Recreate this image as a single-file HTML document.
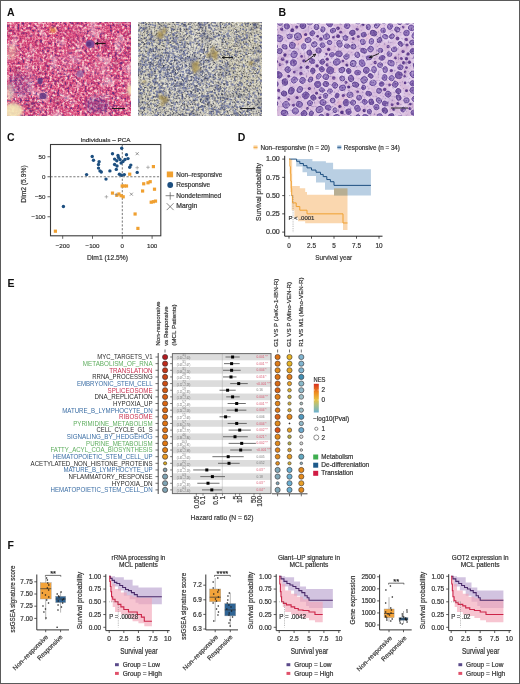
<!DOCTYPE html>
<html><head><meta charset="utf-8"><title>Figure</title>
<style>
html,body{margin:0;padding:0;background:#fff;}
body{width:520px;height:684px;overflow:hidden;}
svg{display:block;font-family:"Liberation Sans",sans-serif;will-change:transform;}
</style></head><body>
<svg width="520" height="684" viewBox="0 0 520 684">
<rect width="520" height="684" fill="#fff"/>
<text transform="translate(6.90 15.90)" font-size="10.5" fill="#111" font-weight="bold">A</text>
<text transform="translate(278.50 15.90)" font-size="10.5" fill="#111" font-weight="bold">B</text>
<defs>
<filter id="fA1" x="0" y="0" width="1" height="1" color-interpolation-filters="sRGB"><feTurbulence type="fractalNoise" baseFrequency="0.4" numOctaves="3" seed="3"/><feColorMatrix type="matrix" values="1.9 0 0 0 -0.44999999999999996  1.9 0 0 0 -0.44999999999999996  1.9 0 0 0 -0.44999999999999996  0 0 0 0 1"/><feComponentTransfer><feFuncR type="table" tableValues="0.416 0.588 0.753 0.847 0.878 0.910 0.933 0.957 0.973"/><feFuncG type="table" tableValues="0.188 0.227 0.227 0.275 0.353 0.471 0.612 0.737 0.863"/><feFuncB type="table" tableValues="0.502 0.502 0.463 0.471 0.533 0.604 0.690 0.769 0.839"/></feComponentTransfer><feGaussianBlur stdDeviation="0.35"/></filter>
<filter id="fA1c" x="0" y="0" width="1" height="1" color-interpolation-filters="sRGB"><feTurbulence type="fractalNoise" baseFrequency="0.08" numOctaves="2" seed="31"/><feColorMatrix type="matrix" values="2.0 0 0 0 -0.5  2.0 0 0 0 -0.5  2.0 0 0 0 -0.5  2.0 0 0 0 -0.5"/><feComponentTransfer><feFuncR type="table" tableValues="0.627 0.722 0.878 0.957 0.984"/><feFuncG type="table" tableValues="0.165 0.227 0.627 0.847 0.933"/><feFuncB type="table" tableValues="0.376 0.439 0.722 0.878 0.941"/><feFuncA type="table" tableValues="0.350 0.150 0.000 0.000 0.100 0.300 0.450"/></feComponentTransfer><feGaussianBlur stdDeviation="0"/></filter>
<filter id="fA1b" x="0" y="0" width="1" height="1" color-interpolation-filters="sRGB"><feTurbulence type="fractalNoise" baseFrequency="0.5" numOctaves="2" seed="9"/><feColorMatrix type="matrix" values="2.2 0 0 0 -0.6000000000000001  2.2 0 0 0 -0.6000000000000001  2.2 0 0 0 -0.6000000000000001  2.2 0 0 0 -0.6000000000000001"/><feComponentTransfer><feFuncR type="table" tableValues="0.353 0.416 0.478 0.541 0.604"/><feFuncG type="table" tableValues="0.227 0.251 0.290 0.353 0.416"/><feFuncB type="table" tableValues="0.541 0.565 0.596 0.627 0.659"/><feFuncA type="table" tableValues="0.800 0.400 0.050 0.000 0.000 0.000 0.000"/></feComponentTransfer><feGaussianBlur stdDeviation="0.35"/></filter>
<filter id="fA2" x="0" y="0" width="1" height="1" color-interpolation-filters="sRGB"><feTurbulence type="fractalNoise" baseFrequency="0.55" numOctaves="2" seed="5"/><feColorMatrix type="matrix" values="1.9 0 0 0 -0.44999999999999996  1.9 0 0 0 -0.44999999999999996  1.9 0 0 0 -0.44999999999999996  0 0 0 0 1"/><feComponentTransfer><feFuncR type="table" tableValues="0.235 0.361 0.518 0.651 0.745 0.808 0.855 0.894 0.933"/><feFuncG type="table" tableValues="0.251 0.376 0.518 0.651 0.741 0.804 0.851 0.890 0.929"/><feFuncB type="table" tableValues="0.337 0.455 0.565 0.667 0.729 0.784 0.824 0.855 0.902"/></feComponentTransfer><feGaussianBlur stdDeviation="0.3"/></filter>
<filter id="fBn" x="0" y="0" width="1" height="1" color-interpolation-filters="sRGB"><feTurbulence type="fractalNoise" baseFrequency="0.5" numOctaves="2" seed="23"/><feColorMatrix type="matrix" values="1.8 0 0 0 -0.4  1.8 0 0 0 -0.4  1.8 0 0 0 -0.4  1.8 0 0 0 -0.4"/><feComponentTransfer><feFuncR type="table" tableValues="0.290 0.478 0.722 0.910 0.957"/><feFuncG type="table" tableValues="0.188 0.353 0.596 0.847 0.918"/><feFuncB type="table" tableValues="0.502 0.659 0.784 0.925 0.957"/><feFuncA type="table" tableValues="0.350 0.150 0.000 0.000 0.000 0.200 0.350"/></feComponentTransfer><feGaussianBlur stdDeviation="0.35"/></filter>
<filter id="fA2d" x="0" y="0" width="1" height="1" color-interpolation-filters="sRGB"><feTurbulence type="fractalNoise" baseFrequency="0.09" numOctaves="2" seed="37"/><feColorMatrix type="matrix" values="2.0 0 0 0 -0.5  2.0 0 0 0 -0.5  2.0 0 0 0 -0.5  2.0 0 0 0 -0.5"/><feComponentTransfer><feFuncR type="table" tableValues="0.314 0.416 0.784 0.941 0.980"/><feFuncG type="table" tableValues="0.345 0.439 0.784 0.941 0.980"/><feFuncB type="table" tableValues="0.471 0.565 0.784 0.918 0.957"/><feFuncA type="table" tableValues="0.350 0.180 0.000 0.000 0.100 0.250 0.350"/></feComponentTransfer><feGaussianBlur stdDeviation="0"/></filter>
<filter id="fA2b" x="0" y="0" width="1" height="1" color-interpolation-filters="sRGB"><feTurbulence type="fractalNoise" baseFrequency="0.5" numOctaves="2" seed="13"/><feColorMatrix type="matrix" values="2.0 0 0 0 -0.5  2.0 0 0 0 -0.5  2.0 0 0 0 -0.5  2.0 0 0 0 -0.5"/><feComponentTransfer><feFuncR type="table" tableValues="0.627 0.690 0.753 0.816 0.878"/><feFuncG type="table" tableValues="0.565 0.627 0.690 0.769 0.847"/><feFuncB type="table" tableValues="0.314 0.376 0.439 0.533 0.659"/><feFuncA type="table" tableValues="0.000 0.050 0.120 0.220 0.320 0.400 0.450"/></feComponentTransfer><feGaussianBlur stdDeviation="0.35"/></filter>
<filter id="bl1" x="-0.5" y="-0.5" width="2" height="2"><feGaussianBlur stdDeviation="1.6"/></filter>
<filter id="bl4" x="-0.5" y="-0.5" width="2" height="2"><feGaussianBlur stdDeviation="5"/></filter>
<filter id="bl05" x="-0.2" y="-0.2" width="1.4" height="1.4"><feGaussianBlur stdDeviation="0.45"/></filter>
</defs>
<clipPath id="cA1"><rect x="7" y="22" width="124" height="94"/></clipPath>
<rect x="7.00" y="22.00" width="124.00" height="94.00" fill="#e07aa4" filter="url(#fA1)"/>
<rect x="7.00" y="22.00" width="124.00" height="94.00" fill="#e07aa4" filter="url(#fA1c)"/>
<mask id="mA1" maskUnits="userSpaceOnUse" x="7" y="22" width="124" height="94"><rect x="7" y="22" width="124" height="94" fill="#505050"/><g filter="url(#bl4)"><ellipse cx="28" cy="95" rx="22" ry="20" fill="#fff"/><ellipse cx="105" cy="105" rx="22" ry="12" fill="#fff"/><ellipse cx="65" cy="70" rx="14" ry="10" fill="#ddd"/><ellipse cx="120" cy="60" rx="10" ry="14" fill="#ccc"/><ellipse cx="40" cy="35" rx="28" ry="12" fill="#202020"/></g></mask>
<g mask="url(#mA1)">
<rect x="7.00" y="22.00" width="124.00" height="94.00" fill="#e07aa4" filter="url(#fA1b)"/>
</g>
<g clip-path="url(#cA1)">
<g filter="url(#bl1)">
<ellipse cx="13" cy="111" rx="10" ry="8" fill="#f4eab8" opacity="0.9"/>
<ellipse cx="10" cy="92" rx="4" ry="9" fill="#f2e2c0" opacity="0.6"/>
<ellipse cx="12" cy="52" rx="5" ry="8" fill="#f2c8b0" opacity="0.5"/>
<ellipse cx="131" cy="90" rx="4" ry="6" fill="#f4eab8" opacity="0.85"/>
<ellipse cx="53" cy="30" rx="3" ry="2.5" fill="#f0a040" opacity="0.8"/>
<ellipse cx="97" cy="105" rx="12" ry="8" fill="#6a3a90" opacity="0.35"/>
<ellipse cx="20" cy="85" rx="12" ry="12" fill="#7a4a9a" opacity="0.25"/>
<ellipse cx="70" cy="60" rx="10" ry="8" fill="#f0a0c0" opacity="0.25"/>
<ellipse cx="100" cy="70" rx="12" ry="10" fill="#f2b0c8" opacity="0.2"/>
<ellipse cx="30" cy="40" rx="12" ry="10" fill="#d03070" opacity="0.2"/>
<ellipse cx="75" cy="35" rx="10" ry="8" fill="#d03070" opacity="0.25"/>
</g>
<g filter="url(#bl05)">
<ellipse cx="90" cy="44" rx="4.5" ry="4" fill="#7c4b9a" opacity="0.95"/>
<ellipse cx="89" cy="44" rx="2.5" ry="2.3" fill="#5e3380" opacity="0.9"/>
<ellipse cx="80" cy="74" rx="3.5" ry="3.5" fill="#9a6aa8" opacity="0.8"/>
<ellipse cx="40" cy="81" rx="2.6" ry="3.2" fill="#5e3380" opacity="0.9"/>
<ellipse cx="43" cy="96" rx="3.6" ry="3.2" fill="#5e3380" opacity="0.85"/>
</g>
</g>
<line x1="105.50" y1="43.50" x2="95.50" y2="43.50" stroke="#111" stroke-width="0.9"/>
<line x1="95.50" y1="43.50" x2="98.20" y2="44.80" stroke="#111" stroke-width="0.9"/>
<line x1="95.50" y1="43.50" x2="98.20" y2="42.20" stroke="#111" stroke-width="0.9"/>
<line x1="112.00" y1="108.50" x2="125.00" y2="108.50" stroke="#222" stroke-width="1"/>
<clipPath id="cA2"><rect x="138" y="22" width="124" height="94"/></clipPath>
<rect x="138.00" y="22.00" width="124.00" height="94.00" fill="#c8c8c8" filter="url(#fA2)"/>
<rect x="138.00" y="22.00" width="124.00" height="94.00" fill="#c8c8c8" filter="url(#fA2d)"/>
<mask id="mA2y" maskUnits="userSpaceOnUse" x="138" y="22" width="124" height="94"><rect x="138" y="22" width="124" height="94" fill="#909090"/><g filter="url(#bl4)"><ellipse cx="245" cy="55" rx="22" ry="40" fill="#fff"/><ellipse cx="160" cy="35" rx="20" ry="12" fill="#fff"/><ellipse cx="150" cy="100" rx="12" ry="15" fill="#ddd"/><ellipse cx="185" cy="70" rx="25" ry="22" fill="#202020"/></g></mask>
<g mask="url(#mA2y)">
<rect x="138.00" y="22.00" width="124.00" height="94.00" fill="#c8c8c8" filter="url(#fA2b)"/>
</g>
<g clip-path="url(#cA2)">
<g opacity="0.85">
<circle cx="216.8" cy="50.3" r="0.87" fill="#6a72a0"/>
<circle cx="260.8" cy="28.2" r="0.96" fill="#5c6490"/>
<circle cx="201.6" cy="52.1" r="0.96" fill="#8088b0"/>
<circle cx="186.9" cy="39.4" r="0.62" fill="#646c98"/>
<circle cx="230.7" cy="74.6" r="0.68" fill="#6a72a0"/>
<circle cx="186.2" cy="78.2" r="0.92" fill="#4c5478"/>
<circle cx="235.4" cy="51.0" r="0.86" fill="#4c5478"/>
<circle cx="215.1" cy="93.2" r="1.02" fill="#7880aa"/>
<circle cx="237.6" cy="52.5" r="0.70" fill="#646c98"/>
<circle cx="159.4" cy="90.1" r="0.84" fill="#7880aa"/>
<circle cx="215.5" cy="89.8" r="0.65" fill="#7880aa"/>
<circle cx="243.1" cy="29.3" r="1.07" fill="#5c6490"/>
<circle cx="155.1" cy="25.7" r="1.03" fill="#8088b0"/>
<circle cx="166.3" cy="32.6" r="1.04" fill="#646c98"/>
<circle cx="199.9" cy="51.1" r="0.97" fill="#6a72a0"/>
<circle cx="178.8" cy="71.3" r="0.65" fill="#4c5478"/>
<circle cx="199.5" cy="64.3" r="0.65" fill="#5c6490"/>
<circle cx="241.9" cy="46.3" r="0.89" fill="#5c6490"/>
<circle cx="217.3" cy="44.1" r="0.64" fill="#7880aa"/>
<circle cx="161.1" cy="91.2" r="0.94" fill="#6a72a0"/>
<circle cx="199.5" cy="78.3" r="1.13" fill="#7880aa"/>
<circle cx="165.8" cy="26.0" r="1.14" fill="#7880aa"/>
<circle cx="148.2" cy="99.2" r="1.12" fill="#4c5478"/>
<circle cx="179.1" cy="98.1" r="0.73" fill="#5c6490"/>
<circle cx="202.0" cy="96.2" r="1.08" fill="#6a72a0"/>
<circle cx="225.8" cy="48.5" r="0.77" fill="#4c5478"/>
<circle cx="150.2" cy="94.2" r="0.72" fill="#6a72a0"/>
<circle cx="150.8" cy="39.5" r="1.10" fill="#4c5478"/>
<circle cx="255.4" cy="60.9" r="1.10" fill="#8088b0"/>
<circle cx="199.2" cy="69.6" r="0.90" fill="#8088b0"/>
<circle cx="222.0" cy="60.9" r="0.69" fill="#4c5478"/>
<circle cx="246.6" cy="97.6" r="0.85" fill="#5c6490"/>
<circle cx="169.2" cy="62.8" r="0.80" fill="#646c98"/>
<circle cx="152.8" cy="24.9" r="0.90" fill="#7880aa"/>
<circle cx="160.7" cy="70.4" r="1.07" fill="#7880aa"/>
<circle cx="145.7" cy="61.3" r="1.10" fill="#4c5478"/>
<circle cx="149.1" cy="64.2" r="0.78" fill="#8088b0"/>
<circle cx="226.7" cy="34.4" r="1.05" fill="#7880aa"/>
<circle cx="181.5" cy="92.5" r="0.97" fill="#6a72a0"/>
<circle cx="176.6" cy="77.6" r="0.89" fill="#8088b0"/>
<circle cx="244.1" cy="39.2" r="0.87" fill="#5c6490"/>
<circle cx="173.8" cy="37.5" r="0.71" fill="#646c98"/>
<circle cx="172.4" cy="79.6" r="1.00" fill="#5c6490"/>
<circle cx="148.3" cy="74.6" r="1.10" fill="#5c6490"/>
<circle cx="206.2" cy="59.6" r="0.96" fill="#8088b0"/>
<circle cx="140.5" cy="64.3" r="0.70" fill="#5c6490"/>
<circle cx="223.9" cy="68.8" r="0.95" fill="#7880aa"/>
<circle cx="156.3" cy="75.5" r="0.78" fill="#5c6490"/>
<circle cx="258.4" cy="34.5" r="0.72" fill="#4c5478"/>
<circle cx="182.6" cy="57.5" r="0.60" fill="#5c6490"/>
<circle cx="239.2" cy="36.4" r="1.03" fill="#6a72a0"/>
<circle cx="207.3" cy="79.8" r="0.84" fill="#4c5478"/>
<circle cx="180.1" cy="101.8" r="0.79" fill="#8088b0"/>
<circle cx="152.1" cy="53.5" r="0.61" fill="#7880aa"/>
<circle cx="199.1" cy="29.5" r="1.05" fill="#646c98"/>
<circle cx="203.4" cy="62.4" r="0.80" fill="#6a72a0"/>
<circle cx="180.2" cy="57.5" r="0.67" fill="#7880aa"/>
<circle cx="231.4" cy="107.2" r="0.82" fill="#8088b0"/>
<circle cx="148.3" cy="42.7" r="0.95" fill="#8088b0"/>
<circle cx="236.2" cy="113.4" r="1.12" fill="#4c5478"/>
<circle cx="256.0" cy="98.1" r="0.70" fill="#4c5478"/>
<circle cx="248.5" cy="99.0" r="0.97" fill="#4c5478"/>
<circle cx="253.1" cy="76.1" r="0.80" fill="#7880aa"/>
<circle cx="163.5" cy="94.8" r="0.78" fill="#8088b0"/>
<circle cx="224.9" cy="105.5" r="0.91" fill="#646c98"/>
<circle cx="210.5" cy="92.0" r="0.86" fill="#6a72a0"/>
<circle cx="228.3" cy="38.3" r="0.85" fill="#4c5478"/>
<circle cx="212.3" cy="86.1" r="0.69" fill="#646c98"/>
<circle cx="195.7" cy="95.1" r="0.83" fill="#646c98"/>
<circle cx="154.3" cy="84.2" r="0.83" fill="#7880aa"/>
<circle cx="257.2" cy="88.1" r="0.91" fill="#7880aa"/>
<circle cx="187.4" cy="78.5" r="0.97" fill="#6a72a0"/>
<circle cx="170.6" cy="100.7" r="1.10" fill="#7880aa"/>
<circle cx="235.1" cy="40.4" r="0.81" fill="#6a72a0"/>
<circle cx="183.3" cy="39.7" r="0.81" fill="#4c5478"/>
<circle cx="149.5" cy="52.3" r="0.97" fill="#5c6490"/>
<circle cx="158.4" cy="62.2" r="0.89" fill="#5c6490"/>
<circle cx="212.6" cy="95.4" r="0.98" fill="#4c5478"/>
<circle cx="184.4" cy="107.5" r="0.93" fill="#5c6490"/>
<circle cx="188.2" cy="48.6" r="0.80" fill="#4c5478"/>
<circle cx="148.0" cy="108.9" r="0.73" fill="#7880aa"/>
<circle cx="197.7" cy="105.2" r="1.09" fill="#646c98"/>
<circle cx="167.6" cy="99.8" r="0.95" fill="#5c6490"/>
<circle cx="225.3" cy="51.2" r="0.92" fill="#8088b0"/>
<circle cx="209.4" cy="27.3" r="1.15" fill="#6a72a0"/>
<circle cx="167.0" cy="83.4" r="0.84" fill="#4c5478"/>
<circle cx="180.1" cy="33.7" r="0.77" fill="#6a72a0"/>
<circle cx="157.9" cy="113.0" r="0.97" fill="#646c98"/>
<circle cx="253.5" cy="67.7" r="1.10" fill="#646c98"/>
<circle cx="199.3" cy="115.8" r="0.62" fill="#646c98"/>
<circle cx="187.8" cy="92.7" r="0.70" fill="#8088b0"/>
<circle cx="176.8" cy="47.0" r="0.77" fill="#6a72a0"/>
<circle cx="249.3" cy="94.2" r="0.83" fill="#5c6490"/>
<circle cx="209.1" cy="77.4" r="1.10" fill="#7880aa"/>
<circle cx="175.7" cy="46.4" r="0.66" fill="#646c98"/>
<circle cx="236.4" cy="32.2" r="0.95" fill="#4c5478"/>
<circle cx="195.5" cy="77.4" r="1.12" fill="#8088b0"/>
<circle cx="233.3" cy="107.3" r="0.75" fill="#4c5478"/>
<circle cx="165.2" cy="73.2" r="0.77" fill="#646c98"/>
<circle cx="167.9" cy="67.6" r="0.87" fill="#5c6490"/>
<circle cx="159.2" cy="49.8" r="0.97" fill="#4c5478"/>
<circle cx="153.5" cy="68.6" r="0.61" fill="#646c98"/>
<circle cx="154.0" cy="87.8" r="0.61" fill="#6a72a0"/>
<circle cx="206.4" cy="23.2" r="0.92" fill="#8088b0"/>
<circle cx="163.7" cy="67.9" r="0.79" fill="#4c5478"/>
<circle cx="241.8" cy="84.0" r="1.08" fill="#5c6490"/>
<circle cx="179.0" cy="40.3" r="0.64" fill="#6a72a0"/>
<circle cx="227.5" cy="43.5" r="1.07" fill="#8088b0"/>
<circle cx="155.5" cy="57.2" r="1.14" fill="#4c5478"/>
<circle cx="179.5" cy="50.6" r="0.86" fill="#8088b0"/>
<circle cx="253.1" cy="100.5" r="1.14" fill="#7880aa"/>
<circle cx="207.3" cy="70.6" r="0.82" fill="#8088b0"/>
<circle cx="259.4" cy="69.9" r="0.64" fill="#6a72a0"/>
<circle cx="157.0" cy="92.5" r="0.92" fill="#8088b0"/>
<circle cx="202.3" cy="74.4" r="0.73" fill="#7880aa"/>
<circle cx="227.9" cy="36.4" r="0.79" fill="#646c98"/>
<circle cx="176.4" cy="43.2" r="0.88" fill="#646c98"/>
<circle cx="153.3" cy="48.7" r="0.92" fill="#7880aa"/>
<circle cx="170.3" cy="109.0" r="0.72" fill="#7880aa"/>
<circle cx="224.7" cy="93.7" r="0.84" fill="#6a72a0"/>
<circle cx="214.3" cy="98.2" r="0.77" fill="#6a72a0"/>
<circle cx="198.8" cy="106.7" r="0.64" fill="#6a72a0"/>
<circle cx="146.6" cy="47.2" r="0.91" fill="#4c5478"/>
<circle cx="183.5" cy="53.5" r="1.10" fill="#5c6490"/>
<circle cx="145.1" cy="82.7" r="0.98" fill="#7880aa"/>
<circle cx="172.0" cy="84.7" r="0.99" fill="#4c5478"/>
<circle cx="202.3" cy="33.5" r="0.72" fill="#5c6490"/>
<circle cx="202.9" cy="83.7" r="0.88" fill="#7880aa"/>
<circle cx="170.2" cy="93.0" r="1.02" fill="#5c6490"/>
<circle cx="219.5" cy="56.8" r="0.87" fill="#4c5478"/>
<circle cx="149.9" cy="66.9" r="1.13" fill="#646c98"/>
<circle cx="207.4" cy="99.9" r="1.06" fill="#4c5478"/>
<circle cx="143.0" cy="92.3" r="0.65" fill="#6a72a0"/>
<circle cx="153.2" cy="81.3" r="1.02" fill="#7880aa"/>
<circle cx="225.1" cy="66.5" r="0.78" fill="#7880aa"/>
<circle cx="154.2" cy="104.1" r="0.60" fill="#6a72a0"/>
<circle cx="178.8" cy="58.8" r="0.64" fill="#8088b0"/>
<circle cx="177.9" cy="70.3" r="0.89" fill="#6a72a0"/>
<circle cx="209.2" cy="84.5" r="1.14" fill="#8088b0"/>
<circle cx="168.4" cy="97.5" r="0.75" fill="#646c98"/>
<circle cx="180.0" cy="61.9" r="0.71" fill="#8088b0"/>
<circle cx="257.7" cy="90.8" r="0.84" fill="#4c5478"/>
<circle cx="171.1" cy="109.1" r="0.79" fill="#6a72a0"/>
<circle cx="210.3" cy="54.2" r="0.81" fill="#4c5478"/>
<circle cx="176.0" cy="37.6" r="0.61" fill="#4c5478"/>
<circle cx="197.4" cy="99.9" r="0.86" fill="#8088b0"/>
<circle cx="256.4" cy="60.6" r="1.13" fill="#5c6490"/>
<circle cx="154.8" cy="60.8" r="0.76" fill="#4c5478"/>
<circle cx="173.7" cy="81.9" r="0.63" fill="#646c98"/>
<circle cx="196.1" cy="67.0" r="0.87" fill="#5c6490"/>
<circle cx="229.5" cy="54.9" r="0.73" fill="#5c6490"/>
<circle cx="235.1" cy="110.7" r="1.10" fill="#8088b0"/>
<circle cx="173.8" cy="86.8" r="0.74" fill="#4c5478"/>
<circle cx="186.3" cy="28.2" r="0.79" fill="#5c6490"/>
<circle cx="229.0" cy="24.0" r="0.96" fill="#646c98"/>
<circle cx="223.8" cy="102.8" r="0.72" fill="#6a72a0"/>
<circle cx="140.2" cy="92.6" r="0.71" fill="#5c6490"/>
<circle cx="171.0" cy="67.4" r="0.98" fill="#5c6490"/>
<circle cx="194.1" cy="104.0" r="0.69" fill="#8088b0"/>
<circle cx="192.3" cy="68.0" r="0.82" fill="#8088b0"/>
<circle cx="196.4" cy="58.5" r="0.76" fill="#8088b0"/>
<circle cx="235.9" cy="54.7" r="1.08" fill="#6a72a0"/>
<circle cx="227.9" cy="53.7" r="1.10" fill="#4c5478"/>
<circle cx="241.3" cy="102.3" r="0.78" fill="#4c5478"/>
<circle cx="179.4" cy="57.7" r="0.89" fill="#6a72a0"/>
<circle cx="163.4" cy="59.7" r="0.89" fill="#7880aa"/>
<circle cx="180.6" cy="116.0" r="0.66" fill="#4c5478"/>
<circle cx="253.0" cy="82.3" r="1.10" fill="#8088b0"/>
<circle cx="191.3" cy="84.1" r="0.89" fill="#4c5478"/>
<circle cx="235.4" cy="51.9" r="0.81" fill="#4c5478"/>
<circle cx="232.4" cy="107.7" r="0.68" fill="#6a72a0"/>
<circle cx="203.1" cy="110.2" r="0.88" fill="#4c5478"/>
<circle cx="170.5" cy="63.8" r="0.67" fill="#646c98"/>
<circle cx="242.3" cy="59.3" r="1.06" fill="#646c98"/>
<circle cx="179.2" cy="69.0" r="1.00" fill="#5c6490"/>
<circle cx="224.5" cy="109.9" r="0.78" fill="#4c5478"/>
<circle cx="171.5" cy="72.2" r="0.66" fill="#6a72a0"/>
<circle cx="231.0" cy="81.6" r="0.65" fill="#646c98"/>
<circle cx="173.5" cy="35.1" r="1.11" fill="#7880aa"/>
<circle cx="147.7" cy="85.2" r="1.02" fill="#6a72a0"/>
<circle cx="259.2" cy="79.0" r="0.78" fill="#8088b0"/>
<circle cx="149.4" cy="84.0" r="0.71" fill="#5c6490"/>
<circle cx="243.5" cy="64.7" r="0.98" fill="#5c6490"/>
<circle cx="202.3" cy="46.8" r="1.03" fill="#646c98"/>
<circle cx="254.8" cy="35.7" r="1.02" fill="#5c6490"/>
<circle cx="195.3" cy="39.5" r="1.12" fill="#646c98"/>
<circle cx="204.1" cy="25.0" r="1.10" fill="#5c6490"/>
<circle cx="220.5" cy="89.2" r="0.78" fill="#4c5478"/>
<circle cx="179.4" cy="58.1" r="0.82" fill="#8088b0"/>
<circle cx="223.0" cy="105.4" r="0.79" fill="#8088b0"/>
<circle cx="162.6" cy="67.5" r="0.72" fill="#4c5478"/>
<circle cx="143.4" cy="55.9" r="1.10" fill="#5c6490"/>
<circle cx="209.0" cy="98.0" r="0.67" fill="#5c6490"/>
<circle cx="213.7" cy="22.4" r="0.92" fill="#7880aa"/>
<circle cx="156.0" cy="76.4" r="1.03" fill="#5c6490"/>
<circle cx="239.3" cy="82.2" r="0.76" fill="#6a72a0"/>
<circle cx="182.0" cy="47.8" r="0.64" fill="#4c5478"/>
<circle cx="261.2" cy="111.0" r="1.08" fill="#4c5478"/>
<circle cx="218.9" cy="94.7" r="0.62" fill="#5c6490"/>
<circle cx="164.4" cy="55.6" r="0.64" fill="#7880aa"/>
<circle cx="250.1" cy="114.1" r="0.94" fill="#6a72a0"/>
<circle cx="173.8" cy="68.8" r="0.88" fill="#4c5478"/>
<circle cx="191.9" cy="87.6" r="0.79" fill="#646c98"/>
<circle cx="191.7" cy="102.1" r="0.80" fill="#4c5478"/>
<circle cx="178.8" cy="57.7" r="0.68" fill="#7880aa"/>
<circle cx="183.8" cy="39.1" r="0.88" fill="#4c5478"/>
<circle cx="195.1" cy="64.8" r="0.87" fill="#646c98"/>
<circle cx="216.1" cy="69.0" r="0.75" fill="#4c5478"/>
<circle cx="200.4" cy="107.0" r="0.90" fill="#5c6490"/>
<circle cx="167.5" cy="48.6" r="1.13" fill="#8088b0"/>
<circle cx="167.3" cy="39.4" r="1.08" fill="#646c98"/>
<circle cx="172.1" cy="40.8" r="0.86" fill="#5c6490"/>
<circle cx="165.8" cy="64.7" r="0.79" fill="#8088b0"/>
<circle cx="238.8" cy="31.3" r="0.78" fill="#4c5478"/>
<circle cx="215.2" cy="23.0" r="0.86" fill="#5c6490"/>
<circle cx="239.8" cy="106.7" r="1.05" fill="#6a72a0"/>
<circle cx="247.7" cy="101.6" r="0.70" fill="#6a72a0"/>
<circle cx="220.6" cy="109.1" r="1.15" fill="#646c98"/>
<circle cx="157.8" cy="100.3" r="0.88" fill="#6a72a0"/>
<circle cx="148.6" cy="104.9" r="0.92" fill="#4c5478"/>
<circle cx="159.8" cy="64.6" r="1.09" fill="#6a72a0"/>
<circle cx="213.6" cy="70.5" r="0.84" fill="#646c98"/>
<circle cx="225.5" cy="99.6" r="0.74" fill="#7880aa"/>
<circle cx="208.8" cy="61.8" r="0.95" fill="#6a72a0"/>
<circle cx="232.5" cy="56.8" r="0.82" fill="#5c6490"/>
<circle cx="183.3" cy="47.2" r="0.78" fill="#8088b0"/>
<circle cx="180.2" cy="87.7" r="0.75" fill="#8088b0"/>
<circle cx="204.9" cy="55.5" r="0.64" fill="#6a72a0"/>
<circle cx="165.1" cy="27.1" r="0.79" fill="#4c5478"/>
<circle cx="189.7" cy="63.6" r="0.72" fill="#7880aa"/>
<circle cx="193.3" cy="71.6" r="1.07" fill="#7880aa"/>
<circle cx="261.1" cy="80.6" r="1.08" fill="#4c5478"/>
<circle cx="203.2" cy="89.8" r="1.07" fill="#7880aa"/>
<circle cx="217.6" cy="55.3" r="1.11" fill="#7880aa"/>
<circle cx="177.2" cy="43.9" r="1.08" fill="#4c5478"/>
<circle cx="237.5" cy="115.0" r="1.10" fill="#646c98"/>
<circle cx="154.9" cy="68.8" r="0.64" fill="#6a72a0"/>
<circle cx="144.7" cy="65.2" r="1.04" fill="#6a72a0"/>
<circle cx="140.5" cy="28.0" r="1.13" fill="#5c6490"/>
<circle cx="157.1" cy="49.8" r="0.65" fill="#7880aa"/>
<circle cx="164.0" cy="68.0" r="0.87" fill="#7880aa"/>
<circle cx="244.6" cy="90.9" r="0.78" fill="#4c5478"/>
<circle cx="219.3" cy="91.1" r="1.11" fill="#5c6490"/>
<circle cx="148.6" cy="83.4" r="0.74" fill="#646c98"/>
<circle cx="194.4" cy="69.6" r="0.61" fill="#6a72a0"/>
<circle cx="219.1" cy="35.5" r="1.12" fill="#7880aa"/>
<circle cx="228.8" cy="107.3" r="1.08" fill="#7880aa"/>
<circle cx="146.8" cy="64.7" r="0.94" fill="#7880aa"/>
<circle cx="224.5" cy="107.8" r="0.87" fill="#5c6490"/>
<circle cx="244.2" cy="55.9" r="0.84" fill="#5c6490"/>
<circle cx="218.4" cy="55.5" r="0.81" fill="#6a72a0"/>
<circle cx="167.1" cy="66.2" r="0.66" fill="#8088b0"/>
<circle cx="192.1" cy="84.5" r="0.63" fill="#6a72a0"/>
<circle cx="192.9" cy="94.9" r="0.80" fill="#8088b0"/>
<circle cx="180.8" cy="107.1" r="0.76" fill="#646c98"/>
<circle cx="179.8" cy="68.2" r="0.94" fill="#4c5478"/>
<circle cx="152.9" cy="97.0" r="0.73" fill="#8088b0"/>
<circle cx="249.2" cy="112.5" r="0.78" fill="#6a72a0"/>
<circle cx="166.8" cy="61.0" r="0.61" fill="#7880aa"/>
<circle cx="198.9" cy="44.7" r="0.96" fill="#7880aa"/>
<circle cx="168.8" cy="52.9" r="0.68" fill="#6a72a0"/>
<circle cx="153.2" cy="55.6" r="1.05" fill="#5c6490"/>
<circle cx="160.2" cy="74.5" r="0.76" fill="#7880aa"/>
<circle cx="142.4" cy="114.4" r="0.89" fill="#8088b0"/>
<circle cx="142.5" cy="54.7" r="0.84" fill="#6a72a0"/>
<circle cx="193.4" cy="42.4" r="0.97" fill="#7880aa"/>
<circle cx="194.6" cy="65.8" r="0.92" fill="#8088b0"/>
<circle cx="222.0" cy="68.0" r="0.96" fill="#646c98"/>
<circle cx="201.1" cy="65.1" r="0.91" fill="#646c98"/>
<circle cx="237.6" cy="65.3" r="0.63" fill="#4c5478"/>
<circle cx="185.4" cy="66.8" r="1.09" fill="#7880aa"/>
<circle cx="197.6" cy="104.4" r="1.02" fill="#646c98"/>
<circle cx="163.3" cy="29.5" r="0.89" fill="#5c6490"/>
<circle cx="220.9" cy="107.7" r="0.69" fill="#7880aa"/>
<circle cx="157.3" cy="83.3" r="1.09" fill="#646c98"/>
<circle cx="208.8" cy="72.5" r="0.78" fill="#5c6490"/>
<circle cx="143.5" cy="23.1" r="0.98" fill="#7880aa"/>
<circle cx="254.1" cy="24.7" r="1.03" fill="#4c5478"/>
<circle cx="185.1" cy="89.0" r="0.78" fill="#5c6490"/>
<circle cx="160.7" cy="86.5" r="1.02" fill="#6a72a0"/>
<circle cx="141.1" cy="60.5" r="0.67" fill="#5c6490"/>
<circle cx="215.0" cy="26.0" r="0.99" fill="#8088b0"/>
<circle cx="223.7" cy="113.8" r="0.71" fill="#7880aa"/>
<circle cx="178.0" cy="48.5" r="0.95" fill="#8088b0"/>
<circle cx="224.4" cy="90.9" r="0.86" fill="#6a72a0"/>
<circle cx="214.6" cy="99.1" r="0.67" fill="#6a72a0"/>
<circle cx="161.6" cy="58.7" r="1.13" fill="#646c98"/>
<circle cx="223.4" cy="75.7" r="1.08" fill="#6a72a0"/>
<circle cx="225.7" cy="111.6" r="0.88" fill="#8088b0"/>
<circle cx="254.5" cy="108.7" r="0.89" fill="#5c6490"/>
<circle cx="155.5" cy="82.5" r="1.08" fill="#4c5478"/>
<circle cx="158.7" cy="60.9" r="0.64" fill="#7880aa"/>
<circle cx="220.5" cy="97.5" r="1.05" fill="#4c5478"/>
<circle cx="169.8" cy="89.4" r="0.82" fill="#646c98"/>
<circle cx="160.4" cy="43.8" r="0.61" fill="#7880aa"/>
<circle cx="210.5" cy="74.4" r="1.07" fill="#646c98"/>
<circle cx="196.3" cy="80.3" r="0.98" fill="#6a72a0"/>
<circle cx="190.8" cy="93.6" r="0.97" fill="#6a72a0"/>
<circle cx="183.3" cy="88.5" r="1.07" fill="#7880aa"/>
<circle cx="181.5" cy="50.7" r="1.01" fill="#4c5478"/>
<circle cx="151.3" cy="41.0" r="1.04" fill="#8088b0"/>
<circle cx="225.1" cy="101.4" r="1.08" fill="#6a72a0"/>
<circle cx="204.3" cy="106.5" r="0.97" fill="#4c5478"/>
<circle cx="195.4" cy="60.1" r="1.09" fill="#8088b0"/>
<circle cx="148.9" cy="54.3" r="0.71" fill="#5c6490"/>
<circle cx="153.2" cy="56.7" r="0.86" fill="#7880aa"/>
<circle cx="146.2" cy="24.8" r="0.82" fill="#6a72a0"/>
<circle cx="227.6" cy="62.3" r="0.73" fill="#5c6490"/>
<circle cx="247.0" cy="50.1" r="0.80" fill="#6a72a0"/>
<circle cx="217.7" cy="35.9" r="0.69" fill="#8088b0"/>
<circle cx="193.7" cy="84.9" r="0.81" fill="#6a72a0"/>
<circle cx="254.2" cy="102.8" r="0.76" fill="#8088b0"/>
<circle cx="214.3" cy="107.1" r="0.78" fill="#4c5478"/>
<circle cx="156.1" cy="48.4" r="1.13" fill="#6a72a0"/>
<circle cx="186.4" cy="79.8" r="1.00" fill="#8088b0"/>
<circle cx="158.9" cy="72.1" r="0.73" fill="#8088b0"/>
<circle cx="152.2" cy="59.9" r="1.09" fill="#7880aa"/>
<circle cx="222.8" cy="73.6" r="0.93" fill="#646c98"/>
<circle cx="173.7" cy="83.8" r="0.91" fill="#646c98"/>
<circle cx="243.3" cy="35.9" r="0.85" fill="#8088b0"/>
<circle cx="184.5" cy="53.7" r="0.82" fill="#6a72a0"/>
<circle cx="155.1" cy="115.0" r="0.91" fill="#8088b0"/>
<circle cx="167.1" cy="52.5" r="1.11" fill="#4c5478"/>
<circle cx="211.1" cy="38.6" r="1.14" fill="#4c5478"/>
<circle cx="167.7" cy="79.2" r="0.83" fill="#646c98"/>
<circle cx="216.1" cy="67.7" r="1.11" fill="#646c98"/>
<circle cx="214.8" cy="30.1" r="0.64" fill="#5c6490"/>
<circle cx="148.0" cy="52.1" r="0.68" fill="#4c5478"/>
<circle cx="148.8" cy="60.1" r="0.76" fill="#7880aa"/>
<circle cx="194.9" cy="75.0" r="1.07" fill="#4c5478"/>
<circle cx="182.3" cy="115.5" r="0.68" fill="#7880aa"/>
<circle cx="217.4" cy="26.1" r="0.84" fill="#7880aa"/>
<circle cx="186.5" cy="70.4" r="0.90" fill="#6a72a0"/>
<circle cx="164.5" cy="88.2" r="1.00" fill="#8088b0"/>
<circle cx="227.6" cy="70.3" r="1.04" fill="#7880aa"/>
<circle cx="203.3" cy="111.2" r="0.62" fill="#8088b0"/>
<circle cx="236.5" cy="36.6" r="1.03" fill="#5c6490"/>
<circle cx="140.2" cy="39.7" r="0.68" fill="#7880aa"/>
<circle cx="201.2" cy="24.5" r="1.02" fill="#8088b0"/>
<circle cx="143.1" cy="108.4" r="0.77" fill="#7880aa"/>
<circle cx="176.8" cy="22.2" r="0.96" fill="#8088b0"/>
<circle cx="181.9" cy="59.1" r="0.77" fill="#7880aa"/>
<circle cx="226.6" cy="81.8" r="0.65" fill="#4c5478"/>
<circle cx="181.7" cy="42.3" r="0.94" fill="#6a72a0"/>
<circle cx="168.0" cy="53.3" r="1.08" fill="#5c6490"/>
<circle cx="184.6" cy="79.0" r="0.97" fill="#646c98"/>
<circle cx="159.8" cy="71.8" r="1.05" fill="#646c98"/>
<circle cx="183.5" cy="25.9" r="0.72" fill="#6a72a0"/>
<circle cx="143.5" cy="23.0" r="1.02" fill="#4c5478"/>
<circle cx="149.9" cy="68.1" r="0.97" fill="#6a72a0"/>
<circle cx="174.8" cy="48.3" r="0.95" fill="#4c5478"/>
<circle cx="175.4" cy="41.5" r="1.11" fill="#8088b0"/>
<circle cx="158.4" cy="55.8" r="0.91" fill="#646c98"/>
<circle cx="179.5" cy="102.4" r="0.67" fill="#8088b0"/>
<circle cx="203.1" cy="108.4" r="1.04" fill="#7880aa"/>
<circle cx="177.1" cy="22.0" r="1.11" fill="#4c5478"/>
<circle cx="155.5" cy="47.8" r="1.07" fill="#4c5478"/>
<circle cx="235.2" cy="98.3" r="0.78" fill="#7880aa"/>
<circle cx="172.8" cy="72.6" r="0.69" fill="#5c6490"/>
<circle cx="161.0" cy="65.6" r="0.97" fill="#6a72a0"/>
<circle cx="162.1" cy="78.0" r="0.61" fill="#8088b0"/>
<circle cx="230.4" cy="103.2" r="0.68" fill="#4c5478"/>
<circle cx="167.1" cy="76.2" r="0.80" fill="#646c98"/>
<circle cx="196.7" cy="71.3" r="1.12" fill="#8088b0"/>
<circle cx="203.9" cy="103.0" r="0.92" fill="#5c6490"/>
<circle cx="201.7" cy="95.0" r="0.65" fill="#4c5478"/>
<circle cx="214.9" cy="99.0" r="0.61" fill="#4c5478"/>
<circle cx="220.7" cy="54.2" r="0.79" fill="#5c6490"/>
<circle cx="151.2" cy="58.9" r="0.91" fill="#8088b0"/>
<circle cx="166.5" cy="27.3" r="0.76" fill="#7880aa"/>
<circle cx="207.9" cy="96.1" r="0.87" fill="#5c6490"/>
<circle cx="138.8" cy="34.8" r="0.78" fill="#646c98"/>
<circle cx="261.7" cy="47.7" r="1.09" fill="#646c98"/>
<circle cx="162.8" cy="92.7" r="0.88" fill="#7880aa"/>
<circle cx="225.1" cy="52.2" r="0.61" fill="#646c98"/>
<circle cx="165.5" cy="50.6" r="1.03" fill="#646c98"/>
<circle cx="198.8" cy="83.6" r="1.07" fill="#646c98"/>
<circle cx="176.2" cy="49.2" r="1.08" fill="#6a72a0"/>
<circle cx="196.4" cy="73.4" r="1.04" fill="#7880aa"/>
<circle cx="234.7" cy="64.5" r="0.93" fill="#5c6490"/>
<circle cx="138.2" cy="99.4" r="0.92" fill="#646c98"/>
<circle cx="198.3" cy="41.6" r="1.04" fill="#7880aa"/>
<circle cx="155.3" cy="25.5" r="0.93" fill="#646c98"/>
<circle cx="163.2" cy="83.6" r="1.15" fill="#5c6490"/>
<circle cx="146.1" cy="37.5" r="0.91" fill="#646c98"/>
<circle cx="172.1" cy="60.6" r="0.78" fill="#5c6490"/>
<circle cx="162.1" cy="88.1" r="0.90" fill="#5c6490"/>
<circle cx="218.2" cy="57.5" r="0.99" fill="#8088b0"/>
<circle cx="227.0" cy="67.1" r="0.70" fill="#646c98"/>
<circle cx="162.6" cy="40.2" r="1.05" fill="#8088b0"/>
<circle cx="168.7" cy="55.6" r="1.05" fill="#646c98"/>
<circle cx="156.4" cy="91.3" r="0.82" fill="#646c98"/>
<circle cx="165.1" cy="53.0" r="0.75" fill="#4c5478"/>
<circle cx="193.4" cy="107.5" r="1.03" fill="#7880aa"/>
<circle cx="172.7" cy="79.6" r="0.81" fill="#4c5478"/>
<circle cx="208.9" cy="102.5" r="1.06" fill="#4c5478"/>
<circle cx="186.0" cy="31.2" r="0.73" fill="#646c98"/>
<circle cx="173.4" cy="71.7" r="1.12" fill="#646c98"/>
<circle cx="173.8" cy="74.0" r="0.72" fill="#5c6490"/>
<circle cx="194.8" cy="95.8" r="0.99" fill="#7880aa"/>
<circle cx="247.6" cy="110.7" r="1.10" fill="#4c5478"/>
<circle cx="255.4" cy="28.2" r="0.89" fill="#7880aa"/>
<circle cx="167.1" cy="60.5" r="1.01" fill="#6a72a0"/>
<circle cx="198.0" cy="81.5" r="0.96" fill="#5c6490"/>
<circle cx="153.9" cy="81.9" r="1.01" fill="#5c6490"/>
<circle cx="189.0" cy="57.5" r="0.91" fill="#646c98"/>
<circle cx="187.1" cy="85.3" r="0.75" fill="#8088b0"/>
<circle cx="139.1" cy="30.4" r="0.97" fill="#646c98"/>
<circle cx="138.6" cy="37.4" r="0.75" fill="#5c6490"/>
<circle cx="229.1" cy="115.7" r="0.92" fill="#5c6490"/>
<circle cx="138.9" cy="70.0" r="1.10" fill="#5c6490"/>
<circle cx="158.5" cy="64.1" r="0.87" fill="#6a72a0"/>
<circle cx="240.2" cy="37.8" r="1.01" fill="#646c98"/>
<circle cx="145.5" cy="63.4" r="0.98" fill="#8088b0"/>
<circle cx="241.4" cy="78.0" r="1.02" fill="#4c5478"/>
<circle cx="158.9" cy="67.5" r="0.63" fill="#6a72a0"/>
<circle cx="150.4" cy="108.9" r="1.01" fill="#7880aa"/>
<circle cx="181.6" cy="57.5" r="0.97" fill="#5c6490"/>
<circle cx="151.8" cy="51.6" r="0.81" fill="#4c5478"/>
<circle cx="165.5" cy="73.8" r="1.01" fill="#6a72a0"/>
<circle cx="151.5" cy="34.6" r="0.65" fill="#646c98"/>
<circle cx="168.3" cy="59.1" r="0.81" fill="#5c6490"/>
<circle cx="180.9" cy="47.6" r="0.88" fill="#7880aa"/>
<circle cx="146.2" cy="46.6" r="0.92" fill="#7880aa"/>
<circle cx="254.6" cy="24.9" r="1.14" fill="#7880aa"/>
<circle cx="151.2" cy="58.4" r="0.71" fill="#646c98"/>
<circle cx="257.5" cy="50.8" r="0.92" fill="#7880aa"/>
<circle cx="171.3" cy="53.3" r="1.09" fill="#7880aa"/>
<circle cx="192.7" cy="111.6" r="0.98" fill="#4c5478"/>
<circle cx="207.0" cy="102.3" r="0.76" fill="#8088b0"/>
<circle cx="242.4" cy="106.0" r="0.89" fill="#6a72a0"/>
<circle cx="177.3" cy="103.1" r="0.69" fill="#5c6490"/>
<circle cx="163.4" cy="76.7" r="0.84" fill="#7880aa"/>
<circle cx="200.5" cy="26.5" r="0.70" fill="#6a72a0"/>
<circle cx="250.5" cy="57.8" r="0.86" fill="#8088b0"/>
<circle cx="163.9" cy="52.5" r="1.01" fill="#8088b0"/>
<circle cx="194.0" cy="81.9" r="0.63" fill="#646c98"/>
<circle cx="206.5" cy="98.9" r="0.76" fill="#646c98"/>
<circle cx="223.1" cy="41.2" r="0.68" fill="#6a72a0"/>
<circle cx="244.6" cy="87.4" r="0.90" fill="#646c98"/>
<circle cx="210.2" cy="59.5" r="0.82" fill="#8088b0"/>
<circle cx="209.4" cy="108.5" r="1.04" fill="#7880aa"/>
<circle cx="163.9" cy="107.7" r="1.04" fill="#5c6490"/>
<circle cx="235.3" cy="97.8" r="0.68" fill="#646c98"/>
<circle cx="173.2" cy="72.1" r="0.76" fill="#646c98"/>
<circle cx="224.6" cy="107.9" r="1.07" fill="#646c98"/>
<circle cx="230.8" cy="101.7" r="0.77" fill="#8088b0"/>
<circle cx="145.2" cy="103.1" r="1.01" fill="#8088b0"/>
<circle cx="142.5" cy="61.9" r="0.82" fill="#8088b0"/>
<circle cx="183.3" cy="74.5" r="1.09" fill="#7880aa"/>
<circle cx="140.5" cy="26.9" r="0.63" fill="#8088b0"/>
<circle cx="142.5" cy="58.7" r="1.13" fill="#4c5478"/>
<circle cx="180.3" cy="84.2" r="0.86" fill="#6a72a0"/>
<circle cx="201.3" cy="48.0" r="0.87" fill="#6a72a0"/>
<circle cx="149.2" cy="24.7" r="0.66" fill="#646c98"/>
<circle cx="206.7" cy="96.4" r="0.98" fill="#4c5478"/>
<circle cx="159.8" cy="107.2" r="0.72" fill="#4c5478"/>
<circle cx="160.8" cy="106.9" r="0.82" fill="#646c98"/>
<circle cx="151.0" cy="90.8" r="1.12" fill="#6a72a0"/>
<circle cx="167.9" cy="78.4" r="0.71" fill="#4c5478"/>
<circle cx="231.6" cy="56.5" r="0.90" fill="#4c5478"/>
<circle cx="203.8" cy="61.9" r="0.85" fill="#5c6490"/>
<circle cx="138.2" cy="44.2" r="0.64" fill="#8088b0"/>
<circle cx="254.8" cy="41.2" r="0.94" fill="#6a72a0"/>
<circle cx="251.7" cy="69.0" r="0.60" fill="#7880aa"/>
<circle cx="246.7" cy="43.8" r="1.11" fill="#4c5478"/>
<circle cx="147.7" cy="44.3" r="0.88" fill="#8088b0"/>
<circle cx="252.0" cy="60.1" r="0.81" fill="#8088b0"/>
<circle cx="138.2" cy="34.0" r="0.65" fill="#7880aa"/>
<circle cx="190.0" cy="26.8" r="1.08" fill="#6a72a0"/>
<circle cx="222.7" cy="114.2" r="0.66" fill="#7880aa"/>
<circle cx="209.4" cy="26.7" r="0.74" fill="#7880aa"/>
<circle cx="208.2" cy="101.0" r="0.84" fill="#8088b0"/>
<circle cx="155.6" cy="105.3" r="0.82" fill="#8088b0"/>
<circle cx="173.4" cy="82.8" r="0.89" fill="#6a72a0"/>
<circle cx="227.7" cy="106.5" r="1.01" fill="#6a72a0"/>
<circle cx="182.5" cy="114.2" r="1.14" fill="#4c5478"/>
<circle cx="227.2" cy="105.8" r="0.99" fill="#6a72a0"/>
<circle cx="190.4" cy="74.0" r="0.65" fill="#7880aa"/>
<circle cx="212.0" cy="114.7" r="0.94" fill="#8088b0"/>
<circle cx="185.4" cy="26.4" r="0.85" fill="#6a72a0"/>
<circle cx="163.9" cy="69.9" r="0.86" fill="#7880aa"/>
<circle cx="250.0" cy="108.2" r="0.75" fill="#7880aa"/>
<circle cx="148.1" cy="60.1" r="0.86" fill="#4c5478"/>
<circle cx="223.2" cy="57.8" r="0.69" fill="#6a72a0"/>
<circle cx="142.9" cy="71.9" r="0.94" fill="#4c5478"/>
<circle cx="254.7" cy="53.2" r="0.93" fill="#7880aa"/>
<circle cx="223.4" cy="72.8" r="0.76" fill="#7880aa"/>
<circle cx="258.6" cy="107.5" r="0.84" fill="#4c5478"/>
<circle cx="239.8" cy="97.1" r="1.07" fill="#7880aa"/>
<circle cx="161.1" cy="55.2" r="0.80" fill="#5c6490"/>
<circle cx="189.1" cy="88.2" r="0.96" fill="#7880aa"/>
<circle cx="158.7" cy="92.0" r="0.65" fill="#8088b0"/>
<circle cx="158.3" cy="97.3" r="0.77" fill="#8088b0"/>
<circle cx="191.5" cy="65.7" r="0.98" fill="#8088b0"/>
<circle cx="184.1" cy="46.4" r="1.03" fill="#646c98"/>
<circle cx="185.2" cy="54.9" r="0.95" fill="#6a72a0"/>
<circle cx="198.0" cy="89.6" r="0.80" fill="#4c5478"/>
<circle cx="196.5" cy="110.0" r="0.78" fill="#4c5478"/>
<circle cx="184.8" cy="44.0" r="0.94" fill="#5c6490"/>
<circle cx="191.6" cy="92.8" r="0.99" fill="#4c5478"/>
<circle cx="203.6" cy="66.8" r="1.00" fill="#4c5478"/>
<circle cx="165.3" cy="36.4" r="0.68" fill="#6a72a0"/>
<circle cx="254.0" cy="59.4" r="0.74" fill="#7880aa"/>
<circle cx="166.2" cy="29.5" r="0.87" fill="#7880aa"/>
<circle cx="234.7" cy="113.8" r="0.91" fill="#4c5478"/>
<circle cx="146.6" cy="43.4" r="0.76" fill="#4c5478"/>
<circle cx="212.3" cy="108.1" r="0.95" fill="#7880aa"/>
<circle cx="209.0" cy="27.7" r="0.78" fill="#4c5478"/>
<circle cx="191.2" cy="102.3" r="0.80" fill="#646c98"/>
<circle cx="213.2" cy="111.3" r="1.11" fill="#5c6490"/>
<circle cx="139.4" cy="88.7" r="1.06" fill="#646c98"/>
<circle cx="152.3" cy="36.7" r="1.00" fill="#5c6490"/>
<circle cx="144.1" cy="50.1" r="0.77" fill="#5c6490"/>
<circle cx="242.1" cy="112.6" r="0.87" fill="#8088b0"/>
<circle cx="254.3" cy="96.9" r="0.63" fill="#646c98"/>
<circle cx="176.2" cy="41.0" r="0.94" fill="#8088b0"/>
<circle cx="188.3" cy="70.0" r="1.09" fill="#6a72a0"/>
<circle cx="151.8" cy="75.5" r="0.99" fill="#646c98"/>
<circle cx="140.1" cy="35.9" r="0.82" fill="#8088b0"/>
<circle cx="168.5" cy="40.6" r="1.01" fill="#646c98"/>
<circle cx="197.4" cy="61.4" r="0.66" fill="#646c98"/>
<circle cx="144.2" cy="101.9" r="0.61" fill="#6a72a0"/>
<circle cx="220.7" cy="88.4" r="0.90" fill="#4c5478"/>
<circle cx="217.0" cy="88.6" r="1.04" fill="#646c98"/>
<circle cx="189.7" cy="73.7" r="1.14" fill="#4c5478"/>
<circle cx="176.0" cy="77.5" r="0.83" fill="#8088b0"/>
<circle cx="153.9" cy="93.2" r="0.90" fill="#5c6490"/>
<circle cx="205.4" cy="71.2" r="0.64" fill="#7880aa"/>
<circle cx="154.6" cy="58.1" r="0.83" fill="#646c98"/>
<circle cx="229.9" cy="99.2" r="1.04" fill="#8088b0"/>
<circle cx="173.7" cy="102.2" r="0.71" fill="#4c5478"/>
<circle cx="140.3" cy="86.6" r="0.65" fill="#6a72a0"/>
<circle cx="225.4" cy="54.4" r="0.83" fill="#8088b0"/>
<circle cx="241.7" cy="47.4" r="0.62" fill="#646c98"/>
<circle cx="259.1" cy="107.9" r="1.08" fill="#4c5478"/>
<circle cx="160.3" cy="39.9" r="1.03" fill="#646c98"/>
<circle cx="178.2" cy="95.4" r="0.89" fill="#4c5478"/>
<circle cx="241.1" cy="108.9" r="1.11" fill="#5c6490"/>
<circle cx="181.8" cy="60.8" r="0.97" fill="#4c5478"/>
<circle cx="142.3" cy="108.6" r="0.73" fill="#7880aa"/>
<circle cx="174.7" cy="55.9" r="1.13" fill="#7880aa"/>
<circle cx="191.4" cy="79.7" r="0.80" fill="#6a72a0"/>
<circle cx="148.9" cy="56.2" r="0.64" fill="#646c98"/>
<circle cx="197.5" cy="109.8" r="0.99" fill="#7880aa"/>
<circle cx="164.9" cy="112.0" r="0.85" fill="#4c5478"/>
<circle cx="217.4" cy="111.6" r="1.05" fill="#6a72a0"/>
<circle cx="142.1" cy="42.4" r="0.84" fill="#4c5478"/>
<circle cx="197.7" cy="52.7" r="1.10" fill="#8088b0"/>
<circle cx="203.0" cy="51.9" r="0.99" fill="#646c98"/>
<circle cx="195.9" cy="41.2" r="0.60" fill="#646c98"/>
<circle cx="196.4" cy="48.2" r="0.95" fill="#7880aa"/>
<circle cx="184.4" cy="83.2" r="1.10" fill="#8088b0"/>
<circle cx="205.3" cy="77.4" r="1.08" fill="#4c5478"/>
<circle cx="213.3" cy="30.9" r="0.92" fill="#8088b0"/>
<circle cx="174.0" cy="107.6" r="1.14" fill="#646c98"/>
<circle cx="153.7" cy="74.0" r="0.62" fill="#6a72a0"/>
<circle cx="257.8" cy="80.5" r="0.73" fill="#6a72a0"/>
<circle cx="248.1" cy="23.6" r="1.05" fill="#4c5478"/>
<circle cx="216.9" cy="112.6" r="1.11" fill="#646c98"/>
<circle cx="224.1" cy="35.9" r="1.12" fill="#4c5478"/>
<circle cx="153.2" cy="62.7" r="0.65" fill="#4c5478"/>
<circle cx="165.6" cy="58.8" r="0.71" fill="#4c5478"/>
<circle cx="198.7" cy="83.8" r="0.90" fill="#646c98"/>
<circle cx="202.7" cy="71.2" r="0.70" fill="#7880aa"/>
<circle cx="248.4" cy="102.2" r="1.01" fill="#6a72a0"/>
<circle cx="166.8" cy="32.5" r="0.82" fill="#6a72a0"/>
<circle cx="174.9" cy="104.6" r="1.08" fill="#7880aa"/>
<circle cx="185.5" cy="57.6" r="0.63" fill="#4c5478"/>
<circle cx="188.1" cy="102.1" r="0.90" fill="#6a72a0"/>
<circle cx="189.4" cy="28.9" r="1.06" fill="#7880aa"/>
<circle cx="142.3" cy="107.7" r="1.14" fill="#5c6490"/>
<circle cx="192.9" cy="68.1" r="0.98" fill="#5c6490"/>
<circle cx="221.4" cy="35.7" r="0.79" fill="#7880aa"/>
<circle cx="228.9" cy="30.8" r="0.87" fill="#6a72a0"/>
<circle cx="171.8" cy="88.1" r="0.88" fill="#8088b0"/>
<circle cx="241.7" cy="85.1" r="1.09" fill="#7880aa"/>
<circle cx="227.5" cy="105.9" r="0.90" fill="#8088b0"/>
<circle cx="220.6" cy="54.1" r="0.75" fill="#7880aa"/>
<circle cx="202.6" cy="96.9" r="1.05" fill="#8088b0"/>
<circle cx="143.6" cy="27.6" r="0.69" fill="#8088b0"/>
<circle cx="243.9" cy="111.5" r="0.98" fill="#6a72a0"/>
<circle cx="201.5" cy="107.2" r="0.81" fill="#646c98"/>
<circle cx="238.2" cy="88.7" r="0.71" fill="#4c5478"/>
<circle cx="183.4" cy="97.2" r="0.65" fill="#7880aa"/>
<circle cx="260.4" cy="113.7" r="0.88" fill="#8088b0"/>
<circle cx="187.0" cy="76.1" r="0.96" fill="#4c5478"/>
<circle cx="172.7" cy="70.8" r="1.13" fill="#4c5478"/>
<circle cx="176.7" cy="61.0" r="0.80" fill="#8088b0"/>
<circle cx="165.1" cy="39.9" r="0.86" fill="#5c6490"/>
<circle cx="257.4" cy="73.4" r="0.87" fill="#5c6490"/>
<circle cx="187.0" cy="113.3" r="0.88" fill="#7880aa"/>
<circle cx="211.3" cy="108.6" r="0.80" fill="#646c98"/>
<circle cx="261.9" cy="25.5" r="0.87" fill="#4c5478"/>
<circle cx="243.8" cy="105.8" r="0.77" fill="#8088b0"/>
<circle cx="163.0" cy="114.5" r="0.99" fill="#7880aa"/>
<circle cx="181.3" cy="84.6" r="1.03" fill="#4c5478"/>
<circle cx="179.8" cy="90.8" r="0.96" fill="#4c5478"/>
<circle cx="194.0" cy="99.1" r="0.91" fill="#8088b0"/>
<circle cx="207.4" cy="37.0" r="1.08" fill="#4c5478"/>
<circle cx="235.4" cy="76.6" r="0.68" fill="#4c5478"/>
<circle cx="227.2" cy="115.6" r="0.81" fill="#646c98"/>
<circle cx="211.8" cy="96.1" r="0.94" fill="#646c98"/>
<circle cx="148.9" cy="76.0" r="0.70" fill="#8088b0"/>
<circle cx="236.5" cy="38.7" r="1.04" fill="#5c6490"/>
<circle cx="209.1" cy="25.1" r="1.04" fill="#4c5478"/>
<circle cx="208.5" cy="103.2" r="0.79" fill="#4c5478"/>
<circle cx="234.0" cy="85.3" r="0.70" fill="#8088b0"/>
<circle cx="175.8" cy="37.9" r="0.89" fill="#6a72a0"/>
<circle cx="221.5" cy="32.5" r="0.63" fill="#8088b0"/>
<circle cx="206.1" cy="39.8" r="0.71" fill="#7880aa"/>
<circle cx="186.4" cy="70.4" r="1.00" fill="#4c5478"/>
<circle cx="260.2" cy="52.0" r="1.04" fill="#5c6490"/>
<circle cx="185.5" cy="45.9" r="0.70" fill="#4c5478"/>
<circle cx="184.6" cy="50.8" r="1.03" fill="#6a72a0"/>
<circle cx="211.2" cy="113.2" r="1.07" fill="#5c6490"/>
<circle cx="204.7" cy="34.1" r="1.00" fill="#4c5478"/>
<circle cx="255.0" cy="113.9" r="0.60" fill="#7880aa"/>
<circle cx="206.9" cy="76.1" r="0.94" fill="#8088b0"/>
<circle cx="199.1" cy="57.2" r="0.61" fill="#7880aa"/>
<circle cx="193.1" cy="83.0" r="1.01" fill="#8088b0"/>
<circle cx="216.7" cy="36.1" r="0.88" fill="#7880aa"/>
<circle cx="160.0" cy="72.3" r="1.15" fill="#4c5478"/>
<circle cx="177.3" cy="66.3" r="0.93" fill="#6a72a0"/>
<circle cx="246.1" cy="53.1" r="0.93" fill="#7880aa"/>
<circle cx="160.1" cy="88.5" r="0.89" fill="#6a72a0"/>
<circle cx="206.3" cy="66.9" r="1.00" fill="#6a72a0"/>
<circle cx="163.2" cy="93.0" r="0.98" fill="#8088b0"/>
<circle cx="211.5" cy="47.2" r="1.11" fill="#8088b0"/>
<circle cx="189.1" cy="109.9" r="0.92" fill="#8088b0"/>
<circle cx="258.9" cy="71.6" r="0.97" fill="#8088b0"/>
<circle cx="208.3" cy="99.0" r="0.70" fill="#6a72a0"/>
<circle cx="144.2" cy="79.3" r="1.03" fill="#6a72a0"/>
<circle cx="156.0" cy="67.9" r="1.05" fill="#646c98"/>
<circle cx="139.1" cy="70.8" r="0.82" fill="#7880aa"/>
<circle cx="233.8" cy="68.4" r="1.06" fill="#646c98"/>
<circle cx="166.5" cy="31.4" r="0.78" fill="#4c5478"/>
<circle cx="182.9" cy="71.7" r="0.74" fill="#6a72a0"/>
<circle cx="155.0" cy="106.0" r="0.81" fill="#5c6490"/>
<circle cx="207.3" cy="93.3" r="0.66" fill="#6a72a0"/>
<circle cx="233.1" cy="109.7" r="0.82" fill="#8088b0"/>
<circle cx="213.7" cy="34.6" r="0.90" fill="#5c6490"/>
<circle cx="183.9" cy="88.2" r="1.09" fill="#8088b0"/>
<circle cx="210.7" cy="27.5" r="0.68" fill="#646c98"/>
<circle cx="146.9" cy="33.5" r="0.69" fill="#4c5478"/>
<circle cx="190.9" cy="113.8" r="1.10" fill="#646c98"/>
<circle cx="161.5" cy="91.9" r="0.62" fill="#646c98"/>
<circle cx="219.4" cy="79.4" r="1.06" fill="#5c6490"/>
<circle cx="168.3" cy="43.2" r="1.09" fill="#5c6490"/>
<circle cx="151.9" cy="43.7" r="0.97" fill="#6a72a0"/>
<circle cx="255.4" cy="95.6" r="0.87" fill="#8088b0"/>
<circle cx="193.9" cy="59.4" r="1.14" fill="#646c98"/>
<circle cx="225.2" cy="76.8" r="0.68" fill="#5c6490"/>
<circle cx="177.2" cy="77.6" r="1.15" fill="#6a72a0"/>
<circle cx="151.3" cy="31.9" r="0.92" fill="#4c5478"/>
<circle cx="216.8" cy="110.4" r="1.00" fill="#8088b0"/>
<circle cx="256.2" cy="41.9" r="0.96" fill="#7880aa"/>
<circle cx="188.9" cy="107.7" r="0.64" fill="#7880aa"/>
<circle cx="169.0" cy="89.7" r="0.71" fill="#5c6490"/>
<circle cx="214.7" cy="69.7" r="0.76" fill="#5c6490"/>
<circle cx="155.9" cy="53.5" r="0.84" fill="#7880aa"/>
<circle cx="217.2" cy="86.4" r="1.13" fill="#646c98"/>
<circle cx="223.7" cy="77.9" r="0.64" fill="#8088b0"/>
<circle cx="201.7" cy="105.7" r="0.74" fill="#6a72a0"/>
<circle cx="154.2" cy="58.0" r="0.62" fill="#8088b0"/>
<circle cx="158.3" cy="28.5" r="0.60" fill="#6a72a0"/>
<circle cx="227.0" cy="65.6" r="0.89" fill="#7880aa"/>
<circle cx="212.2" cy="98.4" r="0.73" fill="#7880aa"/>
<circle cx="187.8" cy="58.4" r="1.03" fill="#7880aa"/>
<circle cx="261.8" cy="106.9" r="0.64" fill="#7880aa"/>
<circle cx="158.9" cy="85.2" r="1.12" fill="#7880aa"/>
<circle cx="180.2" cy="64.6" r="1.09" fill="#8088b0"/>
<circle cx="151.3" cy="63.4" r="1.13" fill="#4c5478"/>
<circle cx="195.6" cy="86.7" r="0.66" fill="#6a72a0"/>
<circle cx="186.9" cy="78.1" r="1.09" fill="#6a72a0"/>
<circle cx="253.6" cy="64.0" r="1.13" fill="#6a72a0"/>
<circle cx="138.4" cy="73.1" r="0.71" fill="#646c98"/>
<circle cx="148.4" cy="53.1" r="0.74" fill="#5c6490"/>
<circle cx="177.8" cy="32.5" r="0.63" fill="#7880aa"/>
<circle cx="190.9" cy="59.8" r="1.08" fill="#646c98"/>
<circle cx="204.7" cy="22.8" r="0.96" fill="#5c6490"/>
<circle cx="249.8" cy="110.2" r="0.86" fill="#5c6490"/>
<circle cx="254.6" cy="38.8" r="0.78" fill="#5c6490"/>
<circle cx="161.9" cy="33.0" r="1.14" fill="#6a72a0"/>
<circle cx="235.3" cy="88.1" r="0.79" fill="#4c5478"/>
<circle cx="173.9" cy="41.3" r="0.90" fill="#4c5478"/>
<circle cx="189.5" cy="94.9" r="0.92" fill="#4c5478"/>
<circle cx="139.9" cy="85.5" r="1.01" fill="#646c98"/>
<circle cx="229.8" cy="36.6" r="0.65" fill="#5c6490"/>
<circle cx="142.3" cy="61.5" r="0.96" fill="#7880aa"/>
<circle cx="138.8" cy="45.4" r="0.92" fill="#646c98"/>
<circle cx="161.4" cy="91.0" r="0.85" fill="#6a72a0"/>
<circle cx="235.5" cy="31.5" r="0.62" fill="#8088b0"/>
<circle cx="234.4" cy="77.0" r="0.65" fill="#4c5478"/>
<circle cx="181.4" cy="77.3" r="0.65" fill="#7880aa"/>
<circle cx="208.0" cy="92.6" r="0.82" fill="#8088b0"/>
<circle cx="198.5" cy="65.2" r="0.91" fill="#6a72a0"/>
<circle cx="141.4" cy="93.6" r="1.12" fill="#4c5478"/>
<circle cx="181.2" cy="78.7" r="0.87" fill="#7880aa"/>
<circle cx="203.6" cy="101.1" r="0.96" fill="#5c6490"/>
<circle cx="192.0" cy="72.6" r="1.07" fill="#7880aa"/>
<circle cx="180.7" cy="64.8" r="0.74" fill="#4c5478"/>
<circle cx="166.8" cy="104.7" r="0.78" fill="#5c6490"/>
<circle cx="165.0" cy="67.8" r="0.87" fill="#8088b0"/>
<circle cx="231.1" cy="99.6" r="0.84" fill="#4c5478"/>
<circle cx="166.0" cy="70.4" r="0.94" fill="#8088b0"/>
<circle cx="192.4" cy="71.6" r="1.05" fill="#7880aa"/>
<circle cx="177.4" cy="38.0" r="0.92" fill="#8088b0"/>
<circle cx="165.7" cy="67.6" r="1.08" fill="#7880aa"/>
<circle cx="165.4" cy="75.8" r="0.66" fill="#8088b0"/>
<circle cx="246.6" cy="44.2" r="1.12" fill="#8088b0"/>
<circle cx="209.4" cy="64.6" r="0.82" fill="#5c6490"/>
<circle cx="174.2" cy="39.9" r="1.09" fill="#7880aa"/>
<circle cx="184.5" cy="60.4" r="1.12" fill="#6a72a0"/>
<circle cx="179.6" cy="52.4" r="0.61" fill="#7880aa"/>
<circle cx="188.6" cy="94.1" r="1.09" fill="#8088b0"/>
<circle cx="176.3" cy="86.6" r="0.80" fill="#7880aa"/>
<circle cx="219.5" cy="89.5" r="0.98" fill="#8088b0"/>
<circle cx="261.1" cy="81.1" r="0.99" fill="#8088b0"/>
<circle cx="171.7" cy="109.8" r="0.73" fill="#4c5478"/>
<circle cx="183.4" cy="102.8" r="0.98" fill="#8088b0"/>
<circle cx="195.4" cy="89.1" r="0.74" fill="#7880aa"/>
<circle cx="190.8" cy="66.6" r="0.99" fill="#646c98"/>
<circle cx="249.1" cy="96.8" r="0.93" fill="#8088b0"/>
<circle cx="182.1" cy="67.5" r="0.73" fill="#5c6490"/>
<circle cx="205.1" cy="96.1" r="1.14" fill="#7880aa"/>
<circle cx="183.3" cy="84.4" r="0.94" fill="#646c98"/>
<circle cx="151.8" cy="49.7" r="1.00" fill="#6a72a0"/>
<circle cx="176.2" cy="67.3" r="0.71" fill="#4c5478"/>
<circle cx="221.8" cy="82.5" r="0.98" fill="#5c6490"/>
<circle cx="194.0" cy="115.6" r="1.12" fill="#7880aa"/>
<circle cx="234.1" cy="80.7" r="0.68" fill="#4c5478"/>
<circle cx="146.7" cy="57.4" r="0.72" fill="#6a72a0"/>
<circle cx="141.5" cy="93.2" r="0.88" fill="#8088b0"/>
<circle cx="150.4" cy="49.7" r="0.99" fill="#8088b0"/>
<circle cx="226.3" cy="99.3" r="0.99" fill="#5c6490"/>
<circle cx="150.0" cy="34.6" r="1.03" fill="#7880aa"/>
<circle cx="168.0" cy="74.3" r="1.12" fill="#4c5478"/>
<circle cx="191.3" cy="76.6" r="0.65" fill="#4c5478"/>
<circle cx="209.9" cy="54.8" r="1.13" fill="#646c98"/>
<circle cx="149.9" cy="39.5" r="1.12" fill="#4c5478"/>
<circle cx="200.2" cy="85.1" r="1.09" fill="#5c6490"/>
<circle cx="148.1" cy="53.2" r="1.13" fill="#8088b0"/>
<circle cx="247.1" cy="89.6" r="1.05" fill="#4c5478"/>
<circle cx="168.8" cy="80.6" r="0.61" fill="#4c5478"/>
<circle cx="176.7" cy="85.8" r="1.06" fill="#6a72a0"/>
<circle cx="224.7" cy="25.4" r="0.99" fill="#646c98"/>
<circle cx="211.1" cy="47.1" r="0.61" fill="#4c5478"/>
<circle cx="168.5" cy="73.5" r="1.13" fill="#8088b0"/>
<circle cx="172.9" cy="58.2" r="0.78" fill="#6a72a0"/>
<circle cx="244.2" cy="66.4" r="1.14" fill="#7880aa"/>
<circle cx="243.4" cy="103.4" r="0.97" fill="#8088b0"/>
<circle cx="184.1" cy="53.0" r="1.10" fill="#6a72a0"/>
<circle cx="218.1" cy="79.5" r="0.68" fill="#7880aa"/>
<circle cx="163.6" cy="43.6" r="0.78" fill="#646c98"/>
<circle cx="176.3" cy="108.5" r="0.85" fill="#7880aa"/>
<circle cx="228.0" cy="33.4" r="1.04" fill="#7880aa"/>
<circle cx="181.7" cy="44.6" r="0.97" fill="#6a72a0"/>
<circle cx="143.8" cy="90.2" r="1.12" fill="#5c6490"/>
<circle cx="152.1" cy="86.9" r="0.90" fill="#4c5478"/>
<circle cx="151.0" cy="103.3" r="0.90" fill="#4c5478"/>
<circle cx="191.0" cy="37.1" r="0.63" fill="#4c5478"/>
<circle cx="219.6" cy="112.0" r="0.86" fill="#5c6490"/>
<circle cx="198.3" cy="91.4" r="0.68" fill="#6a72a0"/>
<circle cx="159.2" cy="66.4" r="0.64" fill="#6a72a0"/>
<circle cx="158.9" cy="40.2" r="0.83" fill="#5c6490"/>
<circle cx="202.6" cy="44.4" r="1.03" fill="#8088b0"/>
<circle cx="166.3" cy="69.8" r="0.65" fill="#4c5478"/>
<circle cx="209.7" cy="104.9" r="0.72" fill="#8088b0"/>
<circle cx="234.8" cy="78.9" r="0.88" fill="#5c6490"/>
<circle cx="215.6" cy="109.9" r="0.93" fill="#5c6490"/>
<circle cx="155.7" cy="96.9" r="0.66" fill="#5c6490"/>
<circle cx="145.7" cy="114.1" r="1.03" fill="#8088b0"/>
<circle cx="144.6" cy="107.7" r="1.04" fill="#4c5478"/>
<circle cx="200.9" cy="50.4" r="1.04" fill="#7880aa"/>
<circle cx="209.9" cy="92.4" r="0.77" fill="#7880aa"/>
<circle cx="179.4" cy="92.6" r="1.02" fill="#8088b0"/>
<circle cx="203.2" cy="95.4" r="0.75" fill="#5c6490"/>
<circle cx="202.6" cy="106.3" r="0.88" fill="#4c5478"/>
<circle cx="208.0" cy="95.7" r="0.99" fill="#5c6490"/>
<circle cx="200.8" cy="72.3" r="1.13" fill="#7880aa"/>
<circle cx="188.5" cy="73.2" r="0.72" fill="#4c5478"/>
<circle cx="191.4" cy="64.3" r="0.88" fill="#7880aa"/>
<circle cx="150.3" cy="110.4" r="1.07" fill="#7880aa"/>
<circle cx="181.2" cy="71.5" r="0.78" fill="#646c98"/>
<circle cx="179.8" cy="110.3" r="0.66" fill="#8088b0"/>
<circle cx="185.9" cy="91.0" r="0.87" fill="#6a72a0"/>
<circle cx="160.1" cy="64.3" r="0.88" fill="#646c98"/>
<circle cx="227.1" cy="84.9" r="0.90" fill="#5c6490"/>
<circle cx="224.4" cy="112.2" r="1.06" fill="#7880aa"/>
<circle cx="165.0" cy="98.5" r="0.84" fill="#4c5478"/>
<circle cx="151.6" cy="73.3" r="0.70" fill="#8088b0"/>
<circle cx="173.0" cy="46.4" r="1.07" fill="#7880aa"/>
<circle cx="158.2" cy="95.9" r="0.78" fill="#646c98"/>
<circle cx="138.2" cy="51.1" r="0.60" fill="#7880aa"/>
<circle cx="146.3" cy="93.8" r="0.69" fill="#6a72a0"/>
<circle cx="206.9" cy="83.7" r="0.84" fill="#646c98"/>
<circle cx="141.0" cy="108.5" r="1.01" fill="#5c6490"/>
<circle cx="160.1" cy="77.4" r="1.09" fill="#5c6490"/>
<circle cx="238.4" cy="85.0" r="0.94" fill="#5c6490"/>
<circle cx="175.3" cy="33.1" r="1.00" fill="#7880aa"/>
<circle cx="210.2" cy="112.1" r="1.00" fill="#7880aa"/>
<circle cx="145.9" cy="59.8" r="0.69" fill="#7880aa"/>
<circle cx="143.3" cy="83.9" r="1.05" fill="#5c6490"/>
<circle cx="176.1" cy="51.0" r="0.68" fill="#7880aa"/>
<circle cx="255.2" cy="68.6" r="1.12" fill="#7880aa"/>
<circle cx="250.2" cy="84.0" r="1.04" fill="#7880aa"/>
<circle cx="159.4" cy="43.9" r="1.08" fill="#4c5478"/>
<circle cx="171.7" cy="67.3" r="0.76" fill="#5c6490"/>
<circle cx="215.1" cy="56.3" r="1.06" fill="#8088b0"/>
<circle cx="247.0" cy="37.5" r="1.14" fill="#646c98"/>
<circle cx="205.1" cy="116.0" r="0.77" fill="#7880aa"/>
<circle cx="173.6" cy="97.2" r="0.85" fill="#5c6490"/>
<circle cx="219.4" cy="88.9" r="0.74" fill="#646c98"/>
<circle cx="186.4" cy="81.4" r="1.14" fill="#5c6490"/>
<circle cx="192.7" cy="67.6" r="1.15" fill="#6a72a0"/>
<circle cx="157.1" cy="56.2" r="0.98" fill="#6a72a0"/>
<circle cx="150.8" cy="24.6" r="0.61" fill="#6a72a0"/>
<circle cx="170.6" cy="63.7" r="0.82" fill="#646c98"/>
<circle cx="202.1" cy="105.8" r="0.72" fill="#5c6490"/>
<circle cx="209.0" cy="41.1" r="0.75" fill="#5c6490"/>
<circle cx="149.4" cy="63.8" r="0.88" fill="#646c98"/>
<circle cx="195.6" cy="64.2" r="0.72" fill="#4c5478"/>
<circle cx="192.3" cy="94.8" r="0.70" fill="#646c98"/>
<circle cx="190.3" cy="42.6" r="1.12" fill="#8088b0"/>
<circle cx="226.1" cy="81.1" r="0.78" fill="#5c6490"/>
<circle cx="247.5" cy="108.6" r="0.76" fill="#6a72a0"/>
<circle cx="173.4" cy="54.8" r="0.90" fill="#6a72a0"/>
<circle cx="152.1" cy="66.2" r="1.04" fill="#8088b0"/>
<circle cx="147.7" cy="31.9" r="0.91" fill="#4c5478"/>
<circle cx="180.3" cy="74.8" r="0.88" fill="#4c5478"/>
<circle cx="153.5" cy="39.0" r="0.61" fill="#646c98"/>
<circle cx="227.7" cy="84.6" r="1.07" fill="#5c6490"/>
<circle cx="212.1" cy="109.1" r="0.86" fill="#646c98"/>
<circle cx="181.5" cy="95.8" r="0.95" fill="#8088b0"/>
<circle cx="249.9" cy="102.8" r="0.79" fill="#4c5478"/>
<circle cx="170.5" cy="79.7" r="0.85" fill="#646c98"/>
<circle cx="199.3" cy="25.1" r="0.74" fill="#4c5478"/>
<circle cx="160.0" cy="78.9" r="0.98" fill="#7880aa"/>
<circle cx="260.9" cy="22.1" r="0.82" fill="#646c98"/>
<circle cx="187.8" cy="110.1" r="0.98" fill="#6a72a0"/>
<circle cx="213.8" cy="48.7" r="0.86" fill="#7880aa"/>
<circle cx="157.2" cy="96.6" r="1.09" fill="#5c6490"/>
<circle cx="181.9" cy="24.0" r="0.99" fill="#7880aa"/>
<circle cx="177.8" cy="62.8" r="0.96" fill="#7880aa"/>
<circle cx="220.5" cy="78.6" r="0.80" fill="#4c5478"/>
<circle cx="172.6" cy="46.5" r="0.85" fill="#5c6490"/>
<circle cx="167.9" cy="57.7" r="1.03" fill="#7880aa"/>
<circle cx="161.8" cy="68.8" r="1.15" fill="#7880aa"/>
<circle cx="197.7" cy="89.1" r="0.91" fill="#4c5478"/>
<circle cx="143.6" cy="109.1" r="0.98" fill="#4c5478"/>
<circle cx="150.0" cy="50.2" r="0.93" fill="#8088b0"/>
<circle cx="138.7" cy="55.9" r="0.89" fill="#646c98"/>
<circle cx="170.7" cy="61.4" r="0.92" fill="#646c98"/>
<circle cx="198.2" cy="90.4" r="1.10" fill="#8088b0"/>
<circle cx="149.5" cy="34.9" r="0.76" fill="#7880aa"/>
<circle cx="182.8" cy="74.5" r="0.70" fill="#646c98"/>
<circle cx="154.7" cy="105.3" r="0.73" fill="#646c98"/>
<circle cx="163.3" cy="56.8" r="1.04" fill="#7880aa"/>
<circle cx="164.8" cy="75.9" r="0.71" fill="#7880aa"/>
<circle cx="170.6" cy="45.0" r="0.94" fill="#5c6490"/>
<circle cx="174.9" cy="88.7" r="0.72" fill="#646c98"/>
<circle cx="174.4" cy="46.8" r="0.76" fill="#646c98"/>
<circle cx="247.9" cy="25.2" r="0.67" fill="#5c6490"/>
<circle cx="241.9" cy="113.2" r="0.93" fill="#6a72a0"/>
<circle cx="193.4" cy="34.3" r="1.00" fill="#7880aa"/>
<circle cx="244.6" cy="43.5" r="0.71" fill="#7880aa"/>
<circle cx="203.3" cy="110.3" r="0.91" fill="#6a72a0"/>
<circle cx="184.1" cy="36.6" r="0.67" fill="#6a72a0"/>
<circle cx="161.8" cy="31.7" r="1.07" fill="#8088b0"/>
<circle cx="157.2" cy="91.5" r="0.80" fill="#7880aa"/>
<circle cx="203.3" cy="101.6" r="0.90" fill="#6a72a0"/>
<circle cx="206.6" cy="70.0" r="0.78" fill="#5c6490"/>
<circle cx="178.1" cy="91.4" r="0.78" fill="#4c5478"/>
<circle cx="226.3" cy="82.7" r="0.74" fill="#6a72a0"/>
<circle cx="174.9" cy="90.1" r="0.73" fill="#6a72a0"/>
<circle cx="245.7" cy="23.3" r="0.81" fill="#6a72a0"/>
<circle cx="159.9" cy="41.4" r="0.92" fill="#646c98"/>
<circle cx="212.4" cy="39.3" r="0.65" fill="#6a72a0"/>
<circle cx="163.2" cy="62.2" r="0.98" fill="#8088b0"/>
<circle cx="150.5" cy="69.3" r="0.63" fill="#4c5478"/>
<circle cx="166.8" cy="37.3" r="1.11" fill="#8088b0"/>
<circle cx="222.2" cy="81.2" r="0.60" fill="#7880aa"/>
<circle cx="147.5" cy="42.3" r="0.84" fill="#7880aa"/>
<circle cx="220.2" cy="61.0" r="0.96" fill="#5c6490"/>
<circle cx="175.9" cy="74.0" r="1.10" fill="#4c5478"/>
<circle cx="144.5" cy="71.2" r="0.92" fill="#6a72a0"/>
<circle cx="234.5" cy="46.2" r="0.65" fill="#4c5478"/>
<circle cx="165.1" cy="30.5" r="1.09" fill="#646c98"/>
<circle cx="223.6" cy="36.8" r="1.10" fill="#646c98"/>
<circle cx="202.9" cy="71.4" r="0.88" fill="#4c5478"/>
<circle cx="173.7" cy="66.1" r="0.92" fill="#6a72a0"/>
<circle cx="248.9" cy="115.6" r="0.76" fill="#7880aa"/>
<circle cx="183.2" cy="111.8" r="0.65" fill="#8088b0"/>
<circle cx="189.1" cy="56.9" r="0.70" fill="#4c5478"/>
<circle cx="210.9" cy="81.0" r="0.83" fill="#7880aa"/>
<circle cx="194.9" cy="79.9" r="1.02" fill="#6a72a0"/>
<circle cx="169.7" cy="51.3" r="0.90" fill="#7880aa"/>
<circle cx="204.8" cy="56.3" r="0.90" fill="#6a72a0"/>
<circle cx="172.9" cy="34.1" r="1.07" fill="#646c98"/>
<circle cx="172.9" cy="89.6" r="0.79" fill="#5c6490"/>
<circle cx="139.0" cy="83.3" r="0.68" fill="#646c98"/>
<circle cx="202.1" cy="81.0" r="1.12" fill="#4c5478"/>
<circle cx="163.8" cy="98.9" r="0.86" fill="#6a72a0"/>
<circle cx="211.2" cy="28.9" r="0.89" fill="#5c6490"/>
<circle cx="176.2" cy="59.6" r="0.75" fill="#5c6490"/>
<circle cx="140.4" cy="70.4" r="0.90" fill="#8088b0"/>
<circle cx="150.3" cy="65.0" r="1.12" fill="#4c5478"/>
<circle cx="141.9" cy="68.1" r="1.08" fill="#5c6490"/>
<circle cx="154.1" cy="41.8" r="0.79" fill="#8088b0"/>
<circle cx="156.3" cy="68.5" r="1.08" fill="#8088b0"/>
<circle cx="224.8" cy="88.7" r="1.08" fill="#5c6490"/>
<circle cx="232.6" cy="84.4" r="1.06" fill="#6a72a0"/>
<circle cx="173.0" cy="51.3" r="0.92" fill="#6a72a0"/>
<circle cx="138.7" cy="102.0" r="0.88" fill="#6a72a0"/>
<circle cx="156.7" cy="115.6" r="1.10" fill="#5c6490"/>
<circle cx="260.7" cy="42.7" r="1.09" fill="#7880aa"/>
<circle cx="166.0" cy="53.4" r="0.60" fill="#6a72a0"/>
<circle cx="215.4" cy="78.3" r="1.03" fill="#646c98"/>
<circle cx="194.5" cy="78.2" r="1.01" fill="#6a72a0"/>
<circle cx="254.0" cy="92.4" r="0.85" fill="#646c98"/>
<circle cx="188.8" cy="72.5" r="1.08" fill="#646c98"/>
<circle cx="151.7" cy="89.2" r="0.76" fill="#6a72a0"/>
<circle cx="139.1" cy="93.3" r="0.62" fill="#646c98"/>
<circle cx="166.6" cy="45.6" r="1.01" fill="#8088b0"/>
<circle cx="221.3" cy="104.2" r="0.61" fill="#4c5478"/>
<circle cx="229.7" cy="104.3" r="1.09" fill="#5c6490"/>
<circle cx="166.5" cy="95.8" r="0.98" fill="#7880aa"/>
<circle cx="226.1" cy="24.4" r="1.05" fill="#7880aa"/>
<circle cx="168.0" cy="103.1" r="0.64" fill="#8088b0"/>
<circle cx="200.5" cy="36.3" r="1.03" fill="#6a72a0"/>
<circle cx="160.1" cy="64.2" r="0.97" fill="#5c6490"/>
<circle cx="166.7" cy="48.6" r="0.77" fill="#6a72a0"/>
<circle cx="202.5" cy="50.0" r="1.08" fill="#5c6490"/>
<circle cx="181.0" cy="55.9" r="1.03" fill="#8088b0"/>
<circle cx="162.4" cy="83.6" r="1.10" fill="#4c5478"/>
<circle cx="159.8" cy="75.3" r="0.70" fill="#646c98"/>
<circle cx="160.4" cy="63.1" r="1.02" fill="#646c98"/>
<circle cx="182.4" cy="98.6" r="1.09" fill="#5c6490"/>
<circle cx="167.4" cy="59.4" r="0.64" fill="#8088b0"/>
<circle cx="220.9" cy="101.4" r="1.10" fill="#8088b0"/>
<circle cx="260.9" cy="38.6" r="0.60" fill="#7880aa"/>
<circle cx="169.5" cy="57.2" r="0.72" fill="#6a72a0"/>
<circle cx="229.1" cy="35.5" r="0.70" fill="#5c6490"/>
<circle cx="240.7" cy="79.1" r="0.66" fill="#7880aa"/>
<circle cx="190.4" cy="44.9" r="0.78" fill="#646c98"/>
<circle cx="201.2" cy="99.6" r="0.98" fill="#4c5478"/>
<circle cx="193.0" cy="90.3" r="0.67" fill="#4c5478"/>
<circle cx="200.1" cy="24.5" r="0.92" fill="#646c98"/>
<circle cx="205.2" cy="112.4" r="0.62" fill="#8088b0"/>
<circle cx="233.3" cy="26.8" r="0.61" fill="#8088b0"/>
<circle cx="216.7" cy="85.4" r="1.05" fill="#7880aa"/>
<circle cx="229.5" cy="74.2" r="0.91" fill="#5c6490"/>
<circle cx="196.3" cy="76.9" r="1.13" fill="#7880aa"/>
<circle cx="214.0" cy="53.0" r="1.03" fill="#4c5478"/>
<circle cx="181.6" cy="68.6" r="1.06" fill="#8088b0"/>
<circle cx="207.1" cy="98.8" r="1.02" fill="#4c5478"/>
<circle cx="169.5" cy="96.3" r="0.61" fill="#8088b0"/>
<circle cx="256.0" cy="35.2" r="0.79" fill="#7880aa"/>
<circle cx="236.1" cy="104.9" r="0.76" fill="#5c6490"/>
<circle cx="212.6" cy="82.3" r="0.95" fill="#8088b0"/>
<circle cx="175.2" cy="88.3" r="0.61" fill="#4c5478"/>
<circle cx="143.1" cy="28.8" r="1.01" fill="#646c98"/>
<circle cx="260.8" cy="94.7" r="1.13" fill="#5c6490"/>
<circle cx="201.6" cy="79.7" r="0.99" fill="#646c98"/>
<circle cx="153.4" cy="63.5" r="0.65" fill="#6a72a0"/>
<circle cx="178.6" cy="85.7" r="0.78" fill="#8088b0"/>
<circle cx="195.7" cy="99.0" r="1.03" fill="#646c98"/>
<circle cx="214.4" cy="29.0" r="0.76" fill="#8088b0"/>
<circle cx="187.0" cy="33.4" r="1.05" fill="#5c6490"/>
<circle cx="151.1" cy="36.9" r="0.93" fill="#646c98"/>
<circle cx="175.1" cy="74.9" r="0.99" fill="#6a72a0"/>
<circle cx="206.7" cy="87.3" r="0.80" fill="#646c98"/>
<circle cx="159.7" cy="92.2" r="1.14" fill="#4c5478"/>
<circle cx="177.9" cy="88.7" r="0.72" fill="#8088b0"/>
<circle cx="242.0" cy="39.9" r="1.11" fill="#5c6490"/>
<circle cx="205.3" cy="30.5" r="0.70" fill="#5c6490"/>
<circle cx="254.0" cy="88.6" r="0.60" fill="#5c6490"/>
<circle cx="213.4" cy="77.3" r="1.14" fill="#4c5478"/>
<circle cx="141.7" cy="73.7" r="1.00" fill="#646c98"/>
<circle cx="167.5" cy="42.5" r="1.13" fill="#7880aa"/>
<circle cx="248.4" cy="45.7" r="0.71" fill="#8088b0"/>
<circle cx="185.0" cy="41.9" r="0.95" fill="#7880aa"/>
<circle cx="158.0" cy="102.7" r="0.96" fill="#7880aa"/>
<circle cx="177.2" cy="82.3" r="0.97" fill="#6a72a0"/>
<circle cx="217.7" cy="49.6" r="0.60" fill="#646c98"/>
<circle cx="174.5" cy="94.5" r="1.09" fill="#5c6490"/>
<circle cx="208.8" cy="105.9" r="0.80" fill="#4c5478"/>
<circle cx="193.8" cy="64.6" r="1.05" fill="#7880aa"/>
<circle cx="155.2" cy="51.5" r="0.81" fill="#4c5478"/>
<circle cx="217.0" cy="64.8" r="0.78" fill="#8088b0"/>
<circle cx="249.5" cy="103.3" r="0.94" fill="#8088b0"/>
<circle cx="191.6" cy="96.4" r="0.96" fill="#646c98"/>
<circle cx="155.0" cy="70.1" r="1.02" fill="#646c98"/>
<circle cx="158.1" cy="92.4" r="0.63" fill="#4c5478"/>
<circle cx="181.6" cy="83.6" r="1.11" fill="#4c5478"/>
<circle cx="192.5" cy="62.9" r="0.67" fill="#646c98"/>
<circle cx="186.2" cy="66.4" r="0.75" fill="#6a72a0"/>
<circle cx="151.6" cy="61.4" r="0.73" fill="#8088b0"/>
<circle cx="154.2" cy="79.7" r="0.98" fill="#7880aa"/>
<circle cx="138.5" cy="89.2" r="0.64" fill="#5c6490"/>
<circle cx="191.3" cy="66.2" r="0.74" fill="#4c5478"/>
<circle cx="234.0" cy="37.2" r="0.63" fill="#4c5478"/>
<circle cx="219.8" cy="66.5" r="1.07" fill="#5c6490"/>
<circle cx="228.8" cy="91.6" r="0.82" fill="#8088b0"/>
<circle cx="152.0" cy="98.1" r="1.03" fill="#7880aa"/>
<circle cx="171.2" cy="78.9" r="0.80" fill="#7880aa"/>
<circle cx="181.7" cy="57.0" r="0.63" fill="#6a72a0"/>
<circle cx="180.3" cy="28.8" r="0.82" fill="#4c5478"/>
<circle cx="217.1" cy="71.9" r="0.60" fill="#4c5478"/>
<circle cx="172.6" cy="103.5" r="0.60" fill="#4c5478"/>
<circle cx="199.0" cy="44.6" r="1.13" fill="#5c6490"/>
<circle cx="207.6" cy="87.3" r="0.83" fill="#5c6490"/>
<circle cx="186.0" cy="79.8" r="0.61" fill="#8088b0"/>
<circle cx="154.3" cy="88.5" r="0.61" fill="#4c5478"/>
<circle cx="152.3" cy="22.7" r="0.66" fill="#5c6490"/>
<circle cx="186.2" cy="88.2" r="1.04" fill="#6a72a0"/>
<circle cx="150.7" cy="24.6" r="0.90" fill="#5c6490"/>
<circle cx="152.4" cy="45.6" r="1.00" fill="#5c6490"/>
<circle cx="216.2" cy="107.7" r="0.81" fill="#7880aa"/>
<circle cx="236.7" cy="113.3" r="1.06" fill="#5c6490"/>
<circle cx="209.9" cy="76.1" r="0.91" fill="#4c5478"/>
<circle cx="240.6" cy="53.4" r="0.73" fill="#646c98"/>
<circle cx="211.6" cy="92.1" r="1.06" fill="#646c98"/>
<circle cx="150.6" cy="87.6" r="0.90" fill="#4c5478"/>
<circle cx="144.9" cy="71.9" r="0.63" fill="#6a72a0"/>
<circle cx="221.2" cy="107.7" r="0.82" fill="#646c98"/>
<circle cx="209.4" cy="67.9" r="0.90" fill="#646c98"/>
<circle cx="261.2" cy="37.3" r="1.14" fill="#5c6490"/>
<circle cx="221.5" cy="105.5" r="0.80" fill="#646c98"/>
<circle cx="171.1" cy="85.7" r="0.70" fill="#7880aa"/>
<circle cx="190.4" cy="24.2" r="0.74" fill="#6a72a0"/>
<circle cx="223.0" cy="97.6" r="1.08" fill="#4c5478"/>
<circle cx="200.4" cy="61.7" r="1.13" fill="#646c98"/>
<circle cx="156.0" cy="56.5" r="0.80" fill="#6a72a0"/>
<circle cx="260.4" cy="107.4" r="0.61" fill="#8088b0"/>
<circle cx="168.6" cy="56.5" r="0.94" fill="#4c5478"/>
<circle cx="184.2" cy="77.7" r="0.62" fill="#8088b0"/>
<circle cx="236.2" cy="92.0" r="1.00" fill="#646c98"/>
<circle cx="178.7" cy="77.8" r="0.63" fill="#7880aa"/>
<circle cx="245.1" cy="114.3" r="1.09" fill="#7880aa"/>
<circle cx="147.4" cy="39.9" r="0.60" fill="#7880aa"/>
<circle cx="209.5" cy="113.6" r="0.89" fill="#646c98"/>
<circle cx="170.7" cy="38.0" r="0.95" fill="#5c6490"/>
<circle cx="161.8" cy="95.9" r="1.02" fill="#646c98"/>
<circle cx="250.4" cy="29.9" r="0.69" fill="#4c5478"/>
<circle cx="213.3" cy="52.0" r="0.91" fill="#7880aa"/>
<circle cx="235.7" cy="104.8" r="0.79" fill="#7880aa"/>
<circle cx="213.8" cy="85.6" r="0.60" fill="#646c98"/>
<circle cx="178.4" cy="44.7" r="1.12" fill="#8088b0"/>
<circle cx="253.6" cy="93.4" r="0.82" fill="#5c6490"/>
<circle cx="197.7" cy="35.6" r="0.65" fill="#7880aa"/>
<circle cx="152.8" cy="72.1" r="0.78" fill="#6a72a0"/>
<circle cx="198.7" cy="70.2" r="0.73" fill="#8088b0"/>
<circle cx="203.5" cy="111.0" r="0.84" fill="#6a72a0"/>
<circle cx="246.3" cy="30.2" r="0.90" fill="#646c98"/>
<circle cx="218.1" cy="98.1" r="1.03" fill="#4c5478"/>
<circle cx="185.3" cy="24.9" r="0.85" fill="#4c5478"/>
<circle cx="234.0" cy="112.2" r="0.62" fill="#646c98"/>
<circle cx="224.7" cy="88.3" r="0.62" fill="#7880aa"/>
<circle cx="146.2" cy="61.8" r="0.82" fill="#7880aa"/>
<circle cx="170.2" cy="115.2" r="0.83" fill="#4c5478"/>
<circle cx="174.6" cy="41.9" r="0.68" fill="#5c6490"/>
<circle cx="250.9" cy="71.5" r="0.74" fill="#8088b0"/>
<circle cx="183.7" cy="85.8" r="1.10" fill="#7880aa"/>
<circle cx="174.8" cy="58.6" r="0.93" fill="#6a72a0"/>
<circle cx="216.5" cy="114.1" r="1.00" fill="#7880aa"/>
<circle cx="149.2" cy="42.7" r="0.95" fill="#7880aa"/>
<circle cx="173.3" cy="29.7" r="1.02" fill="#4c5478"/>
<circle cx="255.7" cy="48.2" r="0.89" fill="#5c6490"/>
<circle cx="218.2" cy="109.8" r="0.91" fill="#7880aa"/>
<circle cx="175.1" cy="103.0" r="0.87" fill="#6a72a0"/>
<circle cx="164.4" cy="101.2" r="1.08" fill="#8088b0"/>
<circle cx="197.4" cy="97.5" r="0.93" fill="#6a72a0"/>
<circle cx="139.5" cy="50.6" r="1.12" fill="#6a72a0"/>
<circle cx="211.8" cy="58.8" r="0.94" fill="#8088b0"/>
<circle cx="237.7" cy="89.9" r="0.82" fill="#5c6490"/>
<circle cx="213.2" cy="75.2" r="1.13" fill="#7880aa"/>
<circle cx="190.0" cy="43.9" r="0.70" fill="#6a72a0"/>
<circle cx="216.5" cy="47.0" r="0.93" fill="#4c5478"/>
<circle cx="145.5" cy="28.5" r="0.87" fill="#5c6490"/>
<circle cx="164.4" cy="103.1" r="0.96" fill="#6a72a0"/>
<circle cx="172.3" cy="29.0" r="1.14" fill="#646c98"/>
<circle cx="178.0" cy="66.2" r="0.98" fill="#6a72a0"/>
<circle cx="151.1" cy="103.3" r="0.76" fill="#7880aa"/>
<circle cx="197.4" cy="78.0" r="0.76" fill="#7880aa"/>
<circle cx="155.5" cy="109.9" r="0.93" fill="#646c98"/>
<circle cx="160.5" cy="87.7" r="0.66" fill="#8088b0"/>
<circle cx="182.4" cy="77.1" r="1.02" fill="#8088b0"/>
<circle cx="187.1" cy="53.5" r="0.96" fill="#5c6490"/>
<circle cx="143.7" cy="65.4" r="0.88" fill="#646c98"/>
<circle cx="246.8" cy="35.3" r="1.05" fill="#7880aa"/>
<circle cx="208.0" cy="51.1" r="0.72" fill="#7880aa"/>
<circle cx="142.8" cy="64.7" r="0.93" fill="#646c98"/>
<circle cx="259.6" cy="66.5" r="0.91" fill="#6a72a0"/>
<circle cx="150.2" cy="49.6" r="0.68" fill="#7880aa"/>
<circle cx="193.4" cy="62.1" r="0.67" fill="#7880aa"/>
<circle cx="202.0" cy="35.6" r="0.98" fill="#6a72a0"/>
<circle cx="204.0" cy="58.5" r="0.83" fill="#4c5478"/>
<circle cx="189.5" cy="70.6" r="0.92" fill="#5c6490"/>
<circle cx="190.8" cy="114.4" r="0.99" fill="#5c6490"/>
<circle cx="195.3" cy="85.9" r="0.77" fill="#4c5478"/>
<circle cx="172.5" cy="49.7" r="0.94" fill="#7880aa"/>
<circle cx="178.4" cy="45.3" r="0.66" fill="#7880aa"/>
<circle cx="184.9" cy="64.8" r="0.81" fill="#7880aa"/>
<circle cx="148.2" cy="70.2" r="0.66" fill="#646c98"/>
<circle cx="155.7" cy="65.6" r="0.96" fill="#6a72a0"/>
<circle cx="158.5" cy="38.0" r="0.73" fill="#6a72a0"/>
<circle cx="176.3" cy="110.8" r="1.06" fill="#7880aa"/>
<circle cx="235.9" cy="106.3" r="0.61" fill="#6a72a0"/>
<circle cx="222.3" cy="107.6" r="1.07" fill="#4c5478"/>
<circle cx="184.9" cy="109.1" r="0.85" fill="#646c98"/>
<circle cx="192.3" cy="67.6" r="0.85" fill="#6a72a0"/>
<circle cx="178.2" cy="24.5" r="1.10" fill="#8088b0"/>
<circle cx="190.2" cy="95.6" r="1.12" fill="#8088b0"/>
<circle cx="193.6" cy="108.3" r="0.62" fill="#8088b0"/>
<circle cx="190.8" cy="43.2" r="0.82" fill="#646c98"/>
<circle cx="220.7" cy="66.7" r="1.04" fill="#4c5478"/>
<circle cx="253.5" cy="108.9" r="0.67" fill="#7880aa"/>
<circle cx="211.6" cy="24.9" r="0.80" fill="#7880aa"/>
<circle cx="241.4" cy="74.7" r="0.79" fill="#6a72a0"/>
<circle cx="236.9" cy="107.2" r="1.07" fill="#646c98"/>
<circle cx="172.4" cy="66.1" r="1.02" fill="#8088b0"/>
<circle cx="153.3" cy="41.6" r="1.05" fill="#8088b0"/>
<circle cx="147.6" cy="54.9" r="0.67" fill="#8088b0"/>
<circle cx="237.1" cy="101.8" r="0.85" fill="#4c5478"/>
<circle cx="190.0" cy="50.1" r="0.60" fill="#6a72a0"/>
<circle cx="221.3" cy="66.8" r="0.97" fill="#4c5478"/>
<circle cx="198.1" cy="67.6" r="0.94" fill="#8088b0"/>
<circle cx="185.3" cy="22.4" r="1.08" fill="#8088b0"/>
<circle cx="151.7" cy="71.8" r="0.83" fill="#646c98"/>
<circle cx="207.2" cy="52.0" r="0.76" fill="#8088b0"/>
<circle cx="164.7" cy="25.0" r="0.70" fill="#8088b0"/>
<circle cx="140.3" cy="54.5" r="0.63" fill="#7880aa"/>
<circle cx="207.4" cy="53.4" r="0.89" fill="#7880aa"/>
<circle cx="138.0" cy="113.8" r="1.07" fill="#4c5478"/>
<circle cx="234.7" cy="68.9" r="0.86" fill="#6a72a0"/>
<circle cx="159.5" cy="27.1" r="0.93" fill="#4c5478"/>
<circle cx="155.9" cy="76.9" r="0.84" fill="#5c6490"/>
<circle cx="155.6" cy="79.9" r="1.12" fill="#7880aa"/>
<circle cx="241.9" cy="24.9" r="1.12" fill="#8088b0"/>
<circle cx="233.6" cy="91.6" r="0.62" fill="#4c5478"/>
<circle cx="190.4" cy="31.3" r="0.91" fill="#8088b0"/>
<circle cx="203.0" cy="90.1" r="0.60" fill="#4c5478"/>
<circle cx="205.4" cy="31.5" r="0.62" fill="#4c5478"/>
<circle cx="165.5" cy="64.4" r="0.69" fill="#5c6490"/>
<circle cx="235.8" cy="41.4" r="0.67" fill="#6a72a0"/>
<circle cx="153.8" cy="55.0" r="1.00" fill="#646c98"/>
<circle cx="215.0" cy="37.2" r="1.11" fill="#646c98"/>
<circle cx="148.3" cy="59.1" r="0.94" fill="#646c98"/>
<circle cx="193.6" cy="100.6" r="0.96" fill="#4c5478"/>
<circle cx="159.8" cy="60.0" r="1.08" fill="#6a72a0"/>
<circle cx="256.5" cy="96.5" r="0.82" fill="#8088b0"/>
<circle cx="175.9" cy="39.2" r="0.68" fill="#6a72a0"/>
<circle cx="183.2" cy="72.0" r="0.90" fill="#6a72a0"/>
<circle cx="186.0" cy="49.8" r="0.76" fill="#8088b0"/>
<circle cx="138.7" cy="100.3" r="0.75" fill="#646c98"/>
<circle cx="174.3" cy="110.0" r="0.87" fill="#7880aa"/>
<circle cx="181.8" cy="76.8" r="0.91" fill="#6a72a0"/>
<circle cx="151.4" cy="72.2" r="0.84" fill="#8088b0"/>
<circle cx="218.5" cy="103.5" r="0.83" fill="#646c98"/>
<circle cx="215.3" cy="48.3" r="0.94" fill="#8088b0"/>
<circle cx="168.9" cy="35.6" r="0.89" fill="#5c6490"/>
<circle cx="222.4" cy="39.8" r="1.11" fill="#4c5478"/>
<circle cx="199.7" cy="22.4" r="0.73" fill="#8088b0"/>
<circle cx="156.9" cy="94.4" r="1.13" fill="#7880aa"/>
<circle cx="172.4" cy="72.4" r="0.61" fill="#5c6490"/>
<circle cx="217.2" cy="101.6" r="1.08" fill="#646c98"/>
<circle cx="220.0" cy="49.7" r="0.68" fill="#4c5478"/>
<circle cx="250.0" cy="95.7" r="1.07" fill="#7880aa"/>
<circle cx="202.5" cy="102.2" r="0.74" fill="#5c6490"/>
<circle cx="173.8" cy="34.9" r="1.09" fill="#5c6490"/>
<circle cx="177.7" cy="29.2" r="0.79" fill="#4c5478"/>
<circle cx="191.0" cy="31.7" r="1.12" fill="#646c98"/>
<circle cx="169.5" cy="76.1" r="0.98" fill="#646c98"/>
<circle cx="167.4" cy="78.4" r="0.88" fill="#6a72a0"/>
<circle cx="226.2" cy="99.6" r="0.71" fill="#6a72a0"/>
<circle cx="194.6" cy="52.7" r="1.02" fill="#5c6490"/>
<circle cx="141.2" cy="73.6" r="0.98" fill="#4c5478"/>
<circle cx="196.2" cy="88.0" r="1.01" fill="#7880aa"/>
<circle cx="239.3" cy="83.2" r="0.71" fill="#646c98"/>
<circle cx="217.6" cy="86.6" r="0.72" fill="#8088b0"/>
<circle cx="167.8" cy="86.4" r="1.08" fill="#7880aa"/>
<circle cx="230.5" cy="49.9" r="1.04" fill="#7880aa"/>
<circle cx="200.8" cy="90.0" r="0.62" fill="#7880aa"/>
<circle cx="166.7" cy="75.3" r="0.60" fill="#7880aa"/>
<circle cx="206.5" cy="51.4" r="0.67" fill="#5c6490"/>
<circle cx="172.3" cy="57.3" r="1.13" fill="#8088b0"/>
<circle cx="220.6" cy="25.7" r="0.88" fill="#646c98"/>
<circle cx="205.6" cy="52.6" r="0.76" fill="#7880aa"/>
<circle cx="172.1" cy="83.8" r="1.14" fill="#8088b0"/>
<circle cx="148.5" cy="90.1" r="0.64" fill="#646c98"/>
<circle cx="225.7" cy="63.8" r="1.04" fill="#6a72a0"/>
<circle cx="159.7" cy="87.2" r="0.99" fill="#7880aa"/>
<circle cx="176.9" cy="56.6" r="1.11" fill="#8088b0"/>
<circle cx="141.3" cy="87.3" r="1.09" fill="#646c98"/>
<circle cx="190.0" cy="32.1" r="0.96" fill="#6a72a0"/>
<circle cx="152.9" cy="87.9" r="0.66" fill="#8088b0"/>
<circle cx="221.6" cy="93.6" r="0.89" fill="#4c5478"/>
<circle cx="142.1" cy="22.5" r="0.84" fill="#8088b0"/>
<circle cx="191.1" cy="33.6" r="0.93" fill="#6a72a0"/>
<circle cx="155.1" cy="87.7" r="1.02" fill="#4c5478"/>
<circle cx="207.0" cy="80.4" r="0.70" fill="#8088b0"/>
<circle cx="247.3" cy="81.0" r="1.12" fill="#646c98"/>
<circle cx="177.5" cy="51.5" r="0.74" fill="#4c5478"/>
<circle cx="186.3" cy="71.6" r="0.84" fill="#8088b0"/>
<circle cx="192.3" cy="68.3" r="1.15" fill="#8088b0"/>
<circle cx="218.8" cy="35.1" r="1.01" fill="#4c5478"/>
<circle cx="139.6" cy="67.9" r="0.63" fill="#8088b0"/>
<circle cx="160.8" cy="60.7" r="0.97" fill="#4c5478"/>
<circle cx="150.4" cy="48.4" r="0.76" fill="#4c5478"/>
<circle cx="226.6" cy="70.4" r="0.74" fill="#5c6490"/>
<circle cx="234.7" cy="111.4" r="1.08" fill="#8088b0"/>
<circle cx="176.8" cy="24.4" r="0.61" fill="#6a72a0"/>
<circle cx="188.1" cy="104.0" r="0.72" fill="#6a72a0"/>
<circle cx="208.7" cy="74.3" r="0.62" fill="#5c6490"/>
<circle cx="148.1" cy="58.0" r="1.05" fill="#7880aa"/>
<circle cx="141.6" cy="30.8" r="0.98" fill="#8088b0"/>
<circle cx="168.7" cy="95.6" r="0.82" fill="#4c5478"/>
<circle cx="140.2" cy="44.0" r="0.80" fill="#7880aa"/>
<circle cx="146.0" cy="67.7" r="0.63" fill="#6a72a0"/>
<circle cx="149.0" cy="53.8" r="0.62" fill="#7880aa"/>
<circle cx="246.7" cy="34.1" r="0.66" fill="#8088b0"/>
<circle cx="203.0" cy="59.4" r="0.82" fill="#7880aa"/>
<circle cx="238.3" cy="101.8" r="1.08" fill="#646c98"/>
<circle cx="205.2" cy="100.5" r="0.69" fill="#5c6490"/>
<circle cx="183.5" cy="80.8" r="0.96" fill="#4c5478"/>
<circle cx="235.0" cy="34.6" r="0.67" fill="#7880aa"/>
<circle cx="227.2" cy="82.4" r="1.06" fill="#5c6490"/>
<circle cx="171.3" cy="45.5" r="1.10" fill="#8088b0"/>
<circle cx="214.1" cy="79.7" r="0.63" fill="#4c5478"/>
</g>
<filter id="bl08" x="-0.5" y="-0.5" width="2" height="2"><feGaussianBlur stdDeviation="0.9"/></filter>
<g filter="url(#bl08)">
<circle cx="208.6" cy="54.9" r="2.56" fill="#baa668" opacity="0.72"/>
<circle cx="215.4" cy="57.9" r="2.37" fill="#b09a58" opacity="0.72"/>
<circle cx="212.1" cy="50.4" r="1.80" fill="#98844a" opacity="0.72"/>
<circle cx="216.3" cy="52.3" r="1.97" fill="#b09a58" opacity="0.72"/>
<circle cx="216.2" cy="54.9" r="2.32" fill="#baa668" opacity="0.72"/>
<circle cx="213.2" cy="48.3" r="2.19" fill="#baa668" opacity="0.72"/>
<circle cx="213.9" cy="54.5" r="2.93" fill="#a89050" opacity="0.72"/>
<circle cx="194.9" cy="71.8" r="1.95" fill="#a89050" opacity="0.72"/>
<circle cx="198.4" cy="68.6" r="2.21" fill="#baa668" opacity="0.72"/>
<circle cx="194.8" cy="70.0" r="2.36" fill="#b09a58" opacity="0.72"/>
<circle cx="193.9" cy="64.4" r="2.61" fill="#a89050" opacity="0.72"/>
<circle cx="194.5" cy="67.7" r="2.79" fill="#b09a58" opacity="0.72"/>
<circle cx="197.1" cy="63.8" r="2.44" fill="#98844a" opacity="0.72"/>
<circle cx="197.4" cy="67.4" r="2.26" fill="#baa668" opacity="0.72"/>
<circle cx="197.6" cy="62.3" r="1.91" fill="#baa668" opacity="0.72"/>
<circle cx="160.5" cy="97.1" r="2.52" fill="#b09a58" opacity="0.72"/>
<circle cx="165.6" cy="99.4" r="2.98" fill="#a89050" opacity="0.72"/>
<circle cx="162.1" cy="98.0" r="2.22" fill="#98844a" opacity="0.72"/>
<circle cx="163.6" cy="101.9" r="2.17" fill="#a89050" opacity="0.72"/>
<circle cx="162.0" cy="104.8" r="2.01" fill="#baa668" opacity="0.72"/>
<circle cx="160.0" cy="33.5" r="2.61" fill="#b09a58" opacity="0.72"/>
<circle cx="160.3" cy="35.9" r="2.95" fill="#a89050" opacity="0.72"/>
<circle cx="164.1" cy="31.9" r="2.25" fill="#b09a58" opacity="0.72"/>
<circle cx="164.5" cy="30.0" r="2.47" fill="#baa668" opacity="0.72"/>
<circle cx="251.2" cy="63.1" r="2.38" fill="#98844a" opacity="0.72"/>
<circle cx="144.2" cy="82.0" r="2.15" fill="#baa668" opacity="0.72"/>
<circle cx="255" cy="25" r="2" fill="#3a4060" opacity="0.8"/>
<circle cx="258" cy="60" r="2" fill="#3a4060" opacity="0.8"/>
<circle cx="196" cy="90" r="1.5" fill="#3a4060" opacity="0.8"/>
<circle cx="150" cy="50" r="1.5" fill="#3a4060" opacity="0.8"/>
<circle cx="240" cy="95" r="1.8" fill="#3a4060" opacity="0.8"/>
<circle cx="210" cy="56" r="1.3" fill="#3a4060" opacity="0.8"/>
<circle cx="201" cy="71" r="1.4" fill="#3a4060" opacity="0.8"/>
<circle cx="166" cy="103" r="1.2" fill="#3a4060" opacity="0.8"/>
<circle cx="160" cy="30" r="1.1" fill="#3a4060" opacity="0.8"/>
<circle cx="200" cy="24" r="1.6" fill="#3a4060" opacity="0.8"/>
</g>
</g>
<line x1="233.00" y1="57.50" x2="222.00" y2="57.50" stroke="#111" stroke-width="0.9"/>
<line x1="222.00" y1="57.50" x2="224.70" y2="58.80" stroke="#111" stroke-width="0.9"/>
<line x1="222.00" y1="57.50" x2="224.70" y2="56.20" stroke="#111" stroke-width="0.9"/>
<line x1="240.00" y1="108.50" x2="255.00" y2="108.50" stroke="#222" stroke-width="1"/>
<clipPath id="cB"><rect x="277" y="23.5" width="137" height="92.5"/></clipPath>
<g clip-path="url(#cB)">
<rect x="277.00" y="23.50" width="137.00" height="92.50" fill="#d4b6d8"/>
<g filter="url(#bl1)">
<circle cx="321.4" cy="37.5" r="4.60" fill="#dcc8e6"/>
<circle cx="389.5" cy="32.2" r="4.33" fill="#d6b8d8"/>
<circle cx="306.4" cy="31.5" r="3.67" fill="#c8aed6"/>
<circle cx="289.4" cy="62.8" r="5.31" fill="#dcc8e6"/>
<circle cx="406.8" cy="81.8" r="4.33" fill="#dcc8e6"/>
<circle cx="356.1" cy="60.2" r="5.91" fill="#dcc8e6"/>
<circle cx="353.3" cy="35.8" r="3.68" fill="#d6b8d8"/>
<circle cx="293.1" cy="52.0" r="5.26" fill="#c8aed6"/>
<circle cx="291.1" cy="76.3" r="2.75" fill="#dcc8e6"/>
<circle cx="352.0" cy="29.3" r="2.24" fill="#c8aed6"/>
<circle cx="345.0" cy="72.7" r="5.11" fill="#e2d0ea"/>
<circle cx="357.2" cy="65.4" r="3.20" fill="#c8aed6"/>
<circle cx="372.8" cy="46.1" r="4.30" fill="#d6b8d8"/>
<circle cx="344.8" cy="55.3" r="3.80" fill="#d6b8d8"/>
<circle cx="411.3" cy="34.4" r="3.67" fill="#d8c0e0"/>
<circle cx="297.8" cy="68.7" r="2.16" fill="#dcc8e6"/>
<circle cx="381.7" cy="76.5" r="5.50" fill="#d8c0e0"/>
<circle cx="323.6" cy="55.9" r="3.99" fill="#e2d0ea"/>
<circle cx="286.4" cy="32.2" r="3.08" fill="#dcc8e6"/>
<circle cx="285.3" cy="88.4" r="4.59" fill="#e2d0ea"/>
<circle cx="316.0" cy="59.2" r="4.67" fill="#dcc8e6"/>
<circle cx="405.9" cy="56.4" r="4.44" fill="#e2d0ea"/>
<circle cx="285.1" cy="94.6" r="2.52" fill="#c8aed6"/>
<circle cx="331.5" cy="108.3" r="3.99" fill="#c8aed6"/>
<circle cx="338.5" cy="74.3" r="5.53" fill="#e2d0ea"/>
<circle cx="395.4" cy="49.3" r="3.66" fill="#d8c0e0"/>
<circle cx="370.5" cy="58.7" r="2.92" fill="#dcc8e6"/>
<circle cx="301.1" cy="45.0" r="2.93" fill="#e2d0ea"/>
<circle cx="390.9" cy="40.4" r="3.13" fill="#c8aed6"/>
<circle cx="334.4" cy="57.7" r="4.27" fill="#c8aed6"/>
<circle cx="371.6" cy="71.2" r="4.47" fill="#dcc8e6"/>
<circle cx="339.6" cy="104.1" r="5.81" fill="#d6b8d8"/>
<circle cx="330.8" cy="60.4" r="2.41" fill="#e2d0ea"/>
<circle cx="285.5" cy="29.7" r="2.84" fill="#c8aed6"/>
<circle cx="292.1" cy="79.1" r="2.41" fill="#d6b8d8"/>
<circle cx="297.7" cy="32.9" r="3.45" fill="#dcc8e6"/>
<circle cx="286.6" cy="42.7" r="3.50" fill="#d8c0e0"/>
<circle cx="407.9" cy="79.2" r="3.90" fill="#dcc8e6"/>
<circle cx="393.3" cy="115.4" r="3.86" fill="#e2d0ea"/>
<circle cx="319.7" cy="36.8" r="5.00" fill="#d8c0e0"/>
<circle cx="342.6" cy="87.5" r="4.07" fill="#c8aed6"/>
<circle cx="407.3" cy="72.4" r="2.59" fill="#d6b8d8"/>
<circle cx="402.2" cy="93.6" r="3.19" fill="#dcc8e6"/>
<circle cx="372.4" cy="47.7" r="3.47" fill="#c8aed6"/>
<circle cx="325.7" cy="44.1" r="4.17" fill="#d6b8d8"/>
<circle cx="322.2" cy="44.1" r="5.25" fill="#c8aed6"/>
<circle cx="387.4" cy="99.2" r="4.96" fill="#c8aed6"/>
<circle cx="304.4" cy="69.1" r="4.92" fill="#dcc8e6"/>
<circle cx="385.2" cy="67.2" r="2.77" fill="#d6b8d8"/>
<circle cx="408.0" cy="64.9" r="5.75" fill="#d8c0e0"/>
<circle cx="407.8" cy="57.2" r="2.88" fill="#c8aed6"/>
<circle cx="341.4" cy="54.7" r="3.93" fill="#d6b8d8"/>
<circle cx="392.1" cy="67.9" r="4.61" fill="#dcc8e6"/>
<circle cx="391.3" cy="34.6" r="3.55" fill="#c8aed6"/>
<circle cx="342.5" cy="40.0" r="5.16" fill="#d8c0e0"/>
<circle cx="288.9" cy="111.0" r="4.89" fill="#e2d0ea"/>
<circle cx="332.0" cy="111.1" r="4.90" fill="#c8aed6"/>
<circle cx="413.1" cy="26.0" r="4.36" fill="#e2d0ea"/>
<circle cx="387.5" cy="37.0" r="5.31" fill="#e2d0ea"/>
<circle cx="367.0" cy="55.9" r="4.19" fill="#c8aed6"/>
<circle cx="279.9" cy="97.4" r="4.91" fill="#dcc8e6"/>
<circle cx="349.1" cy="109.9" r="3.74" fill="#c8aed6"/>
<circle cx="390.2" cy="43.0" r="3.01" fill="#d8c0e0"/>
<circle cx="345.7" cy="94.1" r="3.30" fill="#d6b8d8"/>
<circle cx="334.4" cy="35.6" r="5.64" fill="#d8c0e0"/>
<circle cx="400.0" cy="84.8" r="5.26" fill="#d6b8d8"/>
<circle cx="334.6" cy="108.4" r="4.01" fill="#d6b8d8"/>
<circle cx="297.8" cy="70.7" r="5.49" fill="#c8aed6"/>
<circle cx="360.4" cy="95.3" r="2.60" fill="#c8aed6"/>
<circle cx="341.9" cy="90.6" r="4.23" fill="#d8c0e0"/>
<circle cx="370.5" cy="72.6" r="3.93" fill="#dcc8e6"/>
<circle cx="398.0" cy="28.8" r="2.77" fill="#dcc8e6"/>
<circle cx="382.8" cy="70.5" r="4.25" fill="#dcc8e6"/>
<circle cx="337.7" cy="80.2" r="4.02" fill="#d6b8d8"/>
<circle cx="304.3" cy="49.1" r="4.03" fill="#e2d0ea"/>
<circle cx="346.6" cy="46.4" r="4.09" fill="#d8c0e0"/>
<circle cx="403.4" cy="106.1" r="2.81" fill="#e2d0ea"/>
<circle cx="295.8" cy="34.8" r="3.77" fill="#dcc8e6"/>
<circle cx="368.9" cy="63.1" r="2.85" fill="#d8c0e0"/>
<circle cx="384.4" cy="106.5" r="2.62" fill="#d8c0e0"/>
<circle cx="296.6" cy="105.2" r="5.87" fill="#c8aed6"/>
<circle cx="379.3" cy="32.2" r="5.54" fill="#c8aed6"/>
<circle cx="412.6" cy="100.5" r="2.65" fill="#e2d0ea"/>
<circle cx="413.2" cy="60.9" r="3.69" fill="#d8c0e0"/>
<circle cx="320.6" cy="90.3" r="2.08" fill="#d6b8d8"/>
<circle cx="339.8" cy="88.5" r="3.54" fill="#d6b8d8"/>
<circle cx="362.5" cy="70.9" r="2.26" fill="#c8aed6"/>
<circle cx="410.1" cy="33.2" r="3.06" fill="#dcc8e6"/>
<circle cx="401.1" cy="40.3" r="5.02" fill="#e2d0ea"/>
<circle cx="393.4" cy="86.0" r="5.78" fill="#e2d0ea"/>
</g>
<g filter="url(#bl1)">
<ellipse cx="372" cy="34" rx="14" ry="4" fill="#e2b4cc" transform="rotate(-35 372 34)"/>
<ellipse cx="322" cy="74" rx="16" ry="4" fill="#e2b4cc" transform="rotate(-20 322 74)"/>
<ellipse cx="300" cy="40" rx="10" ry="4" fill="#e2b4cc" transform="rotate(-40 300 40)"/>
<ellipse cx="345" cy="100" rx="10" ry="3" fill="#e2b4cc" transform="rotate(-30 345 100)"/>
<ellipse cx="395" cy="80" rx="8" ry="3" fill="#e2b4cc" transform="rotate(-40 395 80)"/>
</g>
<g filter="url(#bl1)" opacity="0.8">
<circle cx="295.4" cy="111.0" r="4.37" fill="#ecdcf4"/>
<circle cx="286.8" cy="26.2" r="4.07" fill="#ecdcf4"/>
<circle cx="284.4" cy="112.9" r="4.48" fill="#ecdcf4"/>
<circle cx="286.0" cy="104.8" r="4.55" fill="#ecdcf4"/>
<circle cx="338.9" cy="53.9" r="4.62" fill="#ecdcf4"/>
<circle cx="312.3" cy="33.2" r="3.86" fill="#ecdcf4"/>
<circle cx="289.7" cy="36.4" r="3.82" fill="#ecdcf4"/>
<circle cx="318.6" cy="50.5" r="3.92" fill="#ecdcf4"/>
<circle cx="345.5" cy="38.0" r="3.62" fill="#ecdcf4"/>
<circle cx="309.8" cy="22.0" r="4.21" fill="#ecdcf4"/>
<circle cx="391.1" cy="63.1" r="4.52" fill="#ecdcf4"/>
<circle cx="330.2" cy="70.4" r="4.68" fill="#ecdcf4"/>
<circle cx="323.0" cy="102.5" r="4.30" fill="#ecdcf4"/>
<circle cx="331.9" cy="54.7" r="3.74" fill="#ecdcf4"/>
<circle cx="284.1" cy="93.5" r="3.78" fill="#ecdcf4"/>
<circle cx="314.3" cy="44.4" r="4.11" fill="#ecdcf4"/>
<circle cx="413.1" cy="74.4" r="4.66" fill="#ecdcf4"/>
<circle cx="341.9" cy="70.0" r="4.16" fill="#ecdcf4"/>
<circle cx="274.7" cy="46.5" r="4.04" fill="#ecdcf4"/>
<circle cx="280.0" cy="22.7" r="3.86" fill="#ecdcf4"/>
<circle cx="357.7" cy="72.6" r="4.32" fill="#ecdcf4"/>
<circle cx="376.4" cy="107.1" r="3.96" fill="#ecdcf4"/>
<circle cx="414.8" cy="35.2" r="4.31" fill="#ecdcf4"/>
<circle cx="378.9" cy="100.5" r="4.18" fill="#ecdcf4"/>
<circle cx="346.1" cy="102.7" r="4.51" fill="#ecdcf4"/>
<circle cx="357.5" cy="108.4" r="4.36" fill="#ecdcf4"/>
<circle cx="363.6" cy="87.5" r="3.60" fill="#ecdcf4"/>
<circle cx="388.1" cy="94.2" r="4.19" fill="#ecdcf4"/>
<circle cx="368.3" cy="27.0" r="3.88" fill="#ecdcf4"/>
<circle cx="284.6" cy="46.7" r="3.83" fill="#ecdcf4"/>
<circle cx="379.8" cy="116.6" r="4.02" fill="#ecdcf4"/>
<circle cx="342.5" cy="87.8" r="4.28" fill="#ecdcf4"/>
<circle cx="380.3" cy="50.5" r="3.61" fill="#ecdcf4"/>
<circle cx="370.6" cy="49.1" r="4.11" fill="#ecdcf4"/>
<circle cx="413.9" cy="112.7" r="4.10" fill="#ecdcf4"/>
<circle cx="391.2" cy="115.9" r="3.90" fill="#ecdcf4"/>
<circle cx="304.0" cy="113.6" r="4.24" fill="#ecdcf4"/>
<circle cx="274.5" cy="68.9" r="3.93" fill="#ecdcf4"/>
<circle cx="294.1" cy="54.4" r="4.52" fill="#ecdcf4"/>
<circle cx="274.2" cy="94.4" r="3.73" fill="#ecdcf4"/>
<circle cx="376.9" cy="25.4" r="4.10" fill="#ecdcf4"/>
<circle cx="381.6" cy="84.0" r="3.65" fill="#ecdcf4"/>
<circle cx="406.5" cy="33.0" r="3.98" fill="#ecdcf4"/>
<circle cx="297.9" cy="36.4" r="4.60" fill="#ecdcf4"/>
<circle cx="322.9" cy="29.5" r="3.88" fill="#ecdcf4"/>
<circle cx="358.0" cy="20.5" r="4.62" fill="#ecdcf4"/>
<circle cx="292.3" cy="45.3" r="4.37" fill="#ecdcf4"/>
<circle cx="329.5" cy="42.5" r="3.61" fill="#ecdcf4"/>
<circle cx="400.4" cy="67.3" r="3.87" fill="#ecdcf4"/>
<circle cx="369.4" cy="111.6" r="3.64" fill="#ecdcf4"/>
<circle cx="322.3" cy="61.9" r="3.82" fill="#ecdcf4"/>
<circle cx="412.7" cy="51.2" r="3.85" fill="#ecdcf4"/>
<circle cx="305.7" cy="95.4" r="4.65" fill="#ecdcf4"/>
<circle cx="369.0" cy="57.8" r="3.96" fill="#ecdcf4"/>
<circle cx="298.2" cy="20.8" r="3.99" fill="#ecdcf4"/>
<circle cx="332.7" cy="100.5" r="3.64" fill="#ecdcf4"/>
<circle cx="278.8" cy="74.9" r="4.68" fill="#ecdcf4"/>
<circle cx="400.3" cy="117.8" r="3.69" fill="#ecdcf4"/>
<circle cx="287.8" cy="69.6" r="4.09" fill="#ecdcf4"/>
<circle cx="394.2" cy="49.4" r="4.01" fill="#ecdcf4"/>
<circle cx="379.5" cy="40.1" r="3.87" fill="#ecdcf4"/>
<circle cx="310.5" cy="79.5" r="3.82" fill="#ecdcf4"/>
<circle cx="318.7" cy="76.3" r="4.06" fill="#ecdcf4"/>
<circle cx="348.5" cy="111.7" r="4.14" fill="#ecdcf4"/>
<circle cx="391.9" cy="36.3" r="3.84" fill="#ecdcf4"/>
<circle cx="363.7" cy="50.7" r="4.24" fill="#ecdcf4"/>
<circle cx="334.9" cy="85.4" r="4.08" fill="#ecdcf4"/>
<circle cx="347.1" cy="25.8" r="4.02" fill="#ecdcf4"/>
<circle cx="303.8" cy="46.4" r="3.95" fill="#ecdcf4"/>
<circle cx="279.3" cy="38.4" r="4.63" fill="#ecdcf4"/>
<circle cx="398.8" cy="75.2" r="4.57" fill="#ecdcf4"/>
<circle cx="325.5" cy="95.8" r="3.79" fill="#ecdcf4"/>
<circle cx="365.4" cy="117.4" r="4.33" fill="#ecdcf4"/>
<circle cx="318.7" cy="20.7" r="3.76" fill="#ecdcf4"/>
<circle cx="362.1" cy="63.1" r="4.59" fill="#ecdcf4"/>
<circle cx="274.4" cy="55.5" r="3.99" fill="#ecdcf4"/>
<circle cx="398.6" cy="97.5" r="3.89" fill="#ecdcf4"/>
<circle cx="275.6" cy="84.0" r="3.99" fill="#ecdcf4"/>
<circle cx="302.5" cy="80.4" r="4.31" fill="#ecdcf4"/>
<circle cx="274.9" cy="103.7" r="4.11" fill="#ecdcf4"/>
<circle cx="380.1" cy="65.1" r="3.72" fill="#ecdcf4"/>
<circle cx="353.2" cy="63.5" r="4.18" fill="#ecdcf4"/>
<circle cx="399.8" cy="22.0" r="3.86" fill="#ecdcf4"/>
<circle cx="373.0" cy="82.9" r="4.41" fill="#ecdcf4"/>
<circle cx="364.7" cy="101.8" r="3.92" fill="#ecdcf4"/>
<circle cx="397.3" cy="29.5" r="3.79" fill="#ecdcf4"/>
<circle cx="311.3" cy="113.5" r="3.84" fill="#ecdcf4"/>
<circle cx="374.0" cy="69.6" r="4.30" fill="#ecdcf4"/>
<circle cx="328.2" cy="107.6" r="4.11" fill="#ecdcf4"/>
<circle cx="350.0" cy="94.8" r="4.31" fill="#ecdcf4"/>
<circle cx="368.7" cy="93.6" r="4.08" fill="#ecdcf4"/>
<circle cx="384.6" cy="77.5" r="4.11" fill="#ecdcf4"/>
<circle cx="400.6" cy="43.9" r="3.93" fill="#ecdcf4"/>
<circle cx="309.4" cy="52.7" r="3.78" fill="#ecdcf4"/>
<circle cx="414.7" cy="98.8" r="4.08" fill="#ecdcf4"/>
<circle cx="329.5" cy="23.8" r="4.47" fill="#ecdcf4"/>
<circle cx="294.3" cy="80.0" r="4.42" fill="#ecdcf4"/>
<circle cx="352.4" cy="32.8" r="3.99" fill="#ecdcf4"/>
<circle cx="353.4" cy="46.6" r="3.75" fill="#ecdcf4"/>
<circle cx="411.4" cy="27.9" r="4.30" fill="#ecdcf4"/>
<circle cx="321.3" cy="117.2" r="4.13" fill="#ecdcf4"/>
<circle cx="371.4" cy="41.4" r="4.10" fill="#ecdcf4"/>
<circle cx="383.1" cy="30.5" r="3.64" fill="#ecdcf4"/>
<circle cx="384.8" cy="110.5" r="4.01" fill="#ecdcf4"/>
<circle cx="333.0" cy="30.6" r="3.83" fill="#ecdcf4"/>
<circle cx="325.9" cy="84.0" r="4.06" fill="#ecdcf4"/>
<circle cx="342.2" cy="78.5" r="3.81" fill="#ecdcf4"/>
<circle cx="299.8" cy="89.6" r="4.22" fill="#ecdcf4"/>
<circle cx="416.6" cy="57.3" r="4.30" fill="#ecdcf4"/>
<circle cx="403.1" cy="109.6" r="3.65" fill="#ecdcf4"/>
<circle cx="363.8" cy="34.6" r="3.66" fill="#ecdcf4"/>
<circle cx="312.1" cy="61.1" r="3.90" fill="#ecdcf4"/>
<circle cx="319.5" cy="109.5" r="4.68" fill="#ecdcf4"/>
<circle cx="389.4" cy="54.1" r="3.60" fill="#ecdcf4"/>
<circle cx="326.5" cy="36.6" r="4.25" fill="#ecdcf4"/>
<circle cx="291.3" cy="90.9" r="4.55" fill="#ecdcf4"/>
<circle cx="412.3" cy="42.5" r="3.71" fill="#ecdcf4"/>
<circle cx="398.3" cy="91.1" r="3.74" fill="#ecdcf4"/>
<circle cx="336.3" cy="117.2" r="4.60" fill="#ecdcf4"/>
<circle cx="317.7" cy="84.3" r="4.25" fill="#ecdcf4"/>
<circle cx="355.5" cy="84.6" r="4.38" fill="#ecdcf4"/>
<circle cx="335.0" cy="110.2" r="3.65" fill="#ecdcf4"/>
<circle cx="351.0" cy="118.8" r="4.17" fill="#ecdcf4"/>
<circle cx="364.1" cy="79.9" r="4.69" fill="#ecdcf4"/>
<circle cx="357.3" cy="54.9" r="4.02" fill="#ecdcf4"/>
<circle cx="299.3" cy="104.3" r="4.33" fill="#ecdcf4"/>
<circle cx="316.5" cy="27.0" r="3.85" fill="#ecdcf4"/>
<circle cx="379.0" cy="90.7" r="3.64" fill="#ecdcf4"/>
<circle cx="279.6" cy="51.1" r="3.80" fill="#ecdcf4"/>
<circle cx="412.6" cy="83.3" r="3.87" fill="#ecdcf4"/>
<circle cx="390.0" cy="26.4" r="4.27" fill="#ecdcf4"/>
<circle cx="371.3" cy="101.8" r="4.01" fill="#ecdcf4"/>
<circle cx="321.8" cy="69.2" r="3.88" fill="#ecdcf4"/>
<circle cx="351.0" cy="78.5" r="4.32" fill="#ecdcf4"/>
<circle cx="293.4" cy="62.7" r="4.35" fill="#ecdcf4"/>
<circle cx="382.1" cy="57.9" r="4.15" fill="#ecdcf4"/>
<circle cx="274.9" cy="117.9" r="3.89" fill="#ecdcf4"/>
<circle cx="302.9" cy="25.6" r="4.01" fill="#ecdcf4"/>
<circle cx="346.5" cy="56.6" r="4.04" fill="#ecdcf4"/>
<circle cx="359.1" cy="97.7" r="3.67" fill="#ecdcf4"/>
<circle cx="310.0" cy="103.1" r="3.82" fill="#ecdcf4"/>
<circle cx="339.5" cy="43.8" r="4.60" fill="#ecdcf4"/>
<circle cx="284.9" cy="82.0" r="4.65" fill="#ecdcf4"/>
<circle cx="413.2" cy="90.4" r="4.49" fill="#ecdcf4"/>
<circle cx="383.9" cy="21.2" r="3.73" fill="#ecdcf4"/>
<circle cx="362.8" cy="41.8" r="3.82" fill="#ecdcf4"/>
<circle cx="416.9" cy="65.5" r="4.66" fill="#ecdcf4"/>
<circle cx="395.2" cy="84.3" r="4.29" fill="#ecdcf4"/>
<circle cx="336.8" cy="62.0" r="4.67" fill="#ecdcf4"/>
<circle cx="385.2" cy="103.5" r="4.03" fill="#ecdcf4"/>
<circle cx="406.5" cy="100.4" r="3.85" fill="#ecdcf4"/>
<circle cx="337.0" cy="95.6" r="3.77" fill="#ecdcf4"/>
<circle cx="366.3" cy="70.3" r="4.27" fill="#ecdcf4"/>
<circle cx="313.4" cy="97.6" r="3.89" fill="#ecdcf4"/>
<circle cx="391.6" cy="78.2" r="3.87" fill="#ecdcf4"/>
<circle cx="274.4" cy="29.6" r="3.75" fill="#ecdcf4"/>
<circle cx="358.1" cy="117.1" r="3.68" fill="#ecdcf4"/>
<circle cx="373.5" cy="33.2" r="4.54" fill="#ecdcf4"/>
<circle cx="312.8" cy="70.8" r="3.94" fill="#ecdcf4"/>
<circle cx="347.0" cy="46.1" r="3.89" fill="#ecdcf4"/>
<circle cx="414.6" cy="20.7" r="4.19" fill="#ecdcf4"/>
<circle cx="348.7" cy="71.0" r="3.80" fill="#ecdcf4"/>
<circle cx="322.5" cy="45.2" r="3.70" fill="#ecdcf4"/>
<circle cx="353.1" cy="102.6" r="3.68" fill="#ecdcf4"/>
<circle cx="385.2" cy="69.6" r="4.20" fill="#ecdcf4"/>
<circle cx="308.1" cy="40.1" r="4.25" fill="#ecdcf4"/>
<circle cx="370.7" cy="75.9" r="3.84" fill="#ecdcf4"/>
<circle cx="322.0" cy="90.0" r="3.60" fill="#ecdcf4"/>
<circle cx="385.3" cy="36.7" r="4.00" fill="#ecdcf4"/>
<circle cx="325.9" cy="76.7" r="3.97" fill="#ecdcf4"/>
<circle cx="407.5" cy="21.7" r="3.64" fill="#ecdcf4"/>
<circle cx="330.0" cy="91.2" r="3.72" fill="#ecdcf4"/>
</g>
<g filter="url(#bl05)">
<ellipse cx="295.4" cy="111.0" rx="3.17" ry="3.09" fill="#9a80c0" stroke="#6a4c9c" stroke-width="0.9" transform="rotate(137 295.4 111.0)"/>
<circle cx="294.2" cy="111.9" r="0.63" fill="#5e3e8e" opacity="0.7"/>
<circle cx="294.9" cy="112.2" r="0.63" fill="#5e3e8e" opacity="0.7"/>
<ellipse cx="286.8" cy="26.2" rx="2.87" ry="2.64" fill="#7e60aa" stroke="#6a4c9c" stroke-width="0.9" transform="rotate(70 286.8 26.2)"/>
<circle cx="286.6" cy="25.4" r="0.60" fill="#5e3e8e" opacity="0.7"/>
<circle cx="286.6" cy="26.6" r="0.71" fill="#5e3e8e" opacity="0.7"/>
<ellipse cx="284.4" cy="112.9" rx="3.28" ry="2.77" fill="#8a6cb4" stroke="#5c408c" stroke-width="0.9" transform="rotate(10 284.4 112.9)"/>
<circle cx="283.8" cy="113.5" r="0.68" fill="#5e3e8e" opacity="0.7"/>
<circle cx="285.3" cy="112.2" r="0.76" fill="#5e3e8e" opacity="0.7"/>
<ellipse cx="286.0" cy="104.8" rx="3.35" ry="3.32" fill="#9a80c0" stroke="#644894" stroke-width="0.9" transform="rotate(57 286.0 104.8)"/>
<circle cx="285.9" cy="104.3" r="0.66" fill="#5e3e8e" opacity="0.7"/>
<circle cx="286.0" cy="105.8" r="0.50" fill="#5e3e8e" opacity="0.7"/>
<ellipse cx="338.9" cy="53.9" rx="3.42" ry="2.82" fill="#8a6cb4" stroke="#644894" stroke-width="0.9" transform="rotate(12 338.9 53.9)"/>
<circle cx="338.4" cy="54.9" r="0.66" fill="#5e3e8e" opacity="0.7"/>
<circle cx="338.4" cy="54.0" r="0.65" fill="#5e3e8e" opacity="0.7"/>
<ellipse cx="312.3" cy="33.2" rx="2.66" ry="2.26" fill="#8a6cb4" stroke="#644894" stroke-width="0.9" transform="rotate(125 312.3 33.2)"/>
<circle cx="312.1" cy="34.1" r="0.74" fill="#5e3e8e" opacity="0.7"/>
<circle cx="312.1" cy="34.4" r="0.89" fill="#5e3e8e" opacity="0.7"/>
<ellipse cx="289.7" cy="36.4" rx="2.62" ry="2.34" fill="#a088c6" stroke="#6a4c9c" stroke-width="0.9" transform="rotate(170 289.7 36.4)"/>
<circle cx="290.8" cy="37.0" r="0.71" fill="#5e3e8e" opacity="0.7"/>
<circle cx="290.4" cy="35.7" r="0.77" fill="#5e3e8e" opacity="0.7"/>
<ellipse cx="318.6" cy="50.5" rx="2.72" ry="2.70" fill="#8a6cb4" stroke="#644894" stroke-width="0.9" transform="rotate(2 318.6 50.5)"/>
<circle cx="319.0" cy="51.1" r="0.81" fill="#5e3e8e" opacity="0.7"/>
<circle cx="319.6" cy="51.2" r="0.75" fill="#5e3e8e" opacity="0.7"/>
<ellipse cx="345.5" cy="38.0" rx="2.42" ry="2.39" fill="#9478be" stroke="#644894" stroke-width="0.9" transform="rotate(105 345.5 38.0)"/>
<circle cx="346.7" cy="37.1" r="0.82" fill="#5e3e8e" opacity="0.7"/>
<circle cx="346.3" cy="38.8" r="0.59" fill="#5e3e8e" opacity="0.7"/>
<ellipse cx="309.8" cy="22.0" rx="3.01" ry="2.94" fill="#9478be" stroke="#644894" stroke-width="0.9" transform="rotate(175 309.8 22.0)"/>
<circle cx="311.0" cy="21.6" r="0.72" fill="#5e3e8e" opacity="0.7"/>
<circle cx="310.6" cy="21.3" r="0.69" fill="#5e3e8e" opacity="0.7"/>
<circle cx="301.1" cy="67.3" r="1.36" fill="#5e3a8c"/>
<ellipse cx="391.1" cy="63.1" rx="3.32" ry="2.63" fill="#9a80c0" stroke="#6a4c9c" stroke-width="0.9" transform="rotate(26 391.1 63.1)"/>
<circle cx="391.1" cy="62.0" r="0.64" fill="#5e3e8e" opacity="0.7"/>
<circle cx="390.6" cy="62.0" r="0.63" fill="#5e3e8e" opacity="0.7"/>
<ellipse cx="330.2" cy="70.4" rx="3.48" ry="3.35" fill="#7e60aa" stroke="#6a4c9c" stroke-width="0.9" transform="rotate(30 330.2 70.4)"/>
<circle cx="329.5" cy="71.5" r="0.70" fill="#5e3e8e" opacity="0.7"/>
<circle cx="330.8" cy="69.6" r="0.56" fill="#5e3e8e" opacity="0.7"/>
<ellipse cx="323.0" cy="102.5" rx="3.10" ry="2.82" fill="#9478be" stroke="#5c408c" stroke-width="0.9" transform="rotate(16 323.0 102.5)"/>
<circle cx="323.9" cy="102.6" r="0.60" fill="#5e3e8e" opacity="0.7"/>
<circle cx="323.5" cy="102.5" r="0.59" fill="#5e3e8e" opacity="0.7"/>
<ellipse cx="331.9" cy="54.7" rx="2.54" ry="2.24" fill="#9478be" stroke="#6a4c9c" stroke-width="0.9" transform="rotate(160 331.9 54.7)"/>
<circle cx="331.9" cy="55.0" r="0.75" fill="#5e3e8e" opacity="0.7"/>
<circle cx="333.0" cy="55.1" r="0.51" fill="#5e3e8e" opacity="0.7"/>
<ellipse cx="284.1" cy="93.5" rx="2.58" ry="2.48" fill="#7e60aa" stroke="#5c408c" stroke-width="0.9" transform="rotate(28 284.1 93.5)"/>
<circle cx="283.2" cy="93.1" r="0.66" fill="#5e3e8e" opacity="0.7"/>
<circle cx="283.4" cy="93.7" r="0.54" fill="#5e3e8e" opacity="0.7"/>
<ellipse cx="314.3" cy="44.4" rx="2.91" ry="2.49" fill="#a088c6" stroke="#644894" stroke-width="0.9" transform="rotate(143 314.3 44.4)"/>
<circle cx="313.6" cy="43.2" r="0.52" fill="#5e3e8e" opacity="0.7"/>
<circle cx="313.7" cy="43.4" r="0.61" fill="#5e3e8e" opacity="0.7"/>
<ellipse cx="413.1" cy="74.4" rx="3.46" ry="2.84" fill="#9478be" stroke="#644894" stroke-width="0.9" transform="rotate(55 413.1 74.4)"/>
<circle cx="414.0" cy="75.1" r="0.55" fill="#5e3e8e" opacity="0.7"/>
<circle cx="413.6" cy="75.1" r="0.69" fill="#5e3e8e" opacity="0.7"/>
<ellipse cx="341.9" cy="70.0" rx="2.96" ry="2.40" fill="#9478be" stroke="#5c408c" stroke-width="0.9" transform="rotate(148 341.9 70.0)"/>
<circle cx="341.3" cy="70.0" r="0.52" fill="#5e3e8e" opacity="0.7"/>
<circle cx="341.4" cy="69.3" r="0.52" fill="#5e3e8e" opacity="0.7"/>
<ellipse cx="274.7" cy="46.5" rx="2.84" ry="2.44" fill="#9478be" stroke="#6a4c9c" stroke-width="0.9" transform="rotate(167 274.7 46.5)"/>
<circle cx="275.2" cy="47.1" r="0.58" fill="#5e3e8e" opacity="0.7"/>
<circle cx="273.8" cy="46.3" r="0.69" fill="#5e3e8e" opacity="0.7"/>
<ellipse cx="280.0" cy="22.7" rx="2.66" ry="2.52" fill="#a088c6" stroke="#644894" stroke-width="0.9" transform="rotate(31 280.0 22.7)"/>
<circle cx="279.9" cy="22.7" r="0.55" fill="#5e3e8e" opacity="0.7"/>
<circle cx="281.0" cy="22.9" r="0.85" fill="#5e3e8e" opacity="0.7"/>
<ellipse cx="357.7" cy="72.6" rx="3.12" ry="2.39" fill="#8a6cb4" stroke="#6a4c9c" stroke-width="0.9" transform="rotate(179 357.7 72.6)"/>
<circle cx="357.9" cy="72.9" r="0.78" fill="#5e3e8e" opacity="0.7"/>
<circle cx="358.3" cy="72.5" r="0.53" fill="#5e3e8e" opacity="0.7"/>
<ellipse cx="376.4" cy="107.1" rx="2.76" ry="2.59" fill="#9478be" stroke="#644894" stroke-width="0.9" transform="rotate(83 376.4 107.1)"/>
<circle cx="375.7" cy="107.7" r="0.83" fill="#5e3e8e" opacity="0.7"/>
<circle cx="376.6" cy="107.6" r="0.82" fill="#5e3e8e" opacity="0.7"/>
<ellipse cx="414.8" cy="35.2" rx="3.11" ry="2.50" fill="#a088c6" stroke="#6a4c9c" stroke-width="0.9" transform="rotate(122 414.8 35.2)"/>
<circle cx="415.0" cy="35.2" r="0.88" fill="#5e3e8e" opacity="0.7"/>
<circle cx="413.7" cy="34.7" r="0.57" fill="#5e3e8e" opacity="0.7"/>
<ellipse cx="378.9" cy="100.5" rx="2.98" ry="2.33" fill="#a088c6" stroke="#5c408c" stroke-width="0.9" transform="rotate(49 378.9 100.5)"/>
<circle cx="379.8" cy="100.4" r="0.54" fill="#5e3e8e" opacity="0.7"/>
<circle cx="378.9" cy="100.6" r="0.64" fill="#5e3e8e" opacity="0.7"/>
<ellipse cx="346.1" cy="102.7" rx="3.31" ry="2.95" fill="#7e60aa" stroke="#6a4c9c" stroke-width="0.9" transform="rotate(107 346.1 102.7)"/>
<circle cx="346.0" cy="102.2" r="0.71" fill="#5e3e8e" opacity="0.7"/>
<circle cx="347.2" cy="101.8" r="0.55" fill="#5e3e8e" opacity="0.7"/>
<ellipse cx="357.5" cy="108.4" rx="3.16" ry="2.55" fill="#8a6cb4" stroke="#6a4c9c" stroke-width="0.9" transform="rotate(60 357.5 108.4)"/>
<circle cx="357.8" cy="108.0" r="0.63" fill="#5e3e8e" opacity="0.7"/>
<circle cx="356.4" cy="108.8" r="0.66" fill="#5e3e8e" opacity="0.7"/>
<ellipse cx="363.6" cy="87.5" rx="2.40" ry="1.98" fill="#7e60aa" stroke="#6a4c9c" stroke-width="0.9" transform="rotate(102 363.6 87.5)"/>
<circle cx="363.5" cy="87.1" r="0.57" fill="#5e3e8e" opacity="0.7"/>
<circle cx="362.5" cy="87.6" r="0.86" fill="#5e3e8e" opacity="0.7"/>
<ellipse cx="388.1" cy="94.2" rx="2.99" ry="2.88" fill="#8a6cb4" stroke="#644894" stroke-width="0.9" transform="rotate(43 388.1 94.2)"/>
<circle cx="388.7" cy="94.7" r="0.83" fill="#5e3e8e" opacity="0.7"/>
<circle cx="388.5" cy="93.3" r="0.89" fill="#5e3e8e" opacity="0.7"/>
<ellipse cx="368.3" cy="27.0" rx="2.68" ry="2.10" fill="#a088c6" stroke="#644894" stroke-width="0.9" transform="rotate(88 368.3 27.0)"/>
<circle cx="367.5" cy="27.3" r="0.86" fill="#5e3e8e" opacity="0.7"/>
<circle cx="367.6" cy="27.9" r="0.56" fill="#5e3e8e" opacity="0.7"/>
<ellipse cx="284.6" cy="46.7" rx="2.63" ry="2.06" fill="#9478be" stroke="#644894" stroke-width="0.9" transform="rotate(28 284.6 46.7)"/>
<circle cx="284.1" cy="46.0" r="0.54" fill="#5e3e8e" opacity="0.7"/>
<circle cx="284.7" cy="46.2" r="0.77" fill="#5e3e8e" opacity="0.7"/>
<ellipse cx="379.8" cy="116.6" rx="2.82" ry="2.69" fill="#9a80c0" stroke="#6a4c9c" stroke-width="0.9" transform="rotate(68 379.8 116.6)"/>
<circle cx="380.1" cy="116.0" r="0.77" fill="#5e3e8e" opacity="0.7"/>
<circle cx="380.5" cy="116.7" r="0.50" fill="#5e3e8e" opacity="0.7"/>
<ellipse cx="342.5" cy="87.8" rx="3.08" ry="2.55" fill="#9478be" stroke="#6a4c9c" stroke-width="0.9" transform="rotate(154 342.5 87.8)"/>
<circle cx="342.8" cy="87.2" r="0.73" fill="#5e3e8e" opacity="0.7"/>
<circle cx="342.2" cy="88.0" r="0.69" fill="#5e3e8e" opacity="0.7"/>
<ellipse cx="380.3" cy="50.5" rx="2.41" ry="2.19" fill="#9a80c0" stroke="#644894" stroke-width="0.9" transform="rotate(179 380.3 50.5)"/>
<circle cx="381.4" cy="51.5" r="0.78" fill="#5e3e8e" opacity="0.7"/>
<circle cx="381.3" cy="50.9" r="0.56" fill="#5e3e8e" opacity="0.7"/>
<ellipse cx="370.6" cy="49.1" rx="2.91" ry="2.76" fill="#9a80c0" stroke="#6a4c9c" stroke-width="0.9" transform="rotate(126 370.6 49.1)"/>
<circle cx="370.3" cy="49.3" r="0.62" fill="#5e3e8e" opacity="0.7"/>
<circle cx="369.5" cy="48.0" r="0.76" fill="#5e3e8e" opacity="0.7"/>
<circle cx="340.7" cy="32.2" r="1.42" fill="#6a4494"/>
<ellipse cx="413.9" cy="112.7" rx="2.90" ry="2.65" fill="#8a6cb4" stroke="#644894" stroke-width="0.9" transform="rotate(5 413.9 112.7)"/>
<circle cx="412.9" cy="113.9" r="0.72" fill="#5e3e8e" opacity="0.7"/>
<circle cx="414.5" cy="113.0" r="0.82" fill="#5e3e8e" opacity="0.7"/>
<ellipse cx="391.2" cy="115.9" rx="2.70" ry="2.07" fill="#7e60aa" stroke="#5c408c" stroke-width="0.9" transform="rotate(155 391.2 115.9)"/>
<circle cx="391.8" cy="115.8" r="0.84" fill="#5e3e8e" opacity="0.7"/>
<circle cx="391.0" cy="115.6" r="0.79" fill="#5e3e8e" opacity="0.7"/>
<ellipse cx="304.0" cy="113.6" rx="3.04" ry="2.76" fill="#8a6cb4" stroke="#5c408c" stroke-width="0.9" transform="rotate(134 304.0 113.6)"/>
<circle cx="303.9" cy="113.0" r="0.79" fill="#5e3e8e" opacity="0.7"/>
<circle cx="303.0" cy="113.8" r="0.86" fill="#5e3e8e" opacity="0.7"/>
<circle cx="294.3" cy="72.1" r="1.38" fill="#6a4494"/>
<circle cx="391.3" cy="70.6" r="1.72" fill="#6a4494"/>
<ellipse cx="274.5" cy="68.9" rx="2.73" ry="2.53" fill="#9478be" stroke="#6a4c9c" stroke-width="0.9" transform="rotate(95 274.5 68.9)"/>
<circle cx="273.4" cy="68.2" r="0.57" fill="#5e3e8e" opacity="0.7"/>
<circle cx="275.6" cy="69.4" r="0.57" fill="#5e3e8e" opacity="0.7"/>
<ellipse cx="294.1" cy="54.4" rx="3.32" ry="2.88" fill="#9a80c0" stroke="#6a4c9c" stroke-width="0.9" transform="rotate(122 294.1 54.4)"/>
<circle cx="295.0" cy="53.6" r="0.86" fill="#5e3e8e" opacity="0.7"/>
<circle cx="295.2" cy="53.3" r="0.76" fill="#5e3e8e" opacity="0.7"/>
<ellipse cx="274.2" cy="94.4" rx="2.53" ry="2.10" fill="#8a6cb4" stroke="#644894" stroke-width="0.9" transform="rotate(104 274.2 94.4)"/>
<circle cx="274.0" cy="94.3" r="0.71" fill="#5e3e8e" opacity="0.7"/>
<circle cx="273.3" cy="94.0" r="0.66" fill="#5e3e8e" opacity="0.7"/>
<circle cx="406.5" cy="90.7" r="1.47" fill="#5e3a8c"/>
<circle cx="327.2" cy="59.2" r="1.65" fill="#5e3a8c"/>
<circle cx="327.4" cy="114.7" r="1.79" fill="#6a4494"/>
<circle cx="364.2" cy="110.5" r="1.63" fill="#553486"/>
<ellipse cx="376.9" cy="25.4" rx="2.90" ry="2.22" fill="#a088c6" stroke="#5c408c" stroke-width="0.9" transform="rotate(127 376.9 25.4)"/>
<circle cx="376.2" cy="25.0" r="0.76" fill="#5e3e8e" opacity="0.7"/>
<circle cx="376.3" cy="25.2" r="0.78" fill="#5e3e8e" opacity="0.7"/>
<ellipse cx="381.6" cy="84.0" rx="2.45" ry="2.24" fill="#7e60aa" stroke="#6a4c9c" stroke-width="0.9" transform="rotate(160 381.6 84.0)"/>
<circle cx="381.0" cy="83.5" r="0.82" fill="#5e3e8e" opacity="0.7"/>
<circle cx="382.1" cy="83.3" r="0.82" fill="#5e3e8e" opacity="0.7"/>
<ellipse cx="406.5" cy="33.0" rx="2.78" ry="2.63" fill="#9478be" stroke="#6a4c9c" stroke-width="0.9" transform="rotate(117 406.5 33.0)"/>
<circle cx="405.8" cy="32.5" r="0.63" fill="#5e3e8e" opacity="0.7"/>
<circle cx="406.4" cy="32.1" r="0.82" fill="#5e3e8e" opacity="0.7"/>
<circle cx="316.6" cy="93.3" r="1.46" fill="#5e3a8c"/>
<ellipse cx="297.9" cy="36.4" rx="3.40" ry="3.38" fill="#9a80c0" stroke="#5c408c" stroke-width="0.9" transform="rotate(155 297.9 36.4)"/>
<circle cx="297.4" cy="37.4" r="0.85" fill="#5e3e8e" opacity="0.7"/>
<circle cx="296.8" cy="37.3" r="0.60" fill="#5e3e8e" opacity="0.7"/>
<ellipse cx="322.9" cy="29.5" rx="2.68" ry="2.09" fill="#a088c6" stroke="#644894" stroke-width="0.9" transform="rotate(102 322.9 29.5)"/>
<circle cx="322.2" cy="30.4" r="0.83" fill="#5e3e8e" opacity="0.7"/>
<circle cx="321.8" cy="29.0" r="0.73" fill="#5e3e8e" opacity="0.7"/>
<circle cx="346.0" cy="82.5" r="1.43" fill="#6a4494"/>
<circle cx="410.4" cy="104.1" r="1.31" fill="#553486"/>
<circle cx="278.6" cy="90.4" r="1.58" fill="#6a4494"/>
<ellipse cx="358.0" cy="20.5" rx="3.42" ry="3.05" fill="#9478be" stroke="#6a4c9c" stroke-width="0.9" transform="rotate(112 358.0 20.5)"/>
<circle cx="358.1" cy="20.9" r="0.87" fill="#5e3e8e" opacity="0.7"/>
<circle cx="359.1" cy="20.6" r="0.57" fill="#5e3e8e" opacity="0.7"/>
<circle cx="392.1" cy="104.8" r="1.45" fill="#6a4494"/>
<ellipse cx="292.3" cy="45.3" rx="3.17" ry="2.95" fill="#9478be" stroke="#5c408c" stroke-width="0.9" transform="rotate(108 292.3 45.3)"/>
<circle cx="292.6" cy="45.1" r="0.66" fill="#5e3e8e" opacity="0.7"/>
<circle cx="291.5" cy="44.7" r="0.60" fill="#5e3e8e" opacity="0.7"/>
<ellipse cx="329.5" cy="42.5" rx="2.41" ry="2.09" fill="#a088c6" stroke="#6a4c9c" stroke-width="0.9" transform="rotate(10 329.5 42.5)"/>
<circle cx="328.7" cy="43.1" r="0.59" fill="#5e3e8e" opacity="0.7"/>
<circle cx="329.7" cy="41.7" r="0.80" fill="#5e3e8e" opacity="0.7"/>
<circle cx="317.1" cy="65.9" r="1.69" fill="#5e3a8c"/>
<ellipse cx="400.4" cy="67.3" rx="2.67" ry="2.49" fill="#9478be" stroke="#6a4c9c" stroke-width="0.9" transform="rotate(9 400.4 67.3)"/>
<circle cx="399.2" cy="67.4" r="0.84" fill="#5e3e8e" opacity="0.7"/>
<circle cx="400.4" cy="68.2" r="0.74" fill="#5e3e8e" opacity="0.7"/>
<ellipse cx="369.4" cy="111.6" rx="2.44" ry="2.13" fill="#9478be" stroke="#644894" stroke-width="0.9" transform="rotate(79 369.4 111.6)"/>
<circle cx="369.2" cy="112.2" r="0.52" fill="#5e3e8e" opacity="0.7"/>
<circle cx="369.1" cy="111.7" r="0.70" fill="#5e3e8e" opacity="0.7"/>
<ellipse cx="322.3" cy="61.9" rx="2.62" ry="2.35" fill="#7e60aa" stroke="#5c408c" stroke-width="0.9" transform="rotate(135 322.3 61.9)"/>
<circle cx="323.5" cy="61.0" r="0.74" fill="#5e3e8e" opacity="0.7"/>
<circle cx="321.6" cy="62.2" r="0.64" fill="#5e3e8e" opacity="0.7"/>
<ellipse cx="412.7" cy="51.2" rx="2.65" ry="2.60" fill="#7e60aa" stroke="#644894" stroke-width="0.9" transform="rotate(128 412.7 51.2)"/>
<circle cx="412.3" cy="51.6" r="0.87" fill="#5e3e8e" opacity="0.7"/>
<circle cx="412.3" cy="52.2" r="0.73" fill="#5e3e8e" opacity="0.7"/>
<ellipse cx="305.7" cy="95.4" rx="3.45" ry="3.31" fill="#7e60aa" stroke="#6a4c9c" stroke-width="0.9" transform="rotate(129 305.7 95.4)"/>
<circle cx="305.8" cy="94.7" r="0.89" fill="#5e3e8e" opacity="0.7"/>
<circle cx="304.7" cy="96.4" r="0.55" fill="#5e3e8e" opacity="0.7"/>
<circle cx="282.6" cy="59.2" r="1.83" fill="#6a4494"/>
<ellipse cx="369.0" cy="57.8" rx="2.76" ry="2.09" fill="#7e60aa" stroke="#644894" stroke-width="0.9" transform="rotate(179 369.0 57.8)"/>
<circle cx="368.7" cy="58.7" r="0.57" fill="#5e3e8e" opacity="0.7"/>
<circle cx="368.6" cy="58.4" r="0.78" fill="#5e3e8e" opacity="0.7"/>
<ellipse cx="298.2" cy="20.8" rx="2.79" ry="2.70" fill="#7e60aa" stroke="#644894" stroke-width="0.9" transform="rotate(126 298.2 20.8)"/>
<circle cx="299.4" cy="19.7" r="0.74" fill="#5e3e8e" opacity="0.7"/>
<circle cx="297.1" cy="19.6" r="0.54" fill="#5e3e8e" opacity="0.7"/>
<circle cx="301.6" cy="56.4" r="1.32" fill="#6a4494"/>
<ellipse cx="332.7" cy="100.5" rx="2.44" ry="2.35" fill="#a088c6" stroke="#5c408c" stroke-width="0.9" transform="rotate(81 332.7 100.5)"/>
<circle cx="331.6" cy="100.6" r="0.66" fill="#5e3e8e" opacity="0.7"/>
<circle cx="332.5" cy="100.0" r="0.60" fill="#5e3e8e" opacity="0.7"/>
<circle cx="405.1" cy="82.9" r="1.31" fill="#5e3a8c"/>
<circle cx="307.4" cy="67.3" r="1.87" fill="#5e3a8c"/>
<ellipse cx="278.8" cy="74.9" rx="3.48" ry="3.03" fill="#7e60aa" stroke="#644894" stroke-width="0.9" transform="rotate(36 278.8 74.9)"/>
<circle cx="278.3" cy="73.7" r="0.90" fill="#5e3e8e" opacity="0.7"/>
<circle cx="278.6" cy="76.1" r="0.72" fill="#5e3e8e" opacity="0.7"/>
<ellipse cx="400.3" cy="117.8" rx="2.49" ry="1.91" fill="#7e60aa" stroke="#644894" stroke-width="0.9" transform="rotate(161 400.3 117.8)"/>
<circle cx="401.4" cy="118.3" r="0.80" fill="#5e3e8e" opacity="0.7"/>
<circle cx="399.6" cy="117.2" r="0.63" fill="#5e3e8e" opacity="0.7"/>
<ellipse cx="287.8" cy="69.6" rx="2.89" ry="2.79" fill="#9478be" stroke="#5c408c" stroke-width="0.9" transform="rotate(42 287.8 69.6)"/>
<circle cx="286.8" cy="69.2" r="0.89" fill="#5e3e8e" opacity="0.7"/>
<circle cx="288.4" cy="68.6" r="0.84" fill="#5e3e8e" opacity="0.7"/>
<ellipse cx="394.2" cy="49.4" rx="2.81" ry="2.31" fill="#9478be" stroke="#644894" stroke-width="0.9" transform="rotate(164 394.2 49.4)"/>
<circle cx="394.8" cy="48.5" r="0.61" fill="#5e3e8e" opacity="0.7"/>
<circle cx="393.9" cy="48.6" r="0.73" fill="#5e3e8e" opacity="0.7"/>
<ellipse cx="379.5" cy="40.1" rx="2.67" ry="2.06" fill="#8a6cb4" stroke="#5c408c" stroke-width="0.9" transform="rotate(118 379.5 40.1)"/>
<circle cx="379.1" cy="40.6" r="0.64" fill="#5e3e8e" opacity="0.7"/>
<circle cx="379.7" cy="41.1" r="0.55" fill="#5e3e8e" opacity="0.7"/>
<circle cx="389.6" cy="84.9" r="1.36" fill="#6a4494"/>
<ellipse cx="310.5" cy="79.5" rx="2.62" ry="2.01" fill="#9478be" stroke="#5c408c" stroke-width="0.9" transform="rotate(120 310.5 79.5)"/>
<circle cx="310.3" cy="79.6" r="0.63" fill="#5e3e8e" opacity="0.7"/>
<circle cx="311.3" cy="80.0" r="0.76" fill="#5e3e8e" opacity="0.7"/>
<ellipse cx="318.7" cy="76.3" rx="2.86" ry="2.20" fill="#a088c6" stroke="#6a4c9c" stroke-width="0.9" transform="rotate(123 318.7 76.3)"/>
<circle cx="317.6" cy="76.8" r="0.54" fill="#5e3e8e" opacity="0.7"/>
<circle cx="318.3" cy="76.0" r="0.50" fill="#5e3e8e" opacity="0.7"/>
<ellipse cx="348.5" cy="111.7" rx="2.94" ry="2.67" fill="#7e60aa" stroke="#6a4c9c" stroke-width="0.9" transform="rotate(87 348.5 111.7)"/>
<circle cx="348.4" cy="112.3" r="0.84" fill="#5e3e8e" opacity="0.7"/>
<circle cx="349.3" cy="111.3" r="0.60" fill="#5e3e8e" opacity="0.7"/>
<circle cx="406.4" cy="58.7" r="1.67" fill="#5e3a8c"/>
<ellipse cx="391.9" cy="36.3" rx="2.64" ry="2.14" fill="#9a80c0" stroke="#644894" stroke-width="0.9" transform="rotate(143 391.9 36.3)"/>
<circle cx="391.2" cy="37.3" r="0.71" fill="#5e3e8e" opacity="0.7"/>
<circle cx="390.9" cy="35.5" r="0.69" fill="#5e3e8e" opacity="0.7"/>
<ellipse cx="363.7" cy="50.7" rx="3.04" ry="2.28" fill="#8a6cb4" stroke="#644894" stroke-width="0.9" transform="rotate(21 363.7 50.7)"/>
<circle cx="364.1" cy="50.7" r="0.63" fill="#5e3e8e" opacity="0.7"/>
<circle cx="363.4" cy="49.6" r="0.74" fill="#5e3e8e" opacity="0.7"/>
<ellipse cx="334.9" cy="85.4" rx="2.88" ry="2.70" fill="#9478be" stroke="#5c408c" stroke-width="0.9" transform="rotate(38 334.9 85.4)"/>
<circle cx="335.3" cy="84.9" r="0.73" fill="#5e3e8e" opacity="0.7"/>
<circle cx="334.0" cy="85.9" r="0.62" fill="#5e3e8e" opacity="0.7"/>
<ellipse cx="347.1" cy="25.8" rx="2.82" ry="2.65" fill="#8a6cb4" stroke="#6a4c9c" stroke-width="0.9" transform="rotate(103 347.1 25.8)"/>
<circle cx="346.5" cy="25.6" r="0.73" fill="#5e3e8e" opacity="0.7"/>
<circle cx="346.7" cy="25.8" r="0.61" fill="#5e3e8e" opacity="0.7"/>
<ellipse cx="303.8" cy="46.4" rx="2.75" ry="2.29" fill="#a088c6" stroke="#6a4c9c" stroke-width="0.9" transform="rotate(92 303.8 46.4)"/>
<circle cx="303.3" cy="47.2" r="0.58" fill="#5e3e8e" opacity="0.7"/>
<circle cx="303.1" cy="45.4" r="0.64" fill="#5e3e8e" opacity="0.7"/>
<ellipse cx="279.3" cy="38.4" rx="3.43" ry="3.20" fill="#9a80c0" stroke="#6a4c9c" stroke-width="0.9" transform="rotate(21 279.3 38.4)"/>
<circle cx="280.5" cy="37.2" r="0.69" fill="#5e3e8e" opacity="0.7"/>
<circle cx="279.2" cy="37.7" r="0.71" fill="#5e3e8e" opacity="0.7"/>
<ellipse cx="398.8" cy="75.2" rx="3.37" ry="3.34" fill="#7e60aa" stroke="#644894" stroke-width="0.9" transform="rotate(113 398.8 75.2)"/>
<circle cx="399.1" cy="74.1" r="0.79" fill="#5e3e8e" opacity="0.7"/>
<circle cx="399.9" cy="74.5" r="0.82" fill="#5e3e8e" opacity="0.7"/>
<circle cx="388.1" cy="46.6" r="1.65" fill="#5e3a8c"/>
<ellipse cx="325.5" cy="95.8" rx="2.59" ry="2.12" fill="#a088c6" stroke="#644894" stroke-width="0.9" transform="rotate(103 325.5 95.8)"/>
<circle cx="325.4" cy="96.5" r="0.89" fill="#5e3e8e" opacity="0.7"/>
<circle cx="325.5" cy="95.4" r="0.89" fill="#5e3e8e" opacity="0.7"/>
<ellipse cx="365.4" cy="117.4" rx="3.13" ry="2.84" fill="#7e60aa" stroke="#6a4c9c" stroke-width="0.9" transform="rotate(27 365.4 117.4)"/>
<circle cx="365.5" cy="117.5" r="0.87" fill="#5e3e8e" opacity="0.7"/>
<circle cx="365.1" cy="116.7" r="0.75" fill="#5e3e8e" opacity="0.7"/>
<ellipse cx="318.7" cy="20.7" rx="2.56" ry="2.13" fill="#7e60aa" stroke="#6a4c9c" stroke-width="0.9" transform="rotate(26 318.7 20.7)"/>
<circle cx="319.2" cy="21.5" r="0.89" fill="#5e3e8e" opacity="0.7"/>
<circle cx="319.4" cy="21.4" r="0.70" fill="#5e3e8e" opacity="0.7"/>
<ellipse cx="362.1" cy="63.1" rx="3.39" ry="2.70" fill="#9478be" stroke="#6a4c9c" stroke-width="0.9" transform="rotate(64 362.1 63.1)"/>
<circle cx="361.3" cy="62.0" r="0.51" fill="#5e3e8e" opacity="0.7"/>
<circle cx="362.1" cy="63.2" r="0.72" fill="#5e3e8e" opacity="0.7"/>
<ellipse cx="274.4" cy="55.5" rx="2.79" ry="2.23" fill="#a088c6" stroke="#5c408c" stroke-width="0.9" transform="rotate(108 274.4 55.5)"/>
<circle cx="275.1" cy="55.5" r="0.86" fill="#5e3e8e" opacity="0.7"/>
<circle cx="273.6" cy="55.8" r="0.63" fill="#5e3e8e" opacity="0.7"/>
<ellipse cx="398.6" cy="97.5" rx="2.69" ry="2.28" fill="#7e60aa" stroke="#5c408c" stroke-width="0.9" transform="rotate(62 398.6 97.5)"/>
<circle cx="398.2" cy="98.1" r="0.52" fill="#5e3e8e" opacity="0.7"/>
<circle cx="398.9" cy="97.7" r="0.64" fill="#5e3e8e" opacity="0.7"/>
<ellipse cx="275.6" cy="84.0" rx="2.79" ry="2.64" fill="#7e60aa" stroke="#644894" stroke-width="0.9" transform="rotate(93 275.6 84.0)"/>
<circle cx="274.8" cy="85.0" r="0.82" fill="#5e3e8e" opacity="0.7"/>
<circle cx="276.2" cy="84.5" r="0.68" fill="#5e3e8e" opacity="0.7"/>
<ellipse cx="302.5" cy="80.4" rx="3.11" ry="2.72" fill="#9478be" stroke="#644894" stroke-width="0.9" transform="rotate(110 302.5 80.4)"/>
<circle cx="301.4" cy="81.6" r="0.73" fill="#5e3e8e" opacity="0.7"/>
<circle cx="303.0" cy="80.2" r="0.69" fill="#5e3e8e" opacity="0.7"/>
<ellipse cx="274.9" cy="103.7" rx="2.91" ry="2.58" fill="#a088c6" stroke="#5c408c" stroke-width="0.9" transform="rotate(152 274.9 103.7)"/>
<circle cx="275.5" cy="103.8" r="0.64" fill="#5e3e8e" opacity="0.7"/>
<circle cx="275.2" cy="102.5" r="0.55" fill="#5e3e8e" opacity="0.7"/>
<ellipse cx="380.1" cy="65.1" rx="2.52" ry="2.36" fill="#a088c6" stroke="#644894" stroke-width="0.9" transform="rotate(10 380.1 65.1)"/>
<circle cx="381.2" cy="65.0" r="0.66" fill="#5e3e8e" opacity="0.7"/>
<circle cx="380.2" cy="64.5" r="0.83" fill="#5e3e8e" opacity="0.7"/>
<ellipse cx="353.2" cy="63.5" rx="2.98" ry="2.79" fill="#a088c6" stroke="#5c408c" stroke-width="0.9" transform="rotate(112 353.2 63.5)"/>
<circle cx="352.4" cy="63.7" r="0.73" fill="#5e3e8e" opacity="0.7"/>
<circle cx="352.3" cy="63.7" r="0.79" fill="#5e3e8e" opacity="0.7"/>
<ellipse cx="399.8" cy="22.0" rx="2.66" ry="2.53" fill="#9a80c0" stroke="#5c408c" stroke-width="0.9" transform="rotate(125 399.8 22.0)"/>
<circle cx="399.7" cy="22.0" r="0.78" fill="#5e3e8e" opacity="0.7"/>
<circle cx="400.9" cy="20.9" r="0.90" fill="#5e3e8e" opacity="0.7"/>
<ellipse cx="373.0" cy="82.9" rx="3.21" ry="2.78" fill="#a088c6" stroke="#6a4c9c" stroke-width="0.9" transform="rotate(168 373.0 82.9)"/>
<circle cx="373.4" cy="82.6" r="0.57" fill="#5e3e8e" opacity="0.7"/>
<circle cx="371.9" cy="82.7" r="0.59" fill="#5e3e8e" opacity="0.7"/>
<ellipse cx="364.7" cy="101.8" rx="2.72" ry="2.34" fill="#9478be" stroke="#6a4c9c" stroke-width="0.9" transform="rotate(34 364.7 101.8)"/>
<circle cx="364.7" cy="102.0" r="0.80" fill="#5e3e8e" opacity="0.7"/>
<circle cx="364.2" cy="100.8" r="0.87" fill="#5e3e8e" opacity="0.7"/>
<ellipse cx="397.3" cy="29.5" rx="2.59" ry="2.22" fill="#9478be" stroke="#5c408c" stroke-width="0.9" transform="rotate(31 397.3 29.5)"/>
<circle cx="397.1" cy="28.8" r="0.51" fill="#5e3e8e" opacity="0.7"/>
<circle cx="396.2" cy="30.4" r="0.84" fill="#5e3e8e" opacity="0.7"/>
<ellipse cx="311.3" cy="113.5" rx="2.64" ry="2.00" fill="#8a6cb4" stroke="#5c408c" stroke-width="0.9" transform="rotate(108 311.3 113.5)"/>
<circle cx="312.3" cy="114.1" r="0.54" fill="#5e3e8e" opacity="0.7"/>
<circle cx="311.2" cy="114.0" r="0.50" fill="#5e3e8e" opacity="0.7"/>
<ellipse cx="374.0" cy="69.6" rx="3.10" ry="2.42" fill="#9a80c0" stroke="#6a4c9c" stroke-width="0.9" transform="rotate(88 374.0 69.6)"/>
<circle cx="373.2" cy="68.4" r="0.53" fill="#5e3e8e" opacity="0.7"/>
<circle cx="374.7" cy="70.7" r="0.76" fill="#5e3e8e" opacity="0.7"/>
<ellipse cx="328.2" cy="107.6" rx="2.91" ry="2.40" fill="#8a6cb4" stroke="#6a4c9c" stroke-width="0.9" transform="rotate(24 328.2 107.6)"/>
<circle cx="329.0" cy="108.5" r="0.66" fill="#5e3e8e" opacity="0.7"/>
<circle cx="328.0" cy="108.8" r="0.63" fill="#5e3e8e" opacity="0.7"/>
<ellipse cx="350.0" cy="94.8" rx="3.11" ry="2.69" fill="#a088c6" stroke="#644894" stroke-width="0.9" transform="rotate(169 350.0 94.8)"/>
<circle cx="351.2" cy="94.1" r="0.70" fill="#5e3e8e" opacity="0.7"/>
<circle cx="349.6" cy="95.6" r="0.65" fill="#5e3e8e" opacity="0.7"/>
<ellipse cx="368.7" cy="93.6" rx="2.88" ry="2.21" fill="#7e60aa" stroke="#644894" stroke-width="0.9" transform="rotate(26 368.7 93.6)"/>
<circle cx="369.7" cy="94.8" r="0.56" fill="#5e3e8e" opacity="0.7"/>
<circle cx="369.7" cy="94.1" r="0.54" fill="#5e3e8e" opacity="0.7"/>
<ellipse cx="384.6" cy="77.5" rx="2.91" ry="2.49" fill="#9478be" stroke="#644894" stroke-width="0.9" transform="rotate(91 384.6 77.5)"/>
<circle cx="384.1" cy="77.9" r="0.57" fill="#5e3e8e" opacity="0.7"/>
<circle cx="384.5" cy="77.0" r="0.87" fill="#5e3e8e" opacity="0.7"/>
<ellipse cx="400.6" cy="43.9" rx="2.73" ry="2.05" fill="#7e60aa" stroke="#5c408c" stroke-width="0.9" transform="rotate(40 400.6 43.9)"/>
<circle cx="401.7" cy="43.1" r="0.52" fill="#5e3e8e" opacity="0.7"/>
<circle cx="400.8" cy="44.1" r="0.83" fill="#5e3e8e" opacity="0.7"/>
<ellipse cx="309.4" cy="52.7" rx="2.58" ry="2.34" fill="#7e60aa" stroke="#5c408c" stroke-width="0.9" transform="rotate(62 309.4 52.7)"/>
<circle cx="308.8" cy="53.7" r="0.85" fill="#5e3e8e" opacity="0.7"/>
<circle cx="310.4" cy="53.2" r="0.62" fill="#5e3e8e" opacity="0.7"/>
<circle cx="320.9" cy="39.1" r="1.74" fill="#5e3a8c"/>
<ellipse cx="414.7" cy="98.8" rx="2.88" ry="2.59" fill="#a088c6" stroke="#644894" stroke-width="0.9" transform="rotate(136 414.7 98.8)"/>
<circle cx="413.5" cy="98.2" r="0.80" fill="#5e3e8e" opacity="0.7"/>
<circle cx="415.8" cy="98.4" r="0.64" fill="#5e3e8e" opacity="0.7"/>
<ellipse cx="329.5" cy="23.8" rx="3.27" ry="2.68" fill="#7e60aa" stroke="#6a4c9c" stroke-width="0.9" transform="rotate(35 329.5 23.8)"/>
<circle cx="329.6" cy="24.4" r="0.66" fill="#5e3e8e" opacity="0.7"/>
<circle cx="330.6" cy="23.7" r="0.83" fill="#5e3e8e" opacity="0.7"/>
<ellipse cx="294.3" cy="80.0" rx="3.22" ry="2.83" fill="#9a80c0" stroke="#6a4c9c" stroke-width="0.9" transform="rotate(144 294.3 80.0)"/>
<circle cx="294.7" cy="79.2" r="0.70" fill="#5e3e8e" opacity="0.7"/>
<circle cx="293.9" cy="80.0" r="0.67" fill="#5e3e8e" opacity="0.7"/>
<circle cx="384.7" cy="89.5" r="1.71" fill="#6a4494"/>
<circle cx="297.0" cy="97.5" r="1.61" fill="#5e3a8c"/>
<ellipse cx="352.4" cy="32.8" rx="2.79" ry="2.44" fill="#7e60aa" stroke="#5c408c" stroke-width="0.9" transform="rotate(148 352.4 32.8)"/>
<circle cx="351.8" cy="33.3" r="0.64" fill="#5e3e8e" opacity="0.7"/>
<circle cx="353.3" cy="34.0" r="0.58" fill="#5e3e8e" opacity="0.7"/>
<ellipse cx="353.4" cy="46.6" rx="2.55" ry="2.46" fill="#a088c6" stroke="#5c408c" stroke-width="0.9" transform="rotate(172 353.4 46.6)"/>
<circle cx="352.8" cy="45.6" r="0.77" fill="#5e3e8e" opacity="0.7"/>
<circle cx="352.6" cy="47.6" r="0.80" fill="#5e3e8e" opacity="0.7"/>
<ellipse cx="411.4" cy="27.9" rx="3.10" ry="2.75" fill="#9a80c0" stroke="#6a4c9c" stroke-width="0.9" transform="rotate(20 411.4 27.9)"/>
<circle cx="411.8" cy="28.2" r="0.70" fill="#5e3e8e" opacity="0.7"/>
<circle cx="411.6" cy="29.1" r="0.89" fill="#5e3e8e" opacity="0.7"/>
<ellipse cx="321.3" cy="117.2" rx="2.93" ry="2.49" fill="#8a6cb4" stroke="#644894" stroke-width="0.9" transform="rotate(88 321.3 117.2)"/>
<circle cx="321.4" cy="117.5" r="0.52" fill="#5e3e8e" opacity="0.7"/>
<circle cx="320.5" cy="116.9" r="0.66" fill="#5e3e8e" opacity="0.7"/>
<ellipse cx="371.4" cy="41.4" rx="2.90" ry="2.25" fill="#a088c6" stroke="#6a4c9c" stroke-width="0.9" transform="rotate(99 371.4 41.4)"/>
<circle cx="371.5" cy="40.9" r="0.77" fill="#5e3e8e" opacity="0.7"/>
<circle cx="371.9" cy="41.4" r="0.59" fill="#5e3e8e" opacity="0.7"/>
<ellipse cx="383.1" cy="30.5" rx="2.44" ry="2.39" fill="#9478be" stroke="#6a4c9c" stroke-width="0.9" transform="rotate(91 383.1 30.5)"/>
<circle cx="383.5" cy="31.0" r="0.69" fill="#5e3e8e" opacity="0.7"/>
<circle cx="383.8" cy="31.0" r="0.73" fill="#5e3e8e" opacity="0.7"/>
<ellipse cx="384.8" cy="110.5" rx="2.81" ry="2.45" fill="#7e60aa" stroke="#5c408c" stroke-width="0.9" transform="rotate(58 384.8 110.5)"/>
<circle cx="383.9" cy="110.4" r="0.86" fill="#5e3e8e" opacity="0.7"/>
<circle cx="383.8" cy="110.5" r="0.80" fill="#5e3e8e" opacity="0.7"/>
<ellipse cx="333.0" cy="30.6" rx="2.63" ry="2.11" fill="#9478be" stroke="#644894" stroke-width="0.9" transform="rotate(156 333.0 30.6)"/>
<circle cx="333.1" cy="31.6" r="0.53" fill="#5e3e8e" opacity="0.7"/>
<circle cx="332.7" cy="30.6" r="0.65" fill="#5e3e8e" opacity="0.7"/>
<ellipse cx="325.9" cy="84.0" rx="2.86" ry="2.52" fill="#8a6cb4" stroke="#5c408c" stroke-width="0.9" transform="rotate(12 325.9 84.0)"/>
<circle cx="326.7" cy="83.8" r="0.66" fill="#5e3e8e" opacity="0.7"/>
<circle cx="326.6" cy="83.6" r="0.78" fill="#5e3e8e" opacity="0.7"/>
<ellipse cx="342.2" cy="78.5" rx="2.61" ry="2.30" fill="#a088c6" stroke="#5c408c" stroke-width="0.9" transform="rotate(42 342.2 78.5)"/>
<circle cx="341.1" cy="77.8" r="0.80" fill="#5e3e8e" opacity="0.7"/>
<circle cx="342.4" cy="78.7" r="0.50" fill="#5e3e8e" opacity="0.7"/>
<ellipse cx="299.8" cy="89.6" rx="3.02" ry="2.48" fill="#9a80c0" stroke="#644894" stroke-width="0.9" transform="rotate(119 299.8 89.6)"/>
<circle cx="300.6" cy="89.1" r="0.69" fill="#5e3e8e" opacity="0.7"/>
<circle cx="299.0" cy="88.9" r="0.68" fill="#5e3e8e" opacity="0.7"/>
<ellipse cx="416.6" cy="57.3" rx="3.10" ry="2.81" fill="#a088c6" stroke="#6a4c9c" stroke-width="0.9" transform="rotate(78 416.6 57.3)"/>
<circle cx="417.5" cy="56.6" r="0.67" fill="#5e3e8e" opacity="0.7"/>
<circle cx="417.2" cy="57.6" r="0.75" fill="#5e3e8e" opacity="0.7"/>
<circle cx="338.1" cy="36.2" r="1.90" fill="#5e3a8c"/>
<ellipse cx="403.1" cy="109.6" rx="2.45" ry="2.13" fill="#8a6cb4" stroke="#6a4c9c" stroke-width="0.9" transform="rotate(135 403.1 109.6)"/>
<circle cx="402.1" cy="110.2" r="0.84" fill="#5e3e8e" opacity="0.7"/>
<circle cx="402.7" cy="109.6" r="0.81" fill="#5e3e8e" opacity="0.7"/>
<ellipse cx="363.8" cy="34.6" rx="2.46" ry="2.31" fill="#8a6cb4" stroke="#644894" stroke-width="0.9" transform="rotate(152 363.8 34.6)"/>
<circle cx="364.4" cy="35.2" r="0.80" fill="#5e3e8e" opacity="0.7"/>
<circle cx="364.6" cy="34.2" r="0.62" fill="#5e3e8e" opacity="0.7"/>
<ellipse cx="312.1" cy="61.1" rx="2.70" ry="2.28" fill="#7e60aa" stroke="#6a4c9c" stroke-width="0.9" transform="rotate(31 312.1 61.1)"/>
<circle cx="311.7" cy="60.2" r="0.53" fill="#5e3e8e" opacity="0.7"/>
<circle cx="312.3" cy="60.4" r="0.72" fill="#5e3e8e" opacity="0.7"/>
<ellipse cx="319.5" cy="109.5" rx="3.48" ry="2.98" fill="#9a80c0" stroke="#5c408c" stroke-width="0.9" transform="rotate(153 319.5 109.5)"/>
<circle cx="319.1" cy="110.2" r="0.72" fill="#5e3e8e" opacity="0.7"/>
<circle cx="320.2" cy="109.3" r="0.71" fill="#5e3e8e" opacity="0.7"/>
<ellipse cx="389.4" cy="54.1" rx="2.40" ry="2.05" fill="#a088c6" stroke="#6a4c9c" stroke-width="0.9" transform="rotate(31 389.4 54.1)"/>
<circle cx="389.9" cy="53.5" r="0.70" fill="#5e3e8e" opacity="0.7"/>
<circle cx="388.5" cy="54.4" r="0.79" fill="#5e3e8e" opacity="0.7"/>
<ellipse cx="326.5" cy="36.6" rx="3.05" ry="2.58" fill="#9a80c0" stroke="#6a4c9c" stroke-width="0.9" transform="rotate(157 326.5 36.6)"/>
<circle cx="326.6" cy="36.7" r="0.53" fill="#5e3e8e" opacity="0.7"/>
<circle cx="326.3" cy="36.1" r="0.76" fill="#5e3e8e" opacity="0.7"/>
<ellipse cx="291.3" cy="90.9" rx="3.35" ry="2.68" fill="#7e60aa" stroke="#5c408c" stroke-width="0.9" transform="rotate(115 291.3 90.9)"/>
<circle cx="290.2" cy="89.7" r="0.87" fill="#5e3e8e" opacity="0.7"/>
<circle cx="292.0" cy="90.1" r="0.87" fill="#5e3e8e" opacity="0.7"/>
<ellipse cx="412.3" cy="42.5" rx="2.51" ry="2.34" fill="#9478be" stroke="#5c408c" stroke-width="0.9" transform="rotate(154 412.3 42.5)"/>
<circle cx="411.6" cy="43.7" r="0.63" fill="#5e3e8e" opacity="0.7"/>
<circle cx="413.3" cy="42.5" r="0.85" fill="#5e3e8e" opacity="0.7"/>
<ellipse cx="398.3" cy="91.1" rx="2.54" ry="2.52" fill="#7e60aa" stroke="#5c408c" stroke-width="0.9" transform="rotate(19 398.3 91.1)"/>
<circle cx="398.1" cy="91.5" r="0.68" fill="#5e3e8e" opacity="0.7"/>
<circle cx="398.2" cy="92.0" r="0.55" fill="#5e3e8e" opacity="0.7"/>
<ellipse cx="336.3" cy="117.2" rx="3.40" ry="2.65" fill="#9a80c0" stroke="#644894" stroke-width="0.9" transform="rotate(161 336.3 117.2)"/>
<circle cx="335.2" cy="117.8" r="0.87" fill="#5e3e8e" opacity="0.7"/>
<circle cx="336.0" cy="116.0" r="0.80" fill="#5e3e8e" opacity="0.7"/>
<ellipse cx="317.7" cy="84.3" rx="3.05" ry="3.04" fill="#7e60aa" stroke="#6a4c9c" stroke-width="0.9" transform="rotate(64 317.7 84.3)"/>
<circle cx="318.1" cy="85.3" r="0.50" fill="#5e3e8e" opacity="0.7"/>
<circle cx="317.8" cy="84.5" r="0.51" fill="#5e3e8e" opacity="0.7"/>
<ellipse cx="355.5" cy="84.6" rx="3.18" ry="2.42" fill="#8a6cb4" stroke="#5c408c" stroke-width="0.9" transform="rotate(22 355.5 84.6)"/>
<circle cx="356.0" cy="83.8" r="0.73" fill="#5e3e8e" opacity="0.7"/>
<circle cx="355.9" cy="85.5" r="0.66" fill="#5e3e8e" opacity="0.7"/>
<circle cx="296.7" cy="27.1" r="1.56" fill="#6a4494"/>
<circle cx="357.2" cy="29.2" r="1.49" fill="#6a4494"/>
<ellipse cx="335.0" cy="110.2" rx="2.45" ry="2.01" fill="#a088c6" stroke="#5c408c" stroke-width="0.9" transform="rotate(85 335.0 110.2)"/>
<circle cx="334.0" cy="110.2" r="0.51" fill="#5e3e8e" opacity="0.7"/>
<circle cx="335.2" cy="110.8" r="0.68" fill="#5e3e8e" opacity="0.7"/>
<ellipse cx="351.0" cy="118.8" rx="2.97" ry="2.54" fill="#a088c6" stroke="#644894" stroke-width="0.9" transform="rotate(46 351.0 118.8)"/>
<circle cx="351.0" cy="120.0" r="0.66" fill="#5e3e8e" opacity="0.7"/>
<circle cx="351.9" cy="118.8" r="0.71" fill="#5e3e8e" opacity="0.7"/>
<ellipse cx="364.1" cy="79.9" rx="3.49" ry="3.17" fill="#9a80c0" stroke="#644894" stroke-width="0.9" transform="rotate(139 364.1 79.9)"/>
<circle cx="365.2" cy="79.9" r="0.76" fill="#5e3e8e" opacity="0.7"/>
<circle cx="363.7" cy="80.3" r="0.63" fill="#5e3e8e" opacity="0.7"/>
<ellipse cx="357.3" cy="54.9" rx="2.82" ry="2.40" fill="#9a80c0" stroke="#644894" stroke-width="0.9" transform="rotate(71 357.3 54.9)"/>
<circle cx="358.0" cy="54.1" r="0.57" fill="#5e3e8e" opacity="0.7"/>
<circle cx="356.5" cy="56.0" r="0.70" fill="#5e3e8e" opacity="0.7"/>
<ellipse cx="299.3" cy="104.3" rx="3.13" ry="2.73" fill="#9478be" stroke="#644894" stroke-width="0.9" transform="rotate(32 299.3 104.3)"/>
<circle cx="299.0" cy="104.0" r="0.88" fill="#5e3e8e" opacity="0.7"/>
<circle cx="298.2" cy="105.0" r="0.84" fill="#5e3e8e" opacity="0.7"/>
<ellipse cx="316.5" cy="27.0" rx="2.65" ry="2.38" fill="#a088c6" stroke="#5c408c" stroke-width="0.9" transform="rotate(97 316.5 27.0)"/>
<circle cx="315.7" cy="27.0" r="0.75" fill="#5e3e8e" opacity="0.7"/>
<circle cx="317.4" cy="27.9" r="0.73" fill="#5e3e8e" opacity="0.7"/>
<ellipse cx="379.0" cy="90.7" rx="2.44" ry="2.39" fill="#9a80c0" stroke="#644894" stroke-width="0.9" transform="rotate(112 379.0 90.7)"/>
<circle cx="380.1" cy="89.8" r="0.61" fill="#5e3e8e" opacity="0.7"/>
<circle cx="380.0" cy="89.9" r="0.89" fill="#5e3e8e" opacity="0.7"/>
<ellipse cx="279.6" cy="51.1" rx="2.60" ry="2.44" fill="#9a80c0" stroke="#5c408c" stroke-width="0.9" transform="rotate(118 279.6 51.1)"/>
<circle cx="278.6" cy="50.8" r="0.62" fill="#5e3e8e" opacity="0.7"/>
<circle cx="279.8" cy="50.1" r="0.64" fill="#5e3e8e" opacity="0.7"/>
<circle cx="409.3" cy="62.3" r="1.71" fill="#5e3a8c"/>
<ellipse cx="412.6" cy="83.3" rx="2.67" ry="2.66" fill="#8a6cb4" stroke="#6a4c9c" stroke-width="0.9" transform="rotate(133 412.6 83.3)"/>
<circle cx="412.8" cy="83.2" r="0.63" fill="#5e3e8e" opacity="0.7"/>
<circle cx="412.2" cy="83.8" r="0.79" fill="#5e3e8e" opacity="0.7"/>
<ellipse cx="390.0" cy="26.4" rx="3.07" ry="2.44" fill="#9478be" stroke="#6a4c9c" stroke-width="0.9" transform="rotate(105 390.0 26.4)"/>
<circle cx="390.8" cy="25.8" r="0.64" fill="#5e3e8e" opacity="0.7"/>
<circle cx="390.6" cy="26.6" r="0.67" fill="#5e3e8e" opacity="0.7"/>
<circle cx="375.2" cy="62.5" r="1.67" fill="#5e3a8c"/>
<ellipse cx="371.3" cy="101.8" rx="2.81" ry="2.33" fill="#7e60aa" stroke="#644894" stroke-width="0.9" transform="rotate(67 371.3 101.8)"/>
<circle cx="370.2" cy="102.5" r="0.86" fill="#5e3e8e" opacity="0.7"/>
<circle cx="371.2" cy="101.2" r="0.70" fill="#5e3e8e" opacity="0.7"/>
<circle cx="408.1" cy="54.0" r="1.65" fill="#5e3a8c"/>
<circle cx="300.9" cy="73.4" r="1.68" fill="#6a4494"/>
<ellipse cx="321.8" cy="69.2" rx="2.68" ry="2.45" fill="#7e60aa" stroke="#6a4c9c" stroke-width="0.9" transform="rotate(55 321.8 69.2)"/>
<circle cx="322.1" cy="69.5" r="0.86" fill="#5e3e8e" opacity="0.7"/>
<circle cx="321.7" cy="69.1" r="0.77" fill="#5e3e8e" opacity="0.7"/>
<circle cx="340.3" cy="21.8" r="1.64" fill="#6a4494"/>
<ellipse cx="351.0" cy="78.5" rx="3.12" ry="2.70" fill="#8a6cb4" stroke="#5c408c" stroke-width="0.9" transform="rotate(76 351.0 78.5)"/>
<circle cx="351.0" cy="79.3" r="0.71" fill="#5e3e8e" opacity="0.7"/>
<circle cx="350.4" cy="78.8" r="0.63" fill="#5e3e8e" opacity="0.7"/>
<circle cx="353.4" cy="38.4" r="1.52" fill="#6a4494"/>
<circle cx="397.5" cy="38.5" r="1.90" fill="#6a4494"/>
<ellipse cx="293.4" cy="62.7" rx="3.15" ry="3.05" fill="#7e60aa" stroke="#6a4c9c" stroke-width="0.9" transform="rotate(2 293.4 62.7)"/>
<circle cx="293.4" cy="61.8" r="0.83" fill="#5e3e8e" opacity="0.7"/>
<circle cx="293.8" cy="62.1" r="0.74" fill="#5e3e8e" opacity="0.7"/>
<circle cx="305.6" cy="34.5" r="1.62" fill="#5e3a8c"/>
<circle cx="406.2" cy="39.4" r="1.73" fill="#6a4494"/>
<ellipse cx="382.1" cy="57.9" rx="2.95" ry="2.31" fill="#7e60aa" stroke="#644894" stroke-width="0.9" transform="rotate(169 382.1 57.9)"/>
<circle cx="382.2" cy="57.3" r="0.60" fill="#5e3e8e" opacity="0.7"/>
<circle cx="382.5" cy="58.6" r="0.68" fill="#5e3e8e" opacity="0.7"/>
<circle cx="333.8" cy="78.0" r="1.79" fill="#6a4494"/>
<ellipse cx="274.9" cy="117.9" rx="2.69" ry="2.45" fill="#9a80c0" stroke="#644894" stroke-width="0.9" transform="rotate(17 274.9 117.9)"/>
<circle cx="274.7" cy="118.7" r="0.61" fill="#5e3e8e" opacity="0.7"/>
<circle cx="275.8" cy="118.8" r="0.75" fill="#5e3e8e" opacity="0.7"/>
<ellipse cx="302.9" cy="25.6" rx="2.81" ry="2.78" fill="#7e60aa" stroke="#5c408c" stroke-width="0.9" transform="rotate(60 302.9 25.6)"/>
<circle cx="302.4" cy="26.4" r="0.59" fill="#5e3e8e" opacity="0.7"/>
<circle cx="303.2" cy="25.3" r="0.82" fill="#5e3e8e" opacity="0.7"/>
<circle cx="406.0" cy="118.6" r="1.62" fill="#553486"/>
<ellipse cx="346.5" cy="56.6" rx="2.84" ry="2.53" fill="#a088c6" stroke="#644894" stroke-width="0.9" transform="rotate(145 346.5 56.6)"/>
<circle cx="347.1" cy="56.0" r="0.78" fill="#5e3e8e" opacity="0.7"/>
<circle cx="345.6" cy="56.1" r="0.74" fill="#5e3e8e" opacity="0.7"/>
<ellipse cx="359.1" cy="97.7" rx="2.47" ry="2.45" fill="#9478be" stroke="#5c408c" stroke-width="0.9" transform="rotate(88 359.1 97.7)"/>
<circle cx="359.2" cy="98.8" r="0.71" fill="#5e3e8e" opacity="0.7"/>
<circle cx="359.2" cy="97.9" r="0.52" fill="#5e3e8e" opacity="0.7"/>
<ellipse cx="310.0" cy="103.1" rx="2.62" ry="2.56" fill="#9478be" stroke="#644894" stroke-width="0.9" transform="rotate(20 310.0 103.1)"/>
<circle cx="310.3" cy="103.6" r="0.70" fill="#5e3e8e" opacity="0.7"/>
<circle cx="310.5" cy="103.4" r="0.64" fill="#5e3e8e" opacity="0.7"/>
<ellipse cx="339.5" cy="43.8" rx="3.40" ry="2.59" fill="#9a80c0" stroke="#644894" stroke-width="0.9" transform="rotate(72 339.5 43.8)"/>
<circle cx="338.6" cy="43.8" r="0.58" fill="#5e3e8e" opacity="0.7"/>
<circle cx="340.3" cy="43.5" r="0.85" fill="#5e3e8e" opacity="0.7"/>
<ellipse cx="284.9" cy="82.0" rx="3.45" ry="2.76" fill="#7e60aa" stroke="#5c408c" stroke-width="0.9" transform="rotate(85 284.9 82.0)"/>
<circle cx="284.5" cy="81.9" r="0.79" fill="#5e3e8e" opacity="0.7"/>
<circle cx="284.9" cy="82.9" r="0.79" fill="#5e3e8e" opacity="0.7"/>
<circle cx="348.7" cy="87.1" r="1.60" fill="#553486"/>
<ellipse cx="413.2" cy="90.4" rx="3.29" ry="3.10" fill="#9478be" stroke="#644894" stroke-width="0.9" transform="rotate(45 413.2 90.4)"/>
<circle cx="412.2" cy="90.5" r="0.89" fill="#5e3e8e" opacity="0.7"/>
<circle cx="413.7" cy="90.2" r="0.74" fill="#5e3e8e" opacity="0.7"/>
<ellipse cx="383.9" cy="21.2" rx="2.53" ry="2.07" fill="#a088c6" stroke="#644894" stroke-width="0.9" transform="rotate(107 383.9 21.2)"/>
<circle cx="384.8" cy="22.2" r="0.84" fill="#5e3e8e" opacity="0.7"/>
<circle cx="383.5" cy="22.0" r="0.68" fill="#5e3e8e" opacity="0.7"/>
<ellipse cx="362.8" cy="41.8" rx="2.62" ry="2.37" fill="#a088c6" stroke="#6a4c9c" stroke-width="0.9" transform="rotate(67 362.8 41.8)"/>
<circle cx="363.4" cy="41.2" r="0.66" fill="#5e3e8e" opacity="0.7"/>
<circle cx="363.9" cy="42.9" r="0.86" fill="#5e3e8e" opacity="0.7"/>
<ellipse cx="416.9" cy="65.5" rx="3.46" ry="3.40" fill="#8a6cb4" stroke="#5c408c" stroke-width="0.9" transform="rotate(153 416.9 65.5)"/>
<circle cx="416.3" cy="64.5" r="0.68" fill="#5e3e8e" opacity="0.7"/>
<circle cx="417.5" cy="65.8" r="0.77" fill="#5e3e8e" opacity="0.7"/>
<circle cx="358.3" cy="36.5" r="1.52" fill="#6a4494"/>
<ellipse cx="395.2" cy="84.3" rx="3.09" ry="2.78" fill="#8a6cb4" stroke="#644894" stroke-width="0.9" transform="rotate(133 395.2 84.3)"/>
<circle cx="395.9" cy="83.2" r="0.51" fill="#5e3e8e" opacity="0.7"/>
<circle cx="395.5" cy="83.6" r="0.54" fill="#5e3e8e" opacity="0.7"/>
<ellipse cx="336.8" cy="62.0" rx="3.47" ry="2.90" fill="#9478be" stroke="#644894" stroke-width="0.9" transform="rotate(148 336.8 62.0)"/>
<circle cx="335.8" cy="62.8" r="0.51" fill="#5e3e8e" opacity="0.7"/>
<circle cx="335.8" cy="61.3" r="0.56" fill="#5e3e8e" opacity="0.7"/>
<ellipse cx="385.2" cy="103.5" rx="2.83" ry="2.39" fill="#7e60aa" stroke="#6a4c9c" stroke-width="0.9" transform="rotate(24 385.2 103.5)"/>
<circle cx="385.7" cy="104.2" r="0.71" fill="#5e3e8e" opacity="0.7"/>
<circle cx="385.6" cy="104.1" r="0.69" fill="#5e3e8e" opacity="0.7"/>
<ellipse cx="406.5" cy="100.4" rx="2.65" ry="2.61" fill="#a088c6" stroke="#644894" stroke-width="0.9" transform="rotate(166 406.5 100.4)"/>
<circle cx="406.1" cy="100.7" r="0.73" fill="#5e3e8e" opacity="0.7"/>
<circle cx="405.9" cy="100.7" r="0.62" fill="#5e3e8e" opacity="0.7"/>
<circle cx="280.0" cy="64.7" r="1.42" fill="#5e3a8c"/>
<ellipse cx="337.0" cy="95.6" rx="2.57" ry="1.97" fill="#7e60aa" stroke="#6a4c9c" stroke-width="0.9" transform="rotate(108 337.0 95.6)"/>
<circle cx="337.6" cy="96.3" r="0.75" fill="#5e3e8e" opacity="0.7"/>
<circle cx="336.7" cy="94.5" r="0.64" fill="#5e3e8e" opacity="0.7"/>
<ellipse cx="366.3" cy="70.3" rx="3.07" ry="2.91" fill="#8a6cb4" stroke="#644894" stroke-width="0.9" transform="rotate(106 366.3 70.3)"/>
<circle cx="366.0" cy="71.5" r="0.75" fill="#5e3e8e" opacity="0.7"/>
<circle cx="366.7" cy="70.8" r="0.81" fill="#5e3e8e" opacity="0.7"/>
<circle cx="404.6" cy="76.3" r="1.32" fill="#6a4494"/>
<circle cx="293.4" cy="105.2" r="1.45" fill="#6a4494"/>
<circle cx="406.5" cy="67.6" r="1.38" fill="#6a4494"/>
<ellipse cx="313.4" cy="97.6" rx="2.69" ry="2.50" fill="#7e60aa" stroke="#5c408c" stroke-width="0.9" transform="rotate(52 313.4 97.6)"/>
<circle cx="313.8" cy="97.8" r="0.79" fill="#5e3e8e" opacity="0.7"/>
<circle cx="313.2" cy="97.8" r="0.66" fill="#5e3e8e" opacity="0.7"/>
<ellipse cx="391.6" cy="78.2" rx="2.67" ry="2.51" fill="#a088c6" stroke="#6a4c9c" stroke-width="0.9" transform="rotate(125 391.6 78.2)"/>
<circle cx="391.1" cy="78.6" r="0.69" fill="#5e3e8e" opacity="0.7"/>
<circle cx="390.6" cy="78.9" r="0.55" fill="#5e3e8e" opacity="0.7"/>
<circle cx="338.0" cy="28.2" r="1.80" fill="#5e3a8c"/>
<circle cx="276.6" cy="61.5" r="1.45" fill="#5e3a8c"/>
<ellipse cx="274.4" cy="29.6" rx="2.55" ry="2.21" fill="#8a6cb4" stroke="#5c408c" stroke-width="0.9" transform="rotate(157 274.4 29.6)"/>
<circle cx="275.4" cy="29.7" r="0.70" fill="#5e3e8e" opacity="0.7"/>
<circle cx="275.1" cy="29.7" r="0.59" fill="#5e3e8e" opacity="0.7"/>
<ellipse cx="358.1" cy="117.1" rx="2.48" ry="2.05" fill="#8a6cb4" stroke="#5c408c" stroke-width="0.9" transform="rotate(67 358.1 117.1)"/>
<circle cx="357.2" cy="116.7" r="0.89" fill="#5e3e8e" opacity="0.7"/>
<circle cx="357.3" cy="117.3" r="0.53" fill="#5e3e8e" opacity="0.7"/>
<circle cx="309.4" cy="88.5" r="1.53" fill="#553486"/>
<circle cx="285.0" cy="55.0" r="1.69" fill="#553486"/>
<circle cx="393.7" cy="109.4" r="1.45" fill="#553486"/>
<ellipse cx="373.5" cy="33.2" rx="3.34" ry="2.63" fill="#7e60aa" stroke="#5c408c" stroke-width="0.9" transform="rotate(22 373.5 33.2)"/>
<circle cx="374.6" cy="34.1" r="0.75" fill="#5e3e8e" opacity="0.7"/>
<circle cx="373.8" cy="32.2" r="0.75" fill="#5e3e8e" opacity="0.7"/>
<ellipse cx="312.8" cy="70.8" rx="2.74" ry="2.26" fill="#7e60aa" stroke="#5c408c" stroke-width="0.9" transform="rotate(92 312.8 70.8)"/>
<circle cx="313.9" cy="70.6" r="0.83" fill="#5e3e8e" opacity="0.7"/>
<circle cx="312.8" cy="70.7" r="0.79" fill="#5e3e8e" opacity="0.7"/>
<ellipse cx="347.0" cy="46.1" rx="2.69" ry="2.04" fill="#9a80c0" stroke="#5c408c" stroke-width="0.9" transform="rotate(11 347.0 46.1)"/>
<circle cx="347.4" cy="45.4" r="0.67" fill="#5e3e8e" opacity="0.7"/>
<circle cx="348.0" cy="46.5" r="0.61" fill="#5e3e8e" opacity="0.7"/>
<circle cx="327.2" cy="64.9" r="1.63" fill="#6a4494"/>
<circle cx="288.8" cy="99.3" r="1.33" fill="#6a4494"/>
<circle cx="286.9" cy="61.9" r="1.54" fill="#6a4494"/>
<circle cx="343.4" cy="95.6" r="1.67" fill="#6a4494"/>
<circle cx="401.3" cy="58.5" r="1.53" fill="#6a4494"/>
<circle cx="403.1" cy="51.4" r="1.65" fill="#6a4494"/>
<ellipse cx="414.6" cy="20.7" rx="2.99" ry="2.71" fill="#7e60aa" stroke="#644894" stroke-width="0.9" transform="rotate(148 414.6 20.7)"/>
<circle cx="413.8" cy="21.6" r="0.78" fill="#5e3e8e" opacity="0.7"/>
<circle cx="415.7" cy="20.9" r="0.62" fill="#5e3e8e" opacity="0.7"/>
<circle cx="288.7" cy="20.6" r="1.33" fill="#5e3a8c"/>
<circle cx="288.7" cy="76.2" r="1.45" fill="#5e3a8c"/>
<ellipse cx="348.7" cy="71.0" rx="2.60" ry="2.28" fill="#7e60aa" stroke="#644894" stroke-width="0.9" transform="rotate(75 348.7 71.0)"/>
<circle cx="347.6" cy="71.5" r="0.50" fill="#5e3e8e" opacity="0.7"/>
<circle cx="348.6" cy="71.1" r="0.84" fill="#5e3e8e" opacity="0.7"/>
<circle cx="403.8" cy="62.9" r="1.78" fill="#5e3a8c"/>
<circle cx="281.7" cy="29.1" r="1.61" fill="#5e3a8c"/>
<circle cx="407.0" cy="45.0" r="1.62" fill="#6a4494"/>
<circle cx="312.9" cy="118.6" r="1.51" fill="#553486"/>
<circle cx="395.5" cy="58.0" r="1.44" fill="#5e3a8c"/>
<ellipse cx="322.5" cy="45.2" rx="2.50" ry="2.40" fill="#9a80c0" stroke="#6a4c9c" stroke-width="0.9" transform="rotate(56 322.5 45.2)"/>
<circle cx="321.4" cy="44.5" r="0.78" fill="#5e3e8e" opacity="0.7"/>
<circle cx="322.7" cy="46.2" r="0.64" fill="#5e3e8e" opacity="0.7"/>
<circle cx="405.2" cy="72.0" r="1.40" fill="#6a4494"/>
<circle cx="333.4" cy="37.4" r="1.32" fill="#6a4494"/>
<circle cx="275.7" cy="110.1" r="1.54" fill="#553486"/>
<ellipse cx="353.1" cy="102.6" rx="2.48" ry="2.37" fill="#9a80c0" stroke="#644894" stroke-width="0.9" transform="rotate(116 353.1 102.6)"/>
<circle cx="353.3" cy="101.7" r="0.51" fill="#5e3e8e" opacity="0.7"/>
<circle cx="352.6" cy="102.9" r="0.76" fill="#5e3e8e" opacity="0.7"/>
<circle cx="304.0" cy="60.8" r="1.66" fill="#553486"/>
<circle cx="300.6" cy="118.4" r="1.49" fill="#5e3a8c"/>
<ellipse cx="385.2" cy="69.6" rx="3.00" ry="2.25" fill="#9478be" stroke="#644894" stroke-width="0.9" transform="rotate(88 385.2 69.6)"/>
<circle cx="384.8" cy="68.9" r="0.52" fill="#5e3e8e" opacity="0.7"/>
<circle cx="384.4" cy="68.9" r="0.76" fill="#5e3e8e" opacity="0.7"/>
<circle cx="346.9" cy="65.0" r="1.50" fill="#553486"/>
<circle cx="371.3" cy="20.6" r="1.74" fill="#553486"/>
<circle cx="342.0" cy="112.4" r="1.84" fill="#553486"/>
<ellipse cx="308.1" cy="40.1" rx="3.05" ry="2.40" fill="#9a80c0" stroke="#5c408c" stroke-width="0.9" transform="rotate(163 308.1 40.1)"/>
<circle cx="307.3" cy="39.4" r="0.67" fill="#5e3e8e" opacity="0.7"/>
<circle cx="307.1" cy="40.5" r="0.56" fill="#5e3e8e" opacity="0.7"/>
<circle cx="335.6" cy="21.6" r="1.37" fill="#5e3a8c"/>
<circle cx="292.3" cy="30.2" r="1.85" fill="#553486"/>
<circle cx="357.6" cy="91.8" r="1.36" fill="#6a4494"/>
<ellipse cx="370.7" cy="75.9" rx="2.64" ry="2.04" fill="#7e60aa" stroke="#5c408c" stroke-width="0.9" transform="rotate(38 370.7 75.9)"/>
<circle cx="371.2" cy="76.2" r="0.58" fill="#5e3e8e" opacity="0.7"/>
<circle cx="369.5" cy="74.8" r="0.61" fill="#5e3e8e" opacity="0.7"/>
<circle cx="392.2" cy="20.9" r="1.59" fill="#5e3a8c"/>
<circle cx="410.0" cy="108.6" r="1.52" fill="#5e3a8c"/>
<circle cx="339.9" cy="106.5" r="1.65" fill="#553486"/>
<circle cx="279.0" cy="98.2" r="1.38" fill="#6a4494"/>
<circle cx="292.0" cy="118.0" r="1.60" fill="#6a4494"/>
<circle cx="350.1" cy="20.8" r="1.54" fill="#5e3a8c"/>
<circle cx="307.3" cy="108.4" r="1.37" fill="#553486"/>
<ellipse cx="322.0" cy="90.0" rx="2.40" ry="2.07" fill="#9478be" stroke="#644894" stroke-width="0.9" transform="rotate(27 322.0 90.0)"/>
<circle cx="322.5" cy="90.2" r="0.56" fill="#5e3e8e" opacity="0.7"/>
<circle cx="321.2" cy="91.0" r="0.53" fill="#5e3e8e" opacity="0.7"/>
<circle cx="362.8" cy="24.8" r="1.40" fill="#553486"/>
<ellipse cx="385.3" cy="36.7" rx="2.80" ry="2.13" fill="#a088c6" stroke="#6a4c9c" stroke-width="0.9" transform="rotate(20 385.3 36.7)"/>
<circle cx="386.1" cy="35.7" r="0.65" fill="#5e3e8e" opacity="0.7"/>
<circle cx="386.4" cy="35.8" r="0.84" fill="#5e3e8e" opacity="0.7"/>
<ellipse cx="325.9" cy="76.7" rx="2.77" ry="2.71" fill="#9a80c0" stroke="#6a4c9c" stroke-width="0.9" transform="rotate(27 325.9 76.7)"/>
<circle cx="326.7" cy="75.6" r="0.85" fill="#5e3e8e" opacity="0.7"/>
<circle cx="326.1" cy="77.7" r="0.73" fill="#5e3e8e" opacity="0.7"/>
<circle cx="317.6" cy="36.3" r="1.35" fill="#5e3a8c"/>
<circle cx="342.9" cy="61.1" r="1.43" fill="#6a4494"/>
<ellipse cx="407.5" cy="21.7" rx="2.44" ry="2.44" fill="#8a6cb4" stroke="#644894" stroke-width="0.9" transform="rotate(132 407.5 21.7)"/>
<circle cx="408.5" cy="22.1" r="0.61" fill="#5e3e8e" opacity="0.7"/>
<circle cx="408.6" cy="20.6" r="0.88" fill="#5e3e8e" opacity="0.7"/>
<circle cx="326.4" cy="54.1" r="1.34" fill="#6a4494"/>
<circle cx="403.1" cy="27.1" r="1.33" fill="#6a4494"/>
<ellipse cx="330.0" cy="91.2" rx="2.52" ry="2.03" fill="#a088c6" stroke="#6a4c9c" stroke-width="0.9" transform="rotate(165 330.0 91.2)"/>
<circle cx="330.1" cy="91.1" r="0.64" fill="#5e3e8e" opacity="0.7"/>
<circle cx="330.6" cy="92.0" r="0.79" fill="#5e3e8e" opacity="0.7"/>
<circle cx="319.9" cy="97.6" r="1.55" fill="#5e3a8c"/>
<circle cx="328.7" cy="49.4" r="1.72" fill="#5e3a8c"/>
<circle cx="397.7" cy="103.5" r="1.61" fill="#5e3a8c"/>
</g>
</g>
<g clip-path="url(#cB)">
<rect x="277.00" y="23.50" width="137.00" height="92.50" fill="#ccc" filter="url(#fBn)"/>
</g>
<line x1="305.00" y1="62.00" x2="315.70" y2="54.20" stroke="#111" stroke-width="0.9"/>
<line x1="315.70" y1="54.20" x2="312.75" y2="54.74" stroke="#111" stroke-width="0.9"/>
<line x1="315.70" y1="54.20" x2="314.29" y2="56.85" stroke="#111" stroke-width="0.9"/>
<line x1="379.00" y1="53.50" x2="369.50" y2="57.50" stroke="#111" stroke-width="0.9"/>
<line x1="369.50" y1="57.50" x2="372.50" y2="57.65" stroke="#111" stroke-width="0.9"/>
<line x1="369.50" y1="57.50" x2="371.48" y2="55.25" stroke="#111" stroke-width="0.9"/>
<line x1="391.00" y1="108.00" x2="408.00" y2="108.00" stroke="#333" stroke-width="1"/>
<text transform="translate(7.00 141.00)" font-size="10.5" fill="#111" font-weight="bold">C</text>
<text transform="translate(105.50 142.30) scale(1.0218 1)" font-size="6.2" fill="#333" text-anchor="middle" stroke="#333" stroke-width="0.2">Individuals – PCA</text>
<rect x="50.5" y="144.5" width="110.3" height="91.3" fill="none" stroke="#3a3a3a" stroke-width="1.1"/>
<line x1="50.50" y1="176.75" x2="160.80" y2="176.75" stroke="#555" stroke-width="0.8" stroke-dasharray="2.2,1.6"/>
<line x1="122.30" y1="144.50" x2="122.30" y2="235.80" stroke="#555" stroke-width="0.8" stroke-dasharray="2.2,1.6"/>
<line x1="47.50" y1="156.75" x2="50.50" y2="156.75" stroke="#3a3a3a" stroke-width="0.8"/>
<text transform="translate(45.50 158.95)" font-size="6.2" fill="#333" text-anchor="end" stroke="#333" stroke-width="0.2">50</text>
<line x1="47.50" y1="176.75" x2="50.50" y2="176.75" stroke="#3a3a3a" stroke-width="0.8"/>
<text transform="translate(45.50 178.95)" font-size="6.2" fill="#333" text-anchor="end" stroke="#333" stroke-width="0.2">0</text>
<line x1="47.50" y1="196.75" x2="50.50" y2="196.75" stroke="#3a3a3a" stroke-width="0.8"/>
<text transform="translate(45.50 198.95)" font-size="6.2" fill="#333" text-anchor="end" stroke="#333" stroke-width="0.2">−50</text>
<line x1="47.50" y1="216.75" x2="50.50" y2="216.75" stroke="#3a3a3a" stroke-width="0.8"/>
<text transform="translate(45.50 218.95)" font-size="6.2" fill="#333" text-anchor="end" stroke="#333" stroke-width="0.2">−100</text>
<line x1="62.70" y1="235.80" x2="62.70" y2="238.80" stroke="#3a3a3a" stroke-width="0.8"/>
<text transform="translate(62.70 248.20)" font-size="6.2" fill="#333" text-anchor="middle" stroke="#333" stroke-width="0.2">−200</text>
<line x1="92.50" y1="235.80" x2="92.50" y2="238.80" stroke="#3a3a3a" stroke-width="0.8"/>
<text transform="translate(92.50 248.20)" font-size="6.2" fill="#333" text-anchor="middle" stroke="#333" stroke-width="0.2">−100</text>
<line x1="122.30" y1="235.80" x2="122.30" y2="238.80" stroke="#3a3a3a" stroke-width="0.8"/>
<text transform="translate(122.30 248.20)" font-size="6.2" fill="#333" text-anchor="middle" stroke="#333" stroke-width="0.2">0</text>
<line x1="152.10" y1="235.80" x2="152.10" y2="238.80" stroke="#3a3a3a" stroke-width="0.8"/>
<text transform="translate(152.10 248.20)" font-size="6.2" fill="#333" text-anchor="middle" stroke="#333" stroke-width="0.2">100</text>
<text transform="translate(107.50 260.00) scale(0.9582 1)" font-size="7.0" fill="#333" text-anchor="middle" stroke="#333" stroke-width="0.2">Dim1 (12.5%)</text>
<text transform="translate(26.30 184.00) rotate(-90) scale(0.9641 1)" font-size="7.0" fill="#333" text-anchor="middle" stroke="#333" stroke-width="0.2">Dim2 (5.9%)</text>
<circle cx="121.70" cy="148.30" r="1.70" fill="#1d4f80"/>
<circle cx="92.20" cy="156.50" r="1.70" fill="#1d4f80"/>
<circle cx="112.50" cy="153.70" r="1.70" fill="#1d4f80"/>
<circle cx="126.50" cy="154.80" r="1.70" fill="#1d4f80"/>
<circle cx="93.50" cy="160.20" r="1.70" fill="#1d4f80"/>
<circle cx="99.10" cy="161.70" r="1.70" fill="#1d4f80"/>
<circle cx="98.50" cy="164.50" r="1.70" fill="#1d4f80"/>
<circle cx="114.60" cy="159.10" r="1.70" fill="#1d4f80"/>
<circle cx="118.50" cy="157.40" r="1.70" fill="#1d4f80"/>
<circle cx="116.80" cy="160.80" r="1.70" fill="#1d4f80"/>
<circle cx="120.00" cy="159.50" r="1.70" fill="#1d4f80"/>
<circle cx="125.00" cy="159.50" r="1.70" fill="#1d4f80"/>
<circle cx="128.00" cy="158.60" r="1.70" fill="#1d4f80"/>
<circle cx="121.10" cy="163.00" r="1.70" fill="#1d4f80"/>
<circle cx="114.60" cy="164.50" r="1.70" fill="#1d4f80"/>
<circle cx="98.50" cy="168.10" r="1.70" fill="#1d4f80"/>
<circle cx="100.00" cy="170.90" r="1.70" fill="#1d4f80"/>
<circle cx="101.30" cy="172.00" r="1.70" fill="#1d4f80"/>
<circle cx="109.90" cy="170.90" r="1.70" fill="#1d4f80"/>
<circle cx="116.30" cy="169.40" r="1.70" fill="#1d4f80"/>
<circle cx="130.80" cy="165.10" r="1.70" fill="#1d4f80"/>
<circle cx="129.70" cy="167.30" r="1.70" fill="#1d4f80"/>
<circle cx="137.20" cy="172.40" r="1.70" fill="#1d4f80"/>
<circle cx="86.60" cy="174.60" r="1.70" fill="#1d4f80"/>
<circle cx="119.40" cy="174.20" r="1.70" fill="#1d4f80"/>
<circle cx="121.50" cy="175.20" r="1.70" fill="#1d4f80"/>
<circle cx="124.30" cy="174.60" r="1.70" fill="#1d4f80"/>
<circle cx="106.00" cy="179.10" r="1.70" fill="#1d4f80"/>
<circle cx="63.40" cy="206.50" r="1.70" fill="#1d4f80"/>
<circle cx="118.00" cy="155.50" r="1.70" fill="#1d4f80"/>
<circle cx="123.00" cy="161.50" r="1.70" fill="#1d4f80"/>
<circle cx="117.00" cy="166.00" r="1.70" fill="#1d4f80"/>
<rect x="128.10" y="172.60" width="3.20" height="3.20" fill="#f0a030"/>
<rect x="151.80" y="165.00" width="3.20" height="3.20" fill="#f0a030"/>
<rect x="120.60" y="184.40" width="3.20" height="3.20" fill="#f0a030"/>
<rect x="122.70" y="184.40" width="3.20" height="3.20" fill="#f0a030"/>
<rect x="124.90" y="184.40" width="3.20" height="3.20" fill="#f0a030"/>
<rect x="142.10" y="182.20" width="3.20" height="3.20" fill="#f0a030"/>
<rect x="146.40" y="181.20" width="3.20" height="3.20" fill="#f0a030"/>
<rect x="148.60" y="180.10" width="3.20" height="3.20" fill="#f0a030"/>
<rect x="152.90" y="187.60" width="3.20" height="3.20" fill="#f0a030"/>
<rect x="141.00" y="189.40" width="3.20" height="3.20" fill="#f0a030"/>
<rect x="110.90" y="191.50" width="3.20" height="3.20" fill="#f0a030"/>
<rect x="115.20" y="193.70" width="3.20" height="3.20" fill="#f0a030"/>
<rect x="117.30" y="192.40" width="3.20" height="3.20" fill="#f0a030"/>
<rect x="119.50" y="194.10" width="3.20" height="3.20" fill="#f0a030"/>
<rect x="121.60" y="195.20" width="3.20" height="3.20" fill="#f0a030"/>
<rect x="149.60" y="200.60" width="3.20" height="3.20" fill="#f0a030"/>
<rect x="151.80" y="200.10" width="3.20" height="3.20" fill="#f0a030"/>
<rect x="153.90" y="199.50" width="3.20" height="3.20" fill="#f0a030"/>
<rect x="133.50" y="212.40" width="3.20" height="3.20" fill="#f0a030"/>
<rect x="136.30" y="226.80" width="3.20" height="3.20" fill="#f0a030"/>
<rect x="53.80" y="229.60" width="3.20" height="3.20" fill="#f0a030"/>
<line x1="135.40" y1="167.70" x2="139.00" y2="167.70" stroke="#888" stroke-width="0.6"/>
<line x1="137.20" y1="165.90" x2="137.20" y2="169.50" stroke="#888" stroke-width="0.6"/>
<line x1="146.20" y1="167.30" x2="149.80" y2="167.30" stroke="#888" stroke-width="0.6"/>
<line x1="148.00" y1="165.50" x2="148.00" y2="169.10" stroke="#888" stroke-width="0.6"/>
<line x1="104.60" y1="196.80" x2="108.20" y2="196.80" stroke="#888" stroke-width="0.6"/>
<line x1="106.40" y1="195.00" x2="106.40" y2="198.60" stroke="#888" stroke-width="0.6"/>
<line x1="114.50" y1="194.60" x2="118.10" y2="194.60" stroke="#888" stroke-width="0.6"/>
<line x1="116.30" y1="192.80" x2="116.30" y2="196.40" stroke="#888" stroke-width="0.6"/>
<line x1="135.70" y1="152.20" x2="138.70" y2="155.20" stroke="#555" stroke-width="0.6"/>
<line x1="135.70" y1="155.20" x2="138.70" y2="152.20" stroke="#555" stroke-width="0.6"/>
<line x1="129.90" y1="192.70" x2="132.90" y2="195.70" stroke="#555" stroke-width="0.6"/>
<line x1="129.90" y1="195.70" x2="132.90" y2="192.70" stroke="#555" stroke-width="0.6"/>
<rect x="166.80" y="171.50" width="6.30" height="5.80" fill="#f0a030"/>
<text transform="translate(176.30 176.90) scale(0.9947 1)" font-size="6.4" fill="#333" stroke="#333" stroke-width="0.2">Non–responsive</text>
<circle cx="170.20" cy="185.00" r="2.90" fill="#1d4f80"/>
<text transform="translate(176.30 187.40) scale(1.0168 1)" font-size="6.4" fill="#333" stroke="#333" stroke-width="0.2">Responsive</text>
<line x1="165.60" y1="195.70" x2="174.20" y2="195.70" stroke="#555" stroke-width="0.7"/>
<line x1="170.20" y1="192.20" x2="170.20" y2="199.70" stroke="#555" stroke-width="0.7"/>
<text transform="translate(176.30 198.20) scale(1.0284 1)" font-size="6.4" fill="#333" stroke="#333" stroke-width="0.2">Nondetermined</text>
<line x1="166.70" y1="203.20" x2="173.60" y2="210.10" stroke="#555" stroke-width="0.7"/>
<line x1="166.70" y1="210.10" x2="173.60" y2="203.20" stroke="#555" stroke-width="0.7"/>
<text transform="translate(176.30 208.20) scale(1.0736 1)" font-size="6.4" fill="#333" stroke="#333" stroke-width="0.2">Margin</text>
<text transform="translate(237.80 140.90)" font-size="10.5" fill="#111" font-weight="bold">D</text>
<rect x="253.50" y="145.30" width="4.00" height="4.00" fill="#fbd9ae"/>
<line x1="253.50" y1="147.30" x2="257.50" y2="147.30" stroke="#f0a030" stroke-width="0.9"/>
<text transform="translate(260.50 149.60) scale(1.0049 1)" font-size="6.3" fill="#333" stroke="#333" stroke-width="0.2">Non–responsive (n = 20)</text>
<rect x="337.30" y="145.30" width="4.00" height="4.00" fill="#a9c3dc"/>
<line x1="337.30" y1="147.30" x2="341.30" y2="147.30" stroke="#1d4f80" stroke-width="0.9"/>
<text transform="translate(343.80 149.60) scale(0.9955 1)" font-size="6.3" fill="#333" stroke="#333" stroke-width="0.2">Responsive (n = 34)</text>
<path d="M289.00,159.10 H298.00 V159.10 H312.40 V161.29 H325.90 V162.75 H333.10 V169.32 H370.90 V169.32 V195.60 H370.90 V195.60 H334.00 V189.76 H325.00 V182.46 H316.00 V175.89 H307.00 V172.24 H302.50 V166.40 H296.20 V159.10 H289.00 Z" fill="#b9cfe3"/>
<path d="M289.00,159.10 H292.15 V186.11 H299.80 V188.30 H305.20 V191.95 H307.00 V194.87 H343.00 V194.87 H347.50 V194.87 V229.91 H347.50 V229.91 H343.00 V223.34 H305.20 V221.15 H298.00 V217.50 H294.40 V210.20 H291.70 V191.95 H290.35 V159.10 H289.00 Z" fill="#fad3a6" opacity="0.9"/>
<rect x="334.00" y="188.30" width="13.50" height="7.30" fill="#b7ae93"/>
<path d="M289.00,159.10 H296.65 V161.29 H299.80 V163.48 H303.40 V165.67 H307.00 V167.86 H311.50 V170.05 H316.00 V172.24 H320.50 V174.43 H323.20 V176.62 H326.80 V179.54 H330.40 V181.73 H334.00 V185.38 H370.90 V185.38" fill="none" stroke="#1d4f80" stroke-width="1"/>
<path d="M289.00,159.10 H289.90 V166.40 H290.35 V173.70 H290.80 V181.00 H291.25 V188.30 H291.70 V195.60 H292.60 V202.90 H296.20 V206.55 H299.80 V210.20 H307.00 V213.85 H343.00 V222.97 H347.50 V222.97" fill="none" stroke="#f0a030" stroke-width="1"/>
<line x1="293.05" y1="195.60" x2="293.05" y2="232.10" stroke="#777" stroke-width="0.6" stroke-dasharray="0.8,1"/>
<line x1="289.00" y1="195.60" x2="293.05" y2="195.60" stroke="#777" stroke-width="0.6" stroke-dasharray="0.8,1"/>
<text transform="translate(288.50 220.40) scale(0.9773 1)" font-size="6.2" fill="#333" stroke="#333" stroke-width="0.2">P &lt; .0001</text>
<line x1="284.70" y1="155.80" x2="284.70" y2="236.20" stroke="#222" stroke-width="1"/>
<line x1="284.70" y1="236.20" x2="382.50" y2="236.20" stroke="#222" stroke-width="1"/>
<line x1="282.20" y1="159.10" x2="284.70" y2="159.10" stroke="#222" stroke-width="0.8"/>
<text transform="translate(279.80 161.30) scale(1.1080 1)" font-size="6.4" fill="#333" text-anchor="end" stroke="#333" stroke-width="0.2">1.00</text>
<line x1="282.20" y1="177.35" x2="284.70" y2="177.35" stroke="#222" stroke-width="0.8"/>
<text transform="translate(279.80 179.55) scale(1.1080 1)" font-size="6.4" fill="#333" text-anchor="end" stroke="#333" stroke-width="0.2">0.75</text>
<line x1="282.20" y1="195.60" x2="284.70" y2="195.60" stroke="#222" stroke-width="0.8"/>
<text transform="translate(279.80 197.80) scale(1.1080 1)" font-size="6.4" fill="#333" text-anchor="end" stroke="#333" stroke-width="0.2">0.50</text>
<line x1="282.20" y1="213.85" x2="284.70" y2="213.85" stroke="#222" stroke-width="0.8"/>
<text transform="translate(279.80 216.05) scale(1.1080 1)" font-size="6.4" fill="#333" text-anchor="end" stroke="#333" stroke-width="0.2">0.25</text>
<line x1="282.20" y1="232.10" x2="284.70" y2="232.10" stroke="#222" stroke-width="0.8"/>
<text transform="translate(279.80 234.30) scale(1.1080 1)" font-size="6.4" fill="#333" text-anchor="end" stroke="#333" stroke-width="0.2">0.00</text>
<line x1="289.00" y1="236.20" x2="289.00" y2="238.70" stroke="#222" stroke-width="0.8"/>
<text transform="translate(289.00 247.90)" font-size="6.4" fill="#333" text-anchor="middle" stroke="#333" stroke-width="0.2">0</text>
<line x1="311.50" y1="236.20" x2="311.50" y2="238.70" stroke="#222" stroke-width="0.8"/>
<text transform="translate(311.50 247.90)" font-size="6.4" fill="#333" text-anchor="middle" stroke="#333" stroke-width="0.2">2.5</text>
<line x1="334.00" y1="236.20" x2="334.00" y2="238.70" stroke="#222" stroke-width="0.8"/>
<text transform="translate(334.00 247.90)" font-size="6.4" fill="#333" text-anchor="middle" stroke="#333" stroke-width="0.2">5</text>
<line x1="356.50" y1="236.20" x2="356.50" y2="238.70" stroke="#222" stroke-width="0.8"/>
<text transform="translate(356.50 247.90)" font-size="6.4" fill="#333" text-anchor="middle" stroke="#333" stroke-width="0.2">7.5</text>
<line x1="379.00" y1="236.20" x2="379.00" y2="238.70" stroke="#222" stroke-width="0.8"/>
<text transform="translate(379.00 247.90)" font-size="6.4" fill="#333" text-anchor="middle" stroke="#333" stroke-width="0.2">10</text>
<text transform="translate(333.70 260.30) scale(0.8002 1)" font-size="8.0" fill="#333" text-anchor="middle" stroke="#333" stroke-width="0.2">Survival year</text>
<text transform="translate(260.80 192.00) rotate(-90) scale(0.8639 1)" font-size="8.0" fill="#333" text-anchor="middle" stroke="#333" stroke-width="0.2">Survival probability</text>
<text transform="translate(7.60 287.20)" font-size="10.5" fill="#111" font-weight="bold">E</text>
<text transform="translate(159.70 345.80) rotate(-90) scale(1.0249 1)" font-size="6.2" fill="#333" stroke="#333" stroke-width="0.2">Non-responsive</text>
<text transform="translate(168.20 345.80) rotate(-90) scale(0.9773 1)" font-size="6.2" fill="#333" stroke="#333" stroke-width="0.2">vs Responsive</text>
<text transform="translate(176.40 345.80) rotate(-90) scale(1.0094 1)" font-size="6.2" fill="#333" stroke="#333" stroke-width="0.2">(MCL Patients)</text>
<line x1="165.00" y1="349.50" x2="165.00" y2="352.50" stroke="#333" stroke-width="0.7"/>
<line x1="158.20" y1="353.00" x2="158.20" y2="494.00" stroke="#333" stroke-width="0.9"/>
<rect x="172.40" y="353.68" width="98.60" height="6.64" fill="#dcdcdc"/>
<rect x="172.40" y="366.97" width="98.60" height="6.64" fill="#dcdcdc"/>
<rect x="172.40" y="380.26" width="98.60" height="6.64" fill="#dcdcdc"/>
<rect x="172.40" y="393.55" width="98.60" height="6.64" fill="#dcdcdc"/>
<rect x="172.40" y="406.84" width="98.60" height="6.64" fill="#dcdcdc"/>
<rect x="172.40" y="420.13" width="98.60" height="6.64" fill="#dcdcdc"/>
<rect x="172.40" y="433.42" width="98.60" height="6.64" fill="#dcdcdc"/>
<rect x="172.40" y="446.71" width="98.60" height="6.64" fill="#dcdcdc"/>
<rect x="172.40" y="460.00" width="98.60" height="6.64" fill="#dcdcdc"/>
<rect x="172.40" y="473.29" width="98.60" height="6.64" fill="#dcdcdc"/>
<rect x="172.40" y="486.58" width="98.60" height="6.64" fill="#dcdcdc"/>
<line x1="222.30" y1="353.50" x2="222.30" y2="493.50" stroke="#888" stroke-width="0.6" stroke-dasharray="1,1"/>
<text transform="translate(152.60 359.35) scale(0.9118 1)" font-size="6.6" fill="#2b2b2b" text-anchor="end">MYC<tspan dy="-0.9">_</tspan><tspan dy="0.9">​</tspan>TARGETS<tspan dy="-0.9">_</tspan><tspan dy="0.9">​</tspan>V1</text>
<line x1="155.50" y1="357.00" x2="158.20" y2="357.00" stroke="#333" stroke-width="0.7"/>
<circle cx="165.10" cy="357.00" r="2.60" fill="#b3191f" stroke="#3a3030" stroke-width="0.65"/>
<line x1="170.20" y1="357.00" x2="172.40" y2="357.00" stroke="#333" stroke-width="0.7"/>
<line x1="225.50" y1="357.00" x2="239.70" y2="357.00" stroke="#555" stroke-width="0.85"/>
<rect x="231.10" y="355.50" width="3.00" height="3.00" fill="#000"/>
<text transform="translate(184.00 356.30)" font-size="2.7" fill="#666" text-anchor="middle">3.5</text>
<text transform="translate(183.50 359.30) scale(0.9533 1)" font-size="2.6" fill="#666" text-anchor="middle">(1.00 - 2.00)</text>
<text transform="translate(256.50 358.10)" font-size="3.2" fill="#d8506a">0.001 **</text>
<circle cx="277.60" cy="357.00" r="2.60" fill="#dc7416" stroke="#3a3030" stroke-width="0.6"/>
<circle cx="289.50" cy="357.00" r="2.60" fill="#e6b426" stroke="#3a3030" stroke-width="0.6"/>
<circle cx="301.30" cy="357.00" r="2.60" fill="#7fb4cf" stroke="#3a3030" stroke-width="0.6"/>
<text transform="translate(152.60 366.00) scale(0.9532 1)" font-size="6.6" fill="#5fae5f" text-anchor="end">METABOLISM<tspan dy="-0.9">_</tspan><tspan dy="0.9">​</tspan>OF<tspan dy="-0.9">_</tspan><tspan dy="0.9">​</tspan>RNA</text>
<line x1="155.50" y1="363.64" x2="158.20" y2="363.64" stroke="#333" stroke-width="0.7"/>
<circle cx="165.10" cy="363.64" r="2.60" fill="#bf2a1c" stroke="#3a3030" stroke-width="0.65"/>
<line x1="170.20" y1="363.64" x2="172.40" y2="363.64" stroke="#333" stroke-width="0.7"/>
<line x1="224.00" y1="363.64" x2="239.70" y2="363.64" stroke="#555" stroke-width="0.85"/>
<rect x="230.10" y="362.14" width="3.00" height="3.00" fill="#000"/>
<text transform="translate(184.00 362.94)" font-size="2.7" fill="#666" text-anchor="middle">3.1</text>
<text transform="translate(183.50 365.94) scale(0.9533 1)" font-size="2.6" fill="#666" text-anchor="middle">(1.03 - 2.07)</text>
<text transform="translate(256.50 364.75)" font-size="3.2" fill="#d8506a">0.001 **</text>
<circle cx="277.60" cy="363.64" r="2.60" fill="#de7c18" stroke="#3a3030" stroke-width="0.6"/>
<circle cx="289.50" cy="363.64" r="2.60" fill="#e6b426" stroke="#3a3030" stroke-width="0.6"/>
<circle cx="301.30" cy="363.64" r="2.60" fill="#7fb4cf" stroke="#3a3030" stroke-width="0.6"/>
<text transform="translate(152.60 372.64) scale(0.9493 1)" font-size="6.6" fill="#c9304f" text-anchor="end">TRANSLATION</text>
<line x1="155.50" y1="370.29" x2="158.20" y2="370.29" stroke="#333" stroke-width="0.7"/>
<circle cx="165.10" cy="370.29" r="2.60" fill="#c4381a" stroke="#3a3030" stroke-width="0.65"/>
<line x1="170.20" y1="370.29" x2="172.40" y2="370.29" stroke="#333" stroke-width="0.7"/>
<line x1="223.00" y1="370.29" x2="240.70" y2="370.29" stroke="#555" stroke-width="0.85"/>
<rect x="230.10" y="368.79" width="3.00" height="3.00" fill="#000"/>
<text transform="translate(184.00 369.59)" font-size="2.7" fill="#666" text-anchor="middle">3.1</text>
<text transform="translate(183.50 372.59) scale(0.9533 1)" font-size="2.6" fill="#666" text-anchor="middle">(1.06 - 2.14)</text>
<text transform="translate(256.50 371.39)" font-size="3.2" fill="#d8506a">0.004 *</text>
<circle cx="277.60" cy="370.29" r="2.60" fill="#e08a1c" stroke="#3a3030" stroke-width="0.6"/>
<circle cx="289.50" cy="370.29" r="2.60" fill="#e3a425" stroke="#3a3030" stroke-width="0.6"/>
<circle cx="301.30" cy="370.29" r="2.60" fill="#7fb4cf" stroke="#3a3030" stroke-width="0.6"/>
<text transform="translate(152.60 379.29) scale(0.9114 1)" font-size="6.6" fill="#2b2b2b" text-anchor="end">RRNA<tspan dy="-0.9">_</tspan><tspan dy="0.9">​</tspan>PROCESSING</text>
<line x1="155.50" y1="376.94" x2="158.20" y2="376.94" stroke="#333" stroke-width="0.7"/>
<circle cx="165.10" cy="376.94" r="2.60" fill="#c84416" stroke="#3a3030" stroke-width="0.65"/>
<line x1="170.20" y1="376.94" x2="172.40" y2="376.94" stroke="#333" stroke-width="0.7"/>
<line x1="223.00" y1="376.94" x2="236.50" y2="376.94" stroke="#555" stroke-width="0.85"/>
<rect x="229.50" y="375.44" width="3.00" height="3.00" fill="#000"/>
<text transform="translate(184.00 376.24)" font-size="2.7" fill="#666" text-anchor="middle">2.9</text>
<text transform="translate(183.50 379.24) scale(0.9533 1)" font-size="2.6" fill="#666" text-anchor="middle">(1.09 - 2.21)</text>
<text transform="translate(256.50 378.04)" font-size="3.2" fill="#d8506a">0.016 *</text>
<circle cx="277.60" cy="376.94" r="2.60" fill="#dc7416" stroke="#3a3030" stroke-width="0.6"/>
<circle cx="289.50" cy="376.94" r="2.60" fill="#e1801c" stroke="#3a3030" stroke-width="0.6"/>
<circle cx="301.30" cy="376.94" r="2.60" fill="#3f8fb4" stroke="#3a3030" stroke-width="0.6"/>
<text transform="translate(152.60 385.93) scale(0.9240 1)" font-size="6.6" fill="#3b6ea5" text-anchor="end">EMBRYONIC<tspan dy="-0.9">_</tspan><tspan dy="0.9">​</tspan>STEM<tspan dy="-0.9">_</tspan><tspan dy="0.9">​</tspan>CELL</text>
<line x1="155.50" y1="383.58" x2="158.20" y2="383.58" stroke="#333" stroke-width="0.7"/>
<circle cx="165.10" cy="383.58" r="2.60" fill="#cd4e14" stroke="#3a3030" stroke-width="0.65"/>
<line x1="170.20" y1="383.58" x2="172.40" y2="383.58" stroke="#333" stroke-width="0.7"/>
<line x1="230.20" y1="383.58" x2="247.80" y2="383.58" stroke="#555" stroke-width="0.85"/>
<rect x="237.20" y="382.08" width="3.00" height="3.00" fill="#000"/>
<text transform="translate(184.00 382.88)" font-size="2.7" fill="#666" text-anchor="middle">7.2</text>
<text transform="translate(183.50 385.88) scale(0.9533 1)" font-size="2.6" fill="#666" text-anchor="middle">(1.12 - 2.28)</text>
<text transform="translate(256.50 384.68)" font-size="3.2" fill="#d8506a">&lt;0.001 ***</text>
<circle cx="277.60" cy="383.58" r="2.60" fill="#d86a14" stroke="#3a3030" stroke-width="0.6"/>
<circle cx="289.50" cy="383.58" r="2.10" fill="#e7a428" stroke="#3a3030" stroke-width="0.6"/>
<circle cx="301.30" cy="383.58" r="2.60" fill="#88b8c8" stroke="#3a3030" stroke-width="0.6"/>
<text transform="translate(152.60 392.58) scale(0.9387 1)" font-size="6.6" fill="#c9304f" text-anchor="end">SPLICEOSOME</text>
<line x1="155.50" y1="390.23" x2="158.20" y2="390.23" stroke="#333" stroke-width="0.7"/>
<circle cx="165.10" cy="390.23" r="2.60" fill="#d45a12" stroke="#3a3030" stroke-width="0.65"/>
<line x1="170.20" y1="390.23" x2="172.40" y2="390.23" stroke="#333" stroke-width="0.7"/>
<line x1="219.50" y1="390.23" x2="235.70" y2="390.23" stroke="#555" stroke-width="0.85"/>
<rect x="226.10" y="388.73" width="3.00" height="3.00" fill="#000"/>
<text transform="translate(184.00 389.53)" font-size="2.7" fill="#666" text-anchor="middle">1.9</text>
<text transform="translate(183.50 392.53) scale(0.9533 1)" font-size="2.6" fill="#666" text-anchor="middle">(1.15 - 2.35)</text>
<text transform="translate(256.50 391.33)" font-size="3.2" fill="#777">0.16</text>
<circle cx="277.60" cy="390.23" r="2.60" fill="#d86412" stroke="#3a3030" stroke-width="0.6"/>
<circle cx="289.50" cy="390.23" r="1.80" fill="#dcb22e" stroke="#3a3030" stroke-width="0.6"/>
<circle cx="301.30" cy="390.23" r="2.60" fill="#8fb8c8" stroke="#3a3030" stroke-width="0.6"/>
<text transform="translate(152.60 399.22) scale(0.9522 1)" font-size="6.6" fill="#2b2b2b" text-anchor="end">DNA<tspan dy="-0.9">_</tspan><tspan dy="0.9">​</tspan>REPLICATION</text>
<line x1="155.50" y1="396.87" x2="158.20" y2="396.87" stroke="#333" stroke-width="0.7"/>
<circle cx="165.10" cy="396.87" r="2.60" fill="#d65e12" stroke="#3a3030" stroke-width="0.65"/>
<line x1="170.20" y1="396.87" x2="172.40" y2="396.87" stroke="#333" stroke-width="0.7"/>
<line x1="226.20" y1="396.87" x2="239.70" y2="396.87" stroke="#555" stroke-width="0.85"/>
<rect x="231.10" y="395.37" width="3.00" height="3.00" fill="#000"/>
<text transform="translate(184.00 396.17)" font-size="2.7" fill="#666" text-anchor="middle">3.5</text>
<text transform="translate(183.50 399.17) scale(0.9533 1)" font-size="2.6" fill="#666" text-anchor="middle">(1.18 - 2.42)</text>
<text transform="translate(256.50 397.97)" font-size="3.2" fill="#d8506a">0.004 **</text>
<circle cx="277.60" cy="396.87" r="2.60" fill="#e0801a" stroke="#3a3030" stroke-width="0.6"/>
<circle cx="289.50" cy="396.87" r="1.80" fill="#c9b03a" stroke="#3a3030" stroke-width="0.6"/>
<circle cx="301.30" cy="396.87" r="2.40" fill="#9ec0c8" stroke="#3a3030" stroke-width="0.6"/>
<text transform="translate(152.60 405.87) scale(0.9412 1)" font-size="6.6" fill="#2b2b2b" text-anchor="end">HYPOXIA<tspan dy="-0.9">_</tspan><tspan dy="0.9">​</tspan>UP</text>
<line x1="155.50" y1="403.51" x2="158.20" y2="403.51" stroke="#333" stroke-width="0.7"/>
<circle cx="165.10" cy="403.51" r="2.60" fill="#da6612" stroke="#3a3030" stroke-width="0.65"/>
<line x1="170.20" y1="403.51" x2="172.40" y2="403.51" stroke="#333" stroke-width="0.7"/>
<line x1="227.60" y1="403.51" x2="245.80" y2="403.51" stroke="#555" stroke-width="0.85"/>
<rect x="235.20" y="402.01" width="3.00" height="3.00" fill="#000"/>
<text transform="translate(184.00 402.81)" font-size="2.7" fill="#666" text-anchor="middle">5.7</text>
<text transform="translate(183.50 405.81) scale(0.9533 1)" font-size="2.6" fill="#666" text-anchor="middle">(1.21 - 2.49)</text>
<text transform="translate(256.50 404.62)" font-size="3.2" fill="#d8506a">0.001 **</text>
<circle cx="277.60" cy="403.51" r="2.40" fill="#e0841a" stroke="#3a3030" stroke-width="0.6"/>
<circle cx="289.50" cy="403.51" r="1.60" fill="#ccb040" stroke="#3a3030" stroke-width="0.6"/>
<circle cx="301.30" cy="403.51" r="1.40" fill="#a8c0c0" stroke="#3a3030" stroke-width="0.6"/>
<text transform="translate(152.60 412.51) scale(0.9311 1)" font-size="6.6" fill="#3b6ea5" text-anchor="end">MATURE<tspan dy="-0.9">_</tspan><tspan dy="0.9">​</tspan>B<tspan dy="-0.9">_</tspan><tspan dy="0.9">​</tspan>LYMPHOCYTE<tspan dy="-0.9">_</tspan><tspan dy="0.9">​</tspan>DN</text>
<line x1="155.50" y1="410.16" x2="158.20" y2="410.16" stroke="#333" stroke-width="0.7"/>
<circle cx="165.10" cy="410.16" r="2.60" fill="#dc6a12" stroke="#3a3030" stroke-width="0.65"/>
<line x1="170.20" y1="410.16" x2="172.40" y2="410.16" stroke="#333" stroke-width="0.7"/>
<line x1="226.60" y1="410.16" x2="246.40" y2="410.16" stroke="#555" stroke-width="0.85"/>
<rect x="234.80" y="408.66" width="3.00" height="3.00" fill="#000"/>
<text transform="translate(184.00 409.46)" font-size="2.7" fill="#666" text-anchor="middle">5.4</text>
<text transform="translate(183.50 412.46) scale(0.9533 1)" font-size="2.6" fill="#666" text-anchor="middle">(1.24 - 2.56)</text>
<text transform="translate(256.50 411.26)" font-size="3.2" fill="#d8506a">0.004 *</text>
<circle cx="277.60" cy="410.16" r="2.40" fill="#dc7a18" stroke="#3a3030" stroke-width="0.6"/>
<circle cx="289.50" cy="410.16" r="1.70" fill="#d6b035" stroke="#3a3030" stroke-width="0.6"/>
<circle cx="301.30" cy="410.16" r="2.20" fill="#9ec0c8" stroke="#3a3030" stroke-width="0.6"/>
<text transform="translate(152.60 419.16) scale(0.9418 1)" font-size="6.6" fill="#c9304f" text-anchor="end">RIBOSOME</text>
<line x1="155.50" y1="416.81" x2="158.20" y2="416.81" stroke="#333" stroke-width="0.7"/>
<circle cx="165.10" cy="416.81" r="2.60" fill="#de6e12" stroke="#3a3030" stroke-width="0.65"/>
<line x1="170.20" y1="416.81" x2="172.40" y2="416.81" stroke="#333" stroke-width="0.7"/>
<line x1="219.50" y1="416.81" x2="230.60" y2="416.81" stroke="#555" stroke-width="0.85"/>
<rect x="224.10" y="415.31" width="3.00" height="3.00" fill="#000"/>
<text transform="translate(184.00 416.11)" font-size="2.7" fill="#666" text-anchor="middle">1.5</text>
<text transform="translate(183.50 419.11) scale(0.9533 1)" font-size="2.6" fill="#666" text-anchor="middle">(1.27 - 2.63)</text>
<text transform="translate(256.50 417.91)" font-size="3.2" fill="#777">0.006</text>
<circle cx="277.60" cy="416.81" r="2.60" fill="#d8661a" stroke="#3a3030" stroke-width="0.6"/>
<circle cx="289.50" cy="416.81" r="2.60" fill="#e48a1c" stroke="#3a3030" stroke-width="0.6"/>
<circle cx="301.30" cy="416.81" r="2.60" fill="#4f99bf" stroke="#3a3030" stroke-width="0.6"/>
<text transform="translate(152.60 425.80) scale(0.9381 1)" font-size="6.6" fill="#5fae5f" text-anchor="end">PYRIMIDINE<tspan dy="-0.9">_</tspan><tspan dy="0.9">​</tspan>METABOLISM</text>
<line x1="155.50" y1="423.45" x2="158.20" y2="423.45" stroke="#333" stroke-width="0.7"/>
<circle cx="165.10" cy="423.45" r="2.60" fill="#e07412" stroke="#3a3030" stroke-width="0.65"/>
<line x1="170.20" y1="423.45" x2="172.40" y2="423.45" stroke="#333" stroke-width="0.7"/>
<line x1="227.60" y1="423.45" x2="246.80" y2="423.45" stroke="#555" stroke-width="0.85"/>
<rect x="235.20" y="421.95" width="3.00" height="3.00" fill="#000"/>
<text transform="translate(184.00 422.75)" font-size="2.7" fill="#666" text-anchor="middle">5.7</text>
<text transform="translate(183.50 425.75) scale(0.9533 1)" font-size="2.6" fill="#666" text-anchor="middle">(1.30 - 2.70)</text>
<text transform="translate(256.50 424.55)" font-size="3.2" fill="#d8506a">0.004 *</text>
<circle cx="277.60" cy="423.45" r="2.60" fill="#e08a1c" stroke="#3a3030" stroke-width="0.6"/>
<circle cx="289.50" cy="423.45" r="0.60" fill="#333333" stroke="#3a3030" stroke-width="0.6"/>
<circle cx="301.30" cy="423.45" r="2.20" fill="#8fb8c8" stroke="#3a3030" stroke-width="0.6"/>
<text transform="translate(152.60 432.45) scale(0.8958 1)" font-size="6.6" fill="#2b2b2b" text-anchor="end">CELL<tspan dy="-0.9">_</tspan><tspan dy="0.9">​</tspan>CYCLE<tspan dy="-0.9">_</tspan><tspan dy="0.9">​</tspan>G1<tspan dy="-0.9">_</tspan><tspan dy="0.9">​</tspan>S</text>
<line x1="155.50" y1="430.10" x2="158.20" y2="430.10" stroke="#333" stroke-width="0.7"/>
<circle cx="165.10" cy="430.10" r="2.60" fill="#e07412" stroke="#3a3030" stroke-width="0.65"/>
<line x1="170.20" y1="430.10" x2="172.40" y2="430.10" stroke="#333" stroke-width="0.7"/>
<line x1="228.60" y1="430.10" x2="250.80" y2="430.10" stroke="#555" stroke-width="0.85"/>
<rect x="238.20" y="428.60" width="3.00" height="3.00" fill="#000"/>
<text transform="translate(184.00 429.40)" font-size="2.7" fill="#666" text-anchor="middle">8.1</text>
<text transform="translate(183.50 432.40) scale(0.9533 1)" font-size="2.6" fill="#666" text-anchor="middle">(1.33 - 2.77)</text>
<text transform="translate(256.50 431.20)" font-size="3.2" fill="#d8506a">0.002 **</text>
<circle cx="277.60" cy="430.10" r="2.60" fill="#d85416" stroke="#3a3030" stroke-width="0.6"/>
<circle cx="289.50" cy="430.10" r="2.20" fill="#e3a025" stroke="#3a3030" stroke-width="0.6"/>
<circle cx="301.30" cy="430.10" r="2.60" fill="#6aa8cc" stroke="#3a3030" stroke-width="0.6"/>
<text transform="translate(152.60 439.09) scale(0.9493 1)" font-size="6.6" fill="#3b6ea5" text-anchor="end">SIGNALING<tspan dy="-0.9">_</tspan><tspan dy="0.9">​</tspan>BY<tspan dy="-0.9">_</tspan><tspan dy="0.9">​</tspan>HEDGEHOG</text>
<line x1="155.50" y1="436.74" x2="158.20" y2="436.74" stroke="#333" stroke-width="0.7"/>
<circle cx="165.10" cy="436.74" r="2.60" fill="#e07812" stroke="#3a3030" stroke-width="0.65"/>
<line x1="170.20" y1="436.74" x2="172.40" y2="436.74" stroke="#333" stroke-width="0.7"/>
<line x1="223.00" y1="436.74" x2="247.80" y2="436.74" stroke="#555" stroke-width="0.85"/>
<rect x="233.50" y="435.24" width="3.00" height="3.00" fill="#000"/>
<text transform="translate(184.00 436.04)" font-size="2.7" fill="#666" text-anchor="middle">4.6</text>
<text transform="translate(183.50 439.04) scale(0.9533 1)" font-size="2.6" fill="#666" text-anchor="middle">(1.36 - 2.84)</text>
<text transform="translate(256.50 437.84)" font-size="3.2" fill="#d8506a">0.021 *</text>
<circle cx="277.60" cy="436.74" r="2.60" fill="#e08a1c" stroke="#3a3030" stroke-width="0.6"/>
<circle cx="289.50" cy="436.74" r="1.80" fill="#b6ad45" stroke="#3a3030" stroke-width="0.6"/>
<circle cx="301.30" cy="436.74" r="1.70" fill="#e0e0e0" stroke="#3a3030" stroke-width="0.6"/>
<text transform="translate(152.60 445.74) scale(0.9329 1)" font-size="6.6" fill="#5fae5f" text-anchor="end">PURINE<tspan dy="-0.9">_</tspan><tspan dy="0.9">​</tspan>METABOLISM</text>
<line x1="155.50" y1="443.38" x2="158.20" y2="443.38" stroke="#333" stroke-width="0.7"/>
<circle cx="165.10" cy="443.38" r="2.60" fill="#e07812" stroke="#3a3030" stroke-width="0.65"/>
<line x1="170.20" y1="443.38" x2="172.40" y2="443.38" stroke="#333" stroke-width="0.7"/>
<line x1="228.60" y1="443.38" x2="255.90" y2="443.38" stroke="#555" stroke-width="0.85"/>
<rect x="240.20" y="441.88" width="3.00" height="3.00" fill="#000"/>
<text transform="translate(184.00 442.69)" font-size="2.7" fill="#666" text-anchor="middle">10.3</text>
<text transform="translate(183.50 445.69) scale(0.9533 1)" font-size="2.6" fill="#666" text-anchor="middle">(1.39 - 2.91)</text>
<text transform="translate(256.50 444.49)" font-size="3.2" fill="#d8506a">0.002 **</text>
<circle cx="277.60" cy="443.38" r="2.40" fill="#e08a1c" stroke="#3a3030" stroke-width="0.6"/>
<circle cx="289.50" cy="443.38" r="1.60" fill="#b4b04e" stroke="#3a3030" stroke-width="0.6"/>
<circle cx="301.30" cy="443.38" r="1.50" fill="#d0d8d8" stroke="#3a3030" stroke-width="0.6"/>
<text transform="translate(152.60 452.38) scale(0.9176 1)" font-size="6.6" fill="#5fae5f" text-anchor="end">FATTY<tspan dy="-0.9">_</tspan><tspan dy="0.9">​</tspan>ACYL<tspan dy="-0.9">_</tspan><tspan dy="0.9">​</tspan>COA<tspan dy="-0.9">_</tspan><tspan dy="0.9">​</tspan>BIOSYNTHESIS</text>
<line x1="155.50" y1="450.03" x2="158.20" y2="450.03" stroke="#333" stroke-width="0.7"/>
<circle cx="165.10" cy="450.03" r="2.60" fill="#e28014" stroke="#3a3030" stroke-width="0.65"/>
<line x1="170.20" y1="450.03" x2="172.40" y2="450.03" stroke="#333" stroke-width="0.7"/>
<line x1="230.20" y1="450.03" x2="251.80" y2="450.03" stroke="#555" stroke-width="0.85"/>
<rect x="239.20" y="448.53" width="3.00" height="3.00" fill="#000"/>
<text transform="translate(184.00 449.33)" font-size="2.7" fill="#666" text-anchor="middle">9.2</text>
<text transform="translate(183.50 452.33) scale(0.9533 1)" font-size="2.6" fill="#666" text-anchor="middle">(1.42 - 2.98)</text>
<text transform="translate(256.50 451.13)" font-size="3.2" fill="#d8506a">&lt;0.001 ***</text>
<circle cx="277.60" cy="450.03" r="2.40" fill="#e0841a" stroke="#3a3030" stroke-width="0.6"/>
<circle cx="289.50" cy="450.03" r="1.80" fill="#d4a235" stroke="#3a3030" stroke-width="0.6"/>
<circle cx="301.30" cy="450.03" r="1.30" fill="#d0d8d8" stroke="#3a3030" stroke-width="0.6"/>
<text transform="translate(152.60 459.03) scale(0.9152 1)" font-size="6.6" fill="#3b6ea5" text-anchor="end">HEMATOPOIETIC<tspan dy="-0.9">_</tspan><tspan dy="0.9">​</tspan>STEM<tspan dy="-0.9">_</tspan><tspan dy="0.9">​</tspan>CELL<tspan dy="-0.9">_</tspan><tspan dy="0.9">​</tspan>UP</text>
<line x1="155.50" y1="456.68" x2="158.20" y2="456.68" stroke="#333" stroke-width="0.7"/>
<circle cx="165.10" cy="456.68" r="2.60" fill="#e89a22" stroke="#3a3030" stroke-width="0.65"/>
<line x1="170.20" y1="456.68" x2="172.40" y2="456.68" stroke="#333" stroke-width="0.7"/>
<line x1="212.40" y1="456.68" x2="243.70" y2="456.68" stroke="#555" stroke-width="0.85"/>
<rect x="226.70" y="455.18" width="3.00" height="3.00" fill="#000"/>
<text transform="translate(184.00 455.98)" font-size="2.7" fill="#666" text-anchor="middle">2.0</text>
<text transform="translate(183.50 458.98) scale(0.9533 1)" font-size="2.6" fill="#666" text-anchor="middle">(1.45 - 2.05)</text>
<text transform="translate(256.50 457.78)" font-size="3.2" fill="#777">0.005</text>
<circle cx="277.60" cy="456.68" r="2.40" fill="#e08a1c" stroke="#3a3030" stroke-width="0.6"/>
<circle cx="289.50" cy="456.68" r="2.40" fill="#e39a22" stroke="#3a3030" stroke-width="0.6"/>
<circle cx="301.30" cy="456.68" r="2.60" fill="#62a8c0" stroke="#3a3030" stroke-width="0.6"/>
<text transform="translate(152.60 465.67) scale(0.9306 1)" font-size="6.6" fill="#2b2b2b" text-anchor="end">ACETYLATED<tspan dy="-0.9">_</tspan><tspan dy="0.9">​</tspan>NON<tspan dy="-0.9">_</tspan><tspan dy="0.9">​</tspan>HISTONE<tspan dy="-0.9">_</tspan><tspan dy="0.9">​</tspan>PROTEINS</text>
<line x1="155.50" y1="463.32" x2="158.20" y2="463.32" stroke="#333" stroke-width="0.7"/>
<circle cx="165.10" cy="463.32" r="1.60" fill="#e0b020" stroke="#3a3030" stroke-width="0.65"/>
<line x1="170.20" y1="463.32" x2="172.40" y2="463.32" stroke="#333" stroke-width="0.7"/>
<line x1="218.00" y1="463.32" x2="239.70" y2="463.32" stroke="#555" stroke-width="0.85"/>
<rect x="227.50" y="461.82" width="3.00" height="3.00" fill="#000"/>
<text transform="translate(184.00 462.62)" font-size="2.7" fill="#666" text-anchor="middle">2.2</text>
<text transform="translate(183.50 465.62) scale(0.9533 1)" font-size="2.6" fill="#666" text-anchor="middle">(1.48 - 2.12)</text>
<text transform="translate(256.50 464.42)" font-size="3.2" fill="#777">0.052</text>
<circle cx="277.60" cy="463.32" r="1.90" fill="#e09020" stroke="#3a3030" stroke-width="0.6"/>
<circle cx="289.50" cy="463.32" r="1.60" fill="#d2b038" stroke="#3a3030" stroke-width="0.6"/>
<circle cx="301.30" cy="463.32" r="1.30" fill="#8ab0c0" stroke="#3a3030" stroke-width="0.6"/>
<text transform="translate(152.60 472.31) scale(0.9222 1)" font-size="6.6" fill="#3b6ea5" text-anchor="end">MATURE<tspan dy="-0.9">_</tspan><tspan dy="0.9">​</tspan>B<tspan dy="-0.9">_</tspan><tspan dy="0.9">​</tspan>LYMPHOCYTE<tspan dy="-0.9">_</tspan><tspan dy="0.9">​</tspan>UP</text>
<line x1="155.50" y1="469.96" x2="158.20" y2="469.96" stroke="#333" stroke-width="0.7"/>
<circle cx="165.10" cy="469.96" r="1.90" fill="#7e9eaa" stroke="#3a3030" stroke-width="0.65"/>
<line x1="170.20" y1="469.96" x2="172.40" y2="469.96" stroke="#333" stroke-width="0.7"/>
<line x1="193.20" y1="469.96" x2="220.50" y2="469.96" stroke="#555" stroke-width="0.85"/>
<rect x="205.30" y="468.46" width="3.00" height="3.00" fill="#000"/>
<text transform="translate(184.00 469.26)" font-size="2.7" fill="#666" text-anchor="middle">0.2</text>
<text transform="translate(183.50 472.26) scale(0.9533 1)" font-size="2.6" fill="#666" text-anchor="middle">(1.51 - 2.19)</text>
<text transform="translate(256.50 471.06)" font-size="3.2" fill="#d8506a">0.03 *</text>
<circle cx="277.60" cy="469.96" r="2.60" fill="#7fa8b8" stroke="#3a3030" stroke-width="0.6"/>
<circle cx="289.50" cy="469.96" r="2.60" fill="#6aaed0" stroke="#3a3030" stroke-width="0.6"/>
<circle cx="301.30" cy="469.96" r="2.60" fill="#e38a1c" stroke="#3a3030" stroke-width="0.6"/>
<text transform="translate(152.60 478.96) scale(0.9333 1)" font-size="6.6" fill="#2b2b2b" text-anchor="end">NFLAMMATORY<tspan dy="-0.9">_</tspan><tspan dy="0.9">​</tspan>RESPONSE</text>
<line x1="155.50" y1="476.61" x2="158.20" y2="476.61" stroke="#333" stroke-width="0.7"/>
<circle cx="165.10" cy="476.61" r="2.60" fill="#7ea4b4" stroke="#3a3030" stroke-width="0.65"/>
<line x1="170.20" y1="476.61" x2="172.40" y2="476.61" stroke="#333" stroke-width="0.7"/>
<line x1="200.30" y1="476.61" x2="225.00" y2="476.61" stroke="#555" stroke-width="0.85"/>
<rect x="210.90" y="475.11" width="3.00" height="3.00" fill="#000"/>
<text transform="translate(184.00 475.91)" font-size="2.7" fill="#666" text-anchor="middle">0.3</text>
<text transform="translate(183.50 478.91) scale(0.9533 1)" font-size="2.6" fill="#666" text-anchor="middle">(1.54 - 2.26)</text>
<text transform="translate(256.50 477.71)" font-size="3.2" fill="#777">0.18</text>
<circle cx="277.60" cy="476.61" r="2.60" fill="#7fa8b8" stroke="#3a3030" stroke-width="0.6"/>
<circle cx="289.50" cy="476.61" r="2.60" fill="#6aaed0" stroke="#3a3030" stroke-width="0.6"/>
<circle cx="301.30" cy="476.61" r="2.60" fill="#e38a1c" stroke="#3a3030" stroke-width="0.6"/>
<text transform="translate(152.60 485.61) scale(0.9637 1)" font-size="6.6" fill="#2b2b2b" text-anchor="end">HYPOXIA<tspan dy="-0.9">_</tspan><tspan dy="0.9">​</tspan>DN</text>
<line x1="155.50" y1="483.25" x2="158.20" y2="483.25" stroke="#333" stroke-width="0.7"/>
<circle cx="165.10" cy="483.25" r="2.60" fill="#7ea4b4" stroke="#3a3030" stroke-width="0.65"/>
<line x1="170.20" y1="483.25" x2="172.40" y2="483.25" stroke="#333" stroke-width="0.7"/>
<line x1="197.30" y1="483.25" x2="219.50" y2="483.25" stroke="#555" stroke-width="0.85"/>
<rect x="206.50" y="481.75" width="3.00" height="3.00" fill="#000"/>
<text transform="translate(184.00 482.56)" font-size="2.7" fill="#666" text-anchor="middle">0.2</text>
<text transform="translate(183.50 485.56) scale(0.9533 1)" font-size="2.6" fill="#666" text-anchor="middle">(1.57 - 2.33)</text>
<text transform="translate(256.50 484.36)" font-size="3.2" fill="#d8506a">0.03 *</text>
<circle cx="277.60" cy="483.25" r="1.50" fill="#7fa8b8" stroke="#3a3030" stroke-width="0.6"/>
<circle cx="289.50" cy="483.25" r="2.60" fill="#6aaed0" stroke="#3a3030" stroke-width="0.6"/>
<circle cx="301.30" cy="483.25" r="2.60" fill="#e8a028" stroke="#3a3030" stroke-width="0.6"/>
<text transform="translate(152.60 492.25) scale(0.9341 1)" font-size="6.6" fill="#3b6ea5" text-anchor="end">HEMATOPOIETIC<tspan dy="-0.9">_</tspan><tspan dy="0.9">​</tspan>STEM<tspan dy="-0.9">_</tspan><tspan dy="0.9">​</tspan>CELL<tspan dy="-0.9">_</tspan><tspan dy="0.9">​</tspan>DN</text>
<line x1="155.50" y1="489.90" x2="158.20" y2="489.90" stroke="#333" stroke-width="0.7"/>
<circle cx="165.10" cy="489.90" r="2.60" fill="#7ea4b4" stroke="#3a3030" stroke-width="0.65"/>
<line x1="170.20" y1="489.90" x2="172.40" y2="489.90" stroke="#333" stroke-width="0.7"/>
<line x1="202.00" y1="489.90" x2="222.00" y2="489.90" stroke="#555" stroke-width="0.85"/>
<rect x="210.30" y="488.40" width="3.00" height="3.00" fill="#000"/>
<text transform="translate(184.00 489.20)" font-size="2.7" fill="#666" text-anchor="middle">0.3</text>
<text transform="translate(183.50 492.20) scale(0.9533 1)" font-size="2.6" fill="#666" text-anchor="middle">(1.60 - 2.40)</text>
<text transform="translate(256.50 491.00)" font-size="3.2" fill="#d8506a">0.04 *</text>
<circle cx="277.60" cy="489.90" r="2.60" fill="#7fa8b8" stroke="#3a3030" stroke-width="0.6"/>
<circle cx="289.50" cy="489.90" r="2.60" fill="#6aaed0" stroke="#3a3030" stroke-width="0.6"/>
<circle cx="301.30" cy="489.90" r="2.60" fill="#e38a1c" stroke="#3a3030" stroke-width="0.6"/>
<rect x="172.4" y="353.6" width="98.6" height="140" fill="none" stroke="#6a6a6a" stroke-width="1"/>
<text transform="translate(278.00 346.80) rotate(-90) scale(1.0266 1)" font-size="6.0" fill="#333" stroke="#333" stroke-width="0.2">G1 VS P (JeKo-1-IBN-R)</text>
<line x1="277.60" y1="349.50" x2="277.60" y2="352.50" stroke="#333" stroke-width="0.7"/>
<line x1="277.60" y1="493.80" x2="277.60" y2="496.30" stroke="#333" stroke-width="0.7"/>
<text transform="translate(290.70 346.80) rotate(-90) scale(1.0389 1)" font-size="6.0" fill="#333" stroke="#333" stroke-width="0.2">G1 VS P (Mino-VEN-R)</text>
<line x1="289.50" y1="349.50" x2="289.50" y2="352.50" stroke="#333" stroke-width="0.7"/>
<line x1="289.50" y1="493.80" x2="289.50" y2="496.30" stroke="#333" stroke-width="0.7"/>
<text transform="translate(303.20 346.80) rotate(-90) scale(1.0424 1)" font-size="6.0" fill="#333" stroke="#333" stroke-width="0.2">R1 VS M1 (Mino-VEN-R)</text>
<line x1="301.30" y1="349.50" x2="301.30" y2="352.50" stroke="#333" stroke-width="0.7"/>
<line x1="301.30" y1="493.80" x2="301.30" y2="496.30" stroke="#333" stroke-width="0.7"/>
<line x1="272.00" y1="493.80" x2="307.50" y2="493.80" stroke="#333" stroke-width="0.9"/>
<line x1="196.30" y1="493.60" x2="196.30" y2="495.60" stroke="#333" stroke-width="0.6"/>
<text transform="translate(198.50 495.80) rotate(-90)" font-size="6.5" fill="#333" text-anchor="end" stroke="#333" stroke-width="0.2">0.05</text>
<line x1="203.00" y1="493.60" x2="203.00" y2="495.60" stroke="#333" stroke-width="0.6"/>
<text transform="translate(205.20 495.80) rotate(-90)" font-size="6.5" fill="#333" text-anchor="end" stroke="#333" stroke-width="0.2">0.1</text>
<line x1="216.00" y1="493.60" x2="216.00" y2="495.60" stroke="#333" stroke-width="0.6"/>
<text transform="translate(218.20 495.80) rotate(-90)" font-size="6.5" fill="#333" text-anchor="end" stroke="#333" stroke-width="0.2">0.5</text>
<line x1="222.50" y1="493.60" x2="222.50" y2="495.60" stroke="#333" stroke-width="0.6"/>
<text transform="translate(224.70 495.80) rotate(-90)" font-size="6.5" fill="#333" text-anchor="end" stroke="#333" stroke-width="0.2">1</text>
<line x1="235.40" y1="493.60" x2="235.40" y2="495.60" stroke="#333" stroke-width="0.6"/>
<text transform="translate(237.60 495.80) rotate(-90)" font-size="6.5" fill="#333" text-anchor="end" stroke="#333" stroke-width="0.2">5</text>
<line x1="239.70" y1="493.60" x2="239.70" y2="495.60" stroke="#333" stroke-width="0.6"/>
<text transform="translate(241.90 495.80) rotate(-90)" font-size="6.5" fill="#333" text-anchor="end" stroke="#333" stroke-width="0.2">10</text>
<line x1="254.00" y1="493.60" x2="254.00" y2="495.60" stroke="#333" stroke-width="0.6"/>
<text transform="translate(256.20 495.80) rotate(-90)" font-size="6.5" fill="#333" text-anchor="end" stroke="#333" stroke-width="0.2">50</text>
<line x1="260.00" y1="493.60" x2="260.00" y2="495.60" stroke="#333" stroke-width="0.6"/>
<text transform="translate(262.20 495.80) rotate(-90)" font-size="6.5" fill="#333" text-anchor="end" stroke="#333" stroke-width="0.2">100</text>
<text transform="translate(222.00 520.00) scale(0.9092 1)" font-size="7.4" fill="#333" text-anchor="middle" stroke="#333" stroke-width="0.2">Hazard ratio (N = 62)</text>
<text transform="translate(313.50 381.80) scale(0.9263 1)" font-size="6.3" fill="#333" stroke="#333" stroke-width="0.2">NES</text>
<defs><linearGradient id="nes" x1="0" y1="0" x2="0" y2="1"><stop offset="0" stop-color="#d7301f"/><stop offset="0.3" stop-color="#ee8a1e"/><stop offset="0.55" stop-color="#e8c040"/><stop offset="0.75" stop-color="#a8c088"/><stop offset="1" stop-color="#6ab0d0"/></linearGradient></defs>
<rect x="313.80" y="383.80" width="5.00" height="28.70" fill="url(#nes)"/>
<line x1="313.80" y1="390.00" x2="315.00" y2="390.00" stroke="#fff" stroke-width="0.5"/>
<line x1="317.60" y1="390.00" x2="318.80" y2="390.00" stroke="#fff" stroke-width="0.5"/>
<line x1="313.80" y1="400.00" x2="315.00" y2="400.00" stroke="#fff" stroke-width="0.5"/>
<line x1="317.60" y1="400.00" x2="318.80" y2="400.00" stroke="#fff" stroke-width="0.5"/>
<text transform="translate(321.50 392.20)" font-size="6.3" fill="#333" stroke="#333" stroke-width="0.2">2</text>
<text transform="translate(321.50 402.20)" font-size="6.3" fill="#333" stroke="#333" stroke-width="0.2">0</text>
<text transform="translate(313.20 421.00) scale(1.0128 1)" font-size="6.3" fill="#333" stroke="#333" stroke-width="0.2">−log10(Pval)</text>
<circle cx="316.3" cy="428.8" r="1.6" fill="none" stroke="#444" stroke-width="0.6"/>
<text transform="translate(321.50 431.00)" font-size="6.3" fill="#333" stroke="#333" stroke-width="0.2">1</text>
<circle cx="316.3" cy="437.5" r="2.5" fill="none" stroke="#444" stroke-width="0.6"/>
<text transform="translate(321.50 439.70)" font-size="6.3" fill="#333" stroke="#333" stroke-width="0.2">2</text>
<rect x="313.20" y="454.50" width="5.00" height="5.00" fill="#3fae50"/>
<text transform="translate(321.30 459.20) scale(0.9935 1)" font-size="6.3" fill="#333" stroke="#333" stroke-width="0.2">Metabolism</text>
<rect x="313.20" y="462.70" width="5.00" height="5.00" fill="#1d5a8a"/>
<text transform="translate(321.30 467.30) scale(1.0410 1)" font-size="6.3" fill="#333" stroke="#333" stroke-width="0.2">De-differeniation</text>
<rect x="313.20" y="470.80" width="5.00" height="5.00" fill="#d01c44"/>
<text transform="translate(321.30 475.40) scale(1.0346 1)" font-size="6.3" fill="#333" stroke="#333" stroke-width="0.2">Translation</text>
<text transform="translate(7.40 548.60)" font-size="10.5" fill="#111" font-weight="bold">F</text>
<line x1="36.80" y1="574.50" x2="36.80" y2="629.90" stroke="#333" stroke-width="1"/>
<line x1="36.80" y1="629.90" x2="69.00" y2="629.90" stroke="#333" stroke-width="1"/>
<line x1="34.30" y1="581.80" x2="36.80" y2="581.80" stroke="#333" stroke-width="0.8"/>
<text transform="translate(32.80 584.00)" font-size="6.4" fill="#333" text-anchor="end" stroke="#333" stroke-width="0.2">7.75</text>
<line x1="34.30" y1="594.00" x2="36.80" y2="594.00" stroke="#333" stroke-width="0.8"/>
<text transform="translate(32.80 596.20)" font-size="6.4" fill="#333" text-anchor="end" stroke="#333" stroke-width="0.2">7.50</text>
<line x1="34.30" y1="606.20" x2="36.80" y2="606.20" stroke="#333" stroke-width="0.8"/>
<text transform="translate(32.80 608.40)" font-size="6.4" fill="#333" text-anchor="end" stroke="#333" stroke-width="0.2">7.25</text>
<line x1="34.30" y1="618.40" x2="36.80" y2="618.40" stroke="#333" stroke-width="0.8"/>
<text transform="translate(32.80 620.60)" font-size="6.4" fill="#333" text-anchor="end" stroke="#333" stroke-width="0.2">7.00</text>
<line x1="45.70" y1="577.20" x2="45.70" y2="619.90" stroke="#999" stroke-width="0.7"/>
<line x1="45.70" y1="629.90" x2="45.70" y2="632.20" stroke="#333" stroke-width="0.8"/>
<rect x="40.30" y="582.70" width="10.90" height="16.30" fill="#f3a33a" stroke="#999" stroke-width="0.4"/>
<line x1="40.30" y1="588.70" x2="51.20" y2="588.70" stroke="#333" stroke-width="0.7"/>
<circle cx="46.56" cy="578.00" r="0.80" fill="#1a1a1a"/>
<circle cx="47.39" cy="580.00" r="0.80" fill="#1a1a1a"/>
<circle cx="47.77" cy="583.00" r="0.80" fill="#1a1a1a"/>
<circle cx="48.80" cy="585.00" r="0.80" fill="#1a1a1a"/>
<circle cx="47.38" cy="588.00" r="0.80" fill="#1a1a1a"/>
<circle cx="48.66" cy="590.00" r="0.80" fill="#1a1a1a"/>
<circle cx="42.40" cy="593.00" r="0.80" fill="#1a1a1a"/>
<circle cx="45.46" cy="595.00" r="0.80" fill="#1a1a1a"/>
<circle cx="48.80" cy="597.00" r="0.80" fill="#1a1a1a"/>
<circle cx="46.74" cy="600.00" r="0.80" fill="#1a1a1a"/>
<circle cx="48.51" cy="603.00" r="0.80" fill="#1a1a1a"/>
<circle cx="42.99" cy="606.00" r="0.80" fill="#1a1a1a"/>
<circle cx="45.48" cy="609.00" r="0.80" fill="#1a1a1a"/>
<circle cx="43.93" cy="612.00" r="0.80" fill="#1a1a1a"/>
<circle cx="46.01" cy="618.00" r="0.80" fill="#1a1a1a"/>
<line x1="60.60" y1="591.80" x2="60.60" y2="612.60" stroke="#999" stroke-width="0.7"/>
<line x1="60.60" y1="629.90" x2="60.60" y2="632.20" stroke="#333" stroke-width="0.8"/>
<rect x="55.70" y="596.30" width="10.00" height="6.30" fill="#2f6494" stroke="#999" stroke-width="0.4"/>
<line x1="55.70" y1="599.00" x2="65.70" y2="599.00" stroke="#333" stroke-width="0.7"/>
<circle cx="61.12" cy="592.00" r="0.80" fill="#1a1a1a"/>
<circle cx="57.19" cy="594.00" r="0.80" fill="#1a1a1a"/>
<circle cx="58.62" cy="596.00" r="0.80" fill="#1a1a1a"/>
<circle cx="59.06" cy="597.00" r="0.80" fill="#1a1a1a"/>
<circle cx="63.51" cy="599.00" r="0.80" fill="#1a1a1a"/>
<circle cx="62.46" cy="600.00" r="0.80" fill="#1a1a1a"/>
<circle cx="58.22" cy="601.00" r="0.80" fill="#1a1a1a"/>
<circle cx="62.68" cy="603.00" r="0.80" fill="#1a1a1a"/>
<circle cx="58.07" cy="605.00" r="0.80" fill="#1a1a1a"/>
<circle cx="61.42" cy="607.00" r="0.80" fill="#1a1a1a"/>
<circle cx="57.99" cy="610.00" r="0.80" fill="#1a1a1a"/>
<circle cx="57.11" cy="627.20" r="0.80" fill="#1a1a1a"/>
<line x1="45.40" y1="575.40" x2="60.80" y2="575.40" stroke="#333" stroke-width="0.7"/>
<line x1="45.40" y1="575.40" x2="45.40" y2="576.70" stroke="#333" stroke-width="0.7"/>
<line x1="60.80" y1="575.40" x2="60.80" y2="576.70" stroke="#333" stroke-width="0.7"/>
<text transform="translate(53.10 575.90)" font-size="7.5" fill="#222" text-anchor="middle" stroke="#222" stroke-width="0.2">**</text>
<text transform="translate(48.50 637.50) rotate(-45) scale(1.0163 1)" font-size="6.4" fill="#333" text-anchor="end" stroke="#333" stroke-width="0.2">Non–responsive</text>
<text transform="translate(63.00 637.50) rotate(-45) scale(0.9869 1)" font-size="6.4" fill="#333" text-anchor="end" stroke="#333" stroke-width="0.2">Responsive</text>
<text transform="translate(14.50 599.00) rotate(-90) scale(0.8134 1)" font-size="7.6" fill="#333" text-anchor="middle" stroke="#333" stroke-width="0.2">ssGSEA signature score</text>
<line x1="205.80" y1="574.50" x2="205.80" y2="629.90" stroke="#333" stroke-width="1"/>
<line x1="205.80" y1="629.90" x2="238.00" y2="629.90" stroke="#333" stroke-width="1"/>
<line x1="203.30" y1="585.20" x2="205.80" y2="585.20" stroke="#333" stroke-width="0.8"/>
<text transform="translate(201.80 587.40)" font-size="6.4" fill="#333" text-anchor="end" stroke="#333" stroke-width="0.2">7.2</text>
<line x1="203.30" y1="599.80" x2="205.80" y2="599.80" stroke="#333" stroke-width="0.8"/>
<text transform="translate(201.80 602.00)" font-size="6.4" fill="#333" text-anchor="end" stroke="#333" stroke-width="0.2">6.9</text>
<line x1="203.30" y1="614.40" x2="205.80" y2="614.40" stroke="#333" stroke-width="0.8"/>
<text transform="translate(201.80 616.60)" font-size="6.4" fill="#333" text-anchor="end" stroke="#333" stroke-width="0.2">6.6</text>
<line x1="203.30" y1="629.00" x2="205.80" y2="629.00" stroke="#333" stroke-width="0.8"/>
<text transform="translate(201.80 631.20)" font-size="6.4" fill="#333" text-anchor="end" stroke="#333" stroke-width="0.2">6.3</text>
<line x1="215.20" y1="578.00" x2="215.20" y2="621.70" stroke="#999" stroke-width="0.7"/>
<line x1="215.20" y1="629.90" x2="215.20" y2="632.20" stroke="#333" stroke-width="0.8"/>
<rect x="209.60" y="589.00" width="11.20" height="12.70" fill="#f3a33a" stroke="#999" stroke-width="0.4"/>
<line x1="209.60" y1="597.20" x2="220.80" y2="597.20" stroke="#333" stroke-width="0.7"/>
<circle cx="217.80" cy="578.00" r="0.80" fill="#1a1a1a"/>
<circle cx="213.17" cy="582.00" r="0.80" fill="#1a1a1a"/>
<circle cx="213.21" cy="588.00" r="0.80" fill="#1a1a1a"/>
<circle cx="218.58" cy="590.00" r="0.80" fill="#1a1a1a"/>
<circle cx="217.81" cy="592.00" r="0.80" fill="#1a1a1a"/>
<circle cx="213.73" cy="594.00" r="0.80" fill="#1a1a1a"/>
<circle cx="218.43" cy="597.00" r="0.80" fill="#1a1a1a"/>
<circle cx="215.47" cy="599.00" r="0.80" fill="#1a1a1a"/>
<circle cx="216.44" cy="601.00" r="0.80" fill="#1a1a1a"/>
<circle cx="213.13" cy="603.00" r="0.80" fill="#1a1a1a"/>
<circle cx="218.29" cy="606.00" r="0.80" fill="#1a1a1a"/>
<circle cx="216.53" cy="609.00" r="0.80" fill="#1a1a1a"/>
<circle cx="218.47" cy="612.00" r="0.80" fill="#1a1a1a"/>
<circle cx="217.96" cy="615.00" r="0.80" fill="#1a1a1a"/>
<circle cx="213.79" cy="621.00" r="0.80" fill="#1a1a1a"/>
<line x1="230.30" y1="592.70" x2="230.30" y2="627.20" stroke="#999" stroke-width="0.7"/>
<line x1="230.30" y1="629.90" x2="230.30" y2="632.20" stroke="#333" stroke-width="0.8"/>
<rect x="224.80" y="603.60" width="10.90" height="12.30" fill="#2f6494" stroke="#999" stroke-width="0.4"/>
<line x1="224.80" y1="609.90" x2="235.70" y2="609.90" stroke="#333" stroke-width="0.7"/>
<circle cx="229.33" cy="593.00" r="0.80" fill="#1a1a1a"/>
<circle cx="227.96" cy="596.00" r="0.80" fill="#1a1a1a"/>
<circle cx="227.82" cy="600.00" r="0.80" fill="#1a1a1a"/>
<circle cx="227.26" cy="603.00" r="0.80" fill="#1a1a1a"/>
<circle cx="228.91" cy="605.00" r="0.80" fill="#1a1a1a"/>
<circle cx="231.02" cy="607.00" r="0.80" fill="#1a1a1a"/>
<circle cx="226.82" cy="609.00" r="0.80" fill="#1a1a1a"/>
<circle cx="231.55" cy="611.00" r="0.80" fill="#1a1a1a"/>
<circle cx="229.17" cy="613.00" r="0.80" fill="#1a1a1a"/>
<circle cx="228.97" cy="615.00" r="0.80" fill="#1a1a1a"/>
<circle cx="232.53" cy="617.00" r="0.80" fill="#1a1a1a"/>
<circle cx="230.17" cy="620.00" r="0.80" fill="#1a1a1a"/>
<circle cx="229.01" cy="623.00" r="0.80" fill="#1a1a1a"/>
<circle cx="230.17" cy="626.00" r="0.80" fill="#1a1a1a"/>
<line x1="214.50" y1="575.40" x2="230.30" y2="575.40" stroke="#333" stroke-width="0.7"/>
<line x1="214.50" y1="575.40" x2="214.50" y2="576.70" stroke="#333" stroke-width="0.7"/>
<line x1="230.30" y1="575.40" x2="230.30" y2="576.70" stroke="#333" stroke-width="0.7"/>
<text transform="translate(222.40 575.90)" font-size="7.5" fill="#222" text-anchor="middle" stroke="#222" stroke-width="0.2">****</text>
<text transform="translate(218.50 637.50) rotate(-45) scale(1.0163 1)" font-size="6.4" fill="#333" text-anchor="end" stroke="#333" stroke-width="0.2">Non–responsive</text>
<text transform="translate(233.00 637.50) rotate(-45) scale(0.9869 1)" font-size="6.4" fill="#333" text-anchor="end" stroke="#333" stroke-width="0.2">Responsive</text>
<text transform="translate(186.40 606.30) rotate(-90) scale(0.8134 1)" font-size="7.6" fill="#333" text-anchor="middle" stroke="#333" stroke-width="0.2">ssGSEA signature score</text>
<line x1="379.60" y1="574.50" x2="379.60" y2="629.90" stroke="#333" stroke-width="1"/>
<line x1="379.60" y1="629.90" x2="411.70" y2="629.90" stroke="#333" stroke-width="1"/>
<line x1="377.10" y1="576.80" x2="379.60" y2="576.80" stroke="#333" stroke-width="0.8"/>
<text transform="translate(375.60 579.00)" font-size="6.4" fill="#333" text-anchor="end" stroke="#333" stroke-width="0.2">2500</text>
<line x1="377.10" y1="588.85" x2="379.60" y2="588.85" stroke="#333" stroke-width="0.8"/>
<text transform="translate(375.60 591.05)" font-size="6.4" fill="#333" text-anchor="end" stroke="#333" stroke-width="0.2">2000</text>
<line x1="377.10" y1="600.90" x2="379.60" y2="600.90" stroke="#333" stroke-width="0.8"/>
<text transform="translate(375.60 603.10)" font-size="6.4" fill="#333" text-anchor="end" stroke="#333" stroke-width="0.2">1500</text>
<line x1="377.10" y1="612.95" x2="379.60" y2="612.95" stroke="#333" stroke-width="0.8"/>
<text transform="translate(375.60 615.15)" font-size="6.4" fill="#333" text-anchor="end" stroke="#333" stroke-width="0.2">1000</text>
<line x1="377.10" y1="625.00" x2="379.60" y2="625.00" stroke="#333" stroke-width="0.8"/>
<text transform="translate(375.60 627.20)" font-size="6.4" fill="#333" text-anchor="end" stroke="#333" stroke-width="0.2">500</text>
<line x1="389.00" y1="597.20" x2="389.00" y2="621.70" stroke="#999" stroke-width="0.7"/>
<line x1="389.00" y1="629.90" x2="389.00" y2="632.20" stroke="#333" stroke-width="0.8"/>
<rect x="384.10" y="609.00" width="10.00" height="8.70" fill="#f3a33a" stroke="#999" stroke-width="0.4"/>
<line x1="384.10" y1="613.50" x2="394.10" y2="613.50" stroke="#333" stroke-width="0.7"/>
<circle cx="390.43" cy="586.00" r="0.80" fill="#1a1a1a"/>
<circle cx="385.90" cy="590.00" r="0.80" fill="#1a1a1a"/>
<circle cx="392.33" cy="597.00" r="0.80" fill="#1a1a1a"/>
<circle cx="385.66" cy="603.00" r="0.80" fill="#1a1a1a"/>
<circle cx="390.75" cy="608.00" r="0.80" fill="#1a1a1a"/>
<circle cx="391.41" cy="610.00" r="0.80" fill="#1a1a1a"/>
<circle cx="385.63" cy="612.00" r="0.80" fill="#1a1a1a"/>
<circle cx="391.01" cy="613.00" r="0.80" fill="#1a1a1a"/>
<circle cx="388.06" cy="614.00" r="0.80" fill="#1a1a1a"/>
<circle cx="389.55" cy="615.00" r="0.80" fill="#1a1a1a"/>
<circle cx="385.56" cy="616.00" r="0.80" fill="#1a1a1a"/>
<circle cx="385.83" cy="617.00" r="0.80" fill="#1a1a1a"/>
<circle cx="386.77" cy="618.00" r="0.80" fill="#1a1a1a"/>
<circle cx="392.19" cy="619.00" r="0.80" fill="#1a1a1a"/>
<circle cx="386.88" cy="620.00" r="0.80" fill="#1a1a1a"/>
<circle cx="390.79" cy="621.00" r="0.80" fill="#1a1a1a"/>
<line x1="403.50" y1="611.00" x2="403.50" y2="624.00" stroke="#999" stroke-width="0.7"/>
<line x1="403.50" y1="629.90" x2="403.50" y2="632.20" stroke="#333" stroke-width="0.8"/>
<rect x="399.00" y="617.60" width="9.00" height="2.70" fill="#2f6494" stroke="#999" stroke-width="0.4"/>
<line x1="399.00" y1="619.00" x2="408.00" y2="619.00" stroke="#333" stroke-width="0.7"/>
<circle cx="406.94" cy="610.00" r="0.80" fill="#1a1a1a"/>
<circle cx="407.04" cy="612.00" r="0.80" fill="#1a1a1a"/>
<circle cx="402.26" cy="614.00" r="0.80" fill="#1a1a1a"/>
<circle cx="402.34" cy="616.00" r="0.80" fill="#1a1a1a"/>
<circle cx="403.70" cy="617.00" r="0.80" fill="#1a1a1a"/>
<circle cx="405.70" cy="618.00" r="0.80" fill="#1a1a1a"/>
<circle cx="400.36" cy="618.50" r="0.80" fill="#1a1a1a"/>
<circle cx="405.49" cy="619.00" r="0.80" fill="#1a1a1a"/>
<circle cx="405.88" cy="619.50" r="0.80" fill="#1a1a1a"/>
<circle cx="406.38" cy="620.00" r="0.80" fill="#1a1a1a"/>
<circle cx="399.79" cy="621.00" r="0.80" fill="#1a1a1a"/>
<circle cx="407.07" cy="622.00" r="0.80" fill="#1a1a1a"/>
<circle cx="400.23" cy="623.00" r="0.80" fill="#1a1a1a"/>
<circle cx="402.23" cy="624.00" r="0.80" fill="#1a1a1a"/>
<line x1="388.60" y1="583.20" x2="403.90" y2="583.20" stroke="#333" stroke-width="0.7"/>
<line x1="388.60" y1="583.20" x2="388.60" y2="584.50" stroke="#333" stroke-width="0.7"/>
<line x1="403.90" y1="583.20" x2="403.90" y2="584.50" stroke="#333" stroke-width="0.7"/>
<text transform="translate(396.25 583.70)" font-size="7.5" fill="#222" text-anchor="middle" stroke="#222" stroke-width="0.2">**</text>
<text transform="translate(392.50 638.50) rotate(-45) scale(1.0163 1)" font-size="6.4" fill="#333" text-anchor="end" stroke="#333" stroke-width="0.2">Non–responsive</text>
<text transform="translate(407.00 638.50) rotate(-45) scale(0.9869 1)" font-size="6.4" fill="#333" text-anchor="end" stroke="#333" stroke-width="0.2">Responsive</text>
<text transform="translate(355.00 600.00) rotate(-90) scale(0.8529 1)" font-size="7.6" fill="#333" text-anchor="middle" stroke="#333" stroke-width="0.2">Gene expression</text>
<text transform="translate(138.45 559.60) scale(0.9996 1)" font-size="6.3" fill="#333" text-anchor="middle" stroke="#333" stroke-width="0.2">rRNA processing in</text>
<text transform="translate(138.45 566.60) scale(1.0547 1)" font-size="6.3" fill="#333" text-anchor="middle" stroke="#333" stroke-width="0.2">MCL patients</text>
<path d="M109.20,576.30 H115.05 V577.32 H123.83 V579.87 H132.60 V585.48 H138.45 V587.52 H161.85 V587.52 V604.35 H161.85 V604.35 H138.45 V602.82 H135.53 V599.25 H129.68 V595.68 H123.83 V590.58 H117.97 V586.50 H112.12 V576.30 H109.20 Z" fill="#cdbcdd" opacity="0.9"/>
<path d="M109.20,576.30 H112.12 V583.95 H115.05 V589.05 H120.90 V592.62 H126.75 V595.17 H132.60 V596.70 H138.45 V597.72 H151.91 V597.72 V626.28 H151.91 V626.28 H144.30 V623.22 H138.45 V621.18 H132.60 V618.12 H126.75 V614.55 H120.90 V612.00 H115.05 V606.90 H112.71 V601.80 H110.95 V576.30 H109.20 Z" fill="#f2a6b8" opacity="0.65"/>
<path d="M109.20,576.30 H110.37 V578.34 H112.12 V580.38 H114.47 V582.42 H116.81 V583.44 H119.73 V585.48 H122.66 V587.52 H125.58 V589.56 H128.50 V590.58 H131.43 V592.62 H134.35 V594.66 H137.28 V596.70 H161.85 V596.70" fill="none" stroke="#4a2a6a" stroke-width="1.1"/>
<path d="M109.20,576.30 H109.78 V581.40 H110.37 V586.50 H110.95 V591.60 H111.54 V596.70 H112.71 V599.25 H115.05 V601.80 H117.97 V604.35 H120.90 V606.90 H123.83 V609.45 H128.50 V612.00 H137.28 V614.55 H141.38 V617.10 H144.30 V621.18 H151.91 V621.18" fill="none" stroke="#cc2448" stroke-width="1.1"/>
<line x1="118.30" y1="601.80" x2="118.30" y2="627.30" stroke="#777" stroke-width="0.6" stroke-dasharray="0.8,1"/>
<line x1="109.20" y1="601.80" x2="118.30" y2="601.80" stroke="#777" stroke-width="0.6" stroke-dasharray="0.8,1"/>
<text transform="translate(109.20 618.60) scale(0.9432 1)" font-size="6.3" fill="#333" stroke="#333" stroke-width="0.2">P = .00028</text>
<line x1="105.80" y1="574.20" x2="105.80" y2="630.60" stroke="#333" stroke-width="1"/>
<line x1="105.80" y1="630.60" x2="169.70" y2="630.60" stroke="#333" stroke-width="1"/>
<line x1="103.30" y1="576.30" x2="105.80" y2="576.30" stroke="#333" stroke-width="0.8"/>
<text transform="translate(101.20 578.50) scale(1.0116 1)" font-size="6.4" fill="#333" text-anchor="end" stroke="#333" stroke-width="0.2">1.00</text>
<line x1="103.30" y1="589.05" x2="105.80" y2="589.05" stroke="#333" stroke-width="0.8"/>
<text transform="translate(101.20 591.25) scale(1.0116 1)" font-size="6.4" fill="#333" text-anchor="end" stroke="#333" stroke-width="0.2">0.75</text>
<line x1="103.30" y1="601.80" x2="105.80" y2="601.80" stroke="#333" stroke-width="0.8"/>
<text transform="translate(101.20 604.00) scale(1.0116 1)" font-size="6.4" fill="#333" text-anchor="end" stroke="#333" stroke-width="0.2">0.50</text>
<line x1="103.30" y1="614.55" x2="105.80" y2="614.55" stroke="#333" stroke-width="0.8"/>
<text transform="translate(101.20 616.75) scale(1.0116 1)" font-size="6.4" fill="#333" text-anchor="end" stroke="#333" stroke-width="0.2">0.25</text>
<line x1="103.30" y1="627.30" x2="105.80" y2="627.30" stroke="#333" stroke-width="0.8"/>
<text transform="translate(101.20 629.50) scale(1.0116 1)" font-size="6.4" fill="#333" text-anchor="end" stroke="#333" stroke-width="0.2">0.00</text>
<line x1="109.20" y1="630.60" x2="109.20" y2="633.00" stroke="#333" stroke-width="0.8"/>
<text transform="translate(109.20 641.10)" font-size="6.6" fill="#333" text-anchor="middle" stroke="#333" stroke-width="0.2">0</text>
<line x1="123.83" y1="630.60" x2="123.83" y2="633.00" stroke="#333" stroke-width="0.8"/>
<text transform="translate(123.83 641.10)" font-size="6.6" fill="#333" text-anchor="middle" stroke="#333" stroke-width="0.2">2.5</text>
<line x1="138.45" y1="630.60" x2="138.45" y2="633.00" stroke="#333" stroke-width="0.8"/>
<text transform="translate(138.45 641.10)" font-size="6.6" fill="#333" text-anchor="middle" stroke="#333" stroke-width="0.2">5</text>
<line x1="153.07" y1="630.60" x2="153.07" y2="633.00" stroke="#333" stroke-width="0.8"/>
<text transform="translate(153.07 641.10)" font-size="6.6" fill="#333" text-anchor="middle" stroke="#333" stroke-width="0.2">7.5</text>
<line x1="167.70" y1="630.60" x2="167.70" y2="633.00" stroke="#333" stroke-width="0.8"/>
<text transform="translate(167.70 641.10)" font-size="6.6" fill="#333" text-anchor="middle" stroke="#333" stroke-width="0.2">10</text>
<text transform="translate(138.95 654.00) scale(0.7913 1)" font-size="8.2" fill="#333" text-anchor="middle" stroke="#333" stroke-width="0.2">Survival year</text>
<text transform="translate(82.30 600.50) rotate(-90) scale(0.8579 1)" font-size="8.0" fill="#333" text-anchor="middle" stroke="#333" stroke-width="0.2">Survival probability</text>
<rect x="115.00" y="663.20" width="3.80" height="3.00" fill="#5a4a8a"/>
<text transform="translate(122.70 667.40) scale(0.9975 1)" font-size="6.5" fill="#333" stroke="#333" stroke-width="0.2">Group = Low</text>
<rect x="115.00" y="671.90" width="3.80" height="3.00" fill="#e0506a"/>
<text transform="translate(122.70 676.10) scale(1.0093 1)" font-size="6.5" fill="#333" stroke="#333" stroke-width="0.2">Group = High</text>
<text transform="translate(309.00 559.60) scale(1.0111 1)" font-size="6.3" fill="#333" text-anchor="middle" stroke="#333" stroke-width="0.2">Giant–UP signature in</text>
<text transform="translate(309.00 566.60) scale(1.0547 1)" font-size="6.3" fill="#333" text-anchor="middle" stroke="#333" stroke-width="0.2">MCL patients</text>
<path d="M279.20,576.30 H285.16 V577.32 H294.10 V581.40 H300.06 V586.50 H306.02 V589.05 H332.84 V589.05 V607.92 H332.84 V607.92 H309.00 V605.88 H306.02 V601.80 H300.06 V595.68 H294.10 V590.58 H288.14 V586.50 H282.18 V576.30 H279.20 Z" fill="#cdbcdd" opacity="0.9"/>
<path d="M279.20,576.30 H282.18 V583.95 H285.16 V590.58 H291.12 V593.64 H297.08 V596.70 H303.04 V599.25 H309.00 V601.80 H322.71 V601.80 V622.20 H322.71 V622.20 H314.96 V620.16 H309.00 V618.12 H303.04 V616.08 H297.08 V614.55 H291.12 V612.00 H285.16 V606.90 H282.78 V601.80 H280.99 V576.30 H279.20 Z" fill="#f2a6b8" opacity="0.65"/>
<path d="M279.20,576.30 H280.99 V578.85 H283.97 V581.40 H286.95 V583.44 H289.93 V584.97 H292.91 V586.50 H295.89 V588.54 H298.87 V590.58 H301.85 V592.62 H304.83 V595.68 H307.21 V597.72 H309.00 V600.27 H332.84 V600.27" fill="none" stroke="#4a2a6a" stroke-width="1.1"/>
<path d="M279.20,576.30 H279.80 V583.95 H280.39 V591.60 H280.99 V596.70 H281.58 V601.80 H283.37 V603.33 H286.35 V604.86 H291.12 V606.90 H294.70 V608.43 H298.27 V609.96 H303.04 V610.47 H309.00 V612.00 H314.96 V614.55 H322.71 V614.55" fill="none" stroke="#cc2448" stroke-width="1.1"/>
<line x1="284.50" y1="601.80" x2="284.50" y2="627.30" stroke="#777" stroke-width="0.6" stroke-dasharray="0.8,1"/>
<line x1="279.20" y1="601.80" x2="284.50" y2="601.80" stroke="#777" stroke-width="0.6" stroke-dasharray="0.8,1"/>
<text transform="translate(279.20 618.60) scale(0.9951 1)" font-size="6.3" fill="#333" stroke="#333" stroke-width="0.2">P = .0042</text>
<line x1="276.20" y1="574.20" x2="276.20" y2="630.60" stroke="#333" stroke-width="1"/>
<line x1="276.20" y1="630.60" x2="340.80" y2="630.60" stroke="#333" stroke-width="1"/>
<line x1="273.70" y1="576.30" x2="276.20" y2="576.30" stroke="#333" stroke-width="0.8"/>
<text transform="translate(271.60 578.50) scale(1.0116 1)" font-size="6.4" fill="#333" text-anchor="end" stroke="#333" stroke-width="0.2">1.00</text>
<line x1="273.70" y1="589.05" x2="276.20" y2="589.05" stroke="#333" stroke-width="0.8"/>
<text transform="translate(271.60 591.25) scale(1.0116 1)" font-size="6.4" fill="#333" text-anchor="end" stroke="#333" stroke-width="0.2">0.75</text>
<line x1="273.70" y1="601.80" x2="276.20" y2="601.80" stroke="#333" stroke-width="0.8"/>
<text transform="translate(271.60 604.00) scale(1.0116 1)" font-size="6.4" fill="#333" text-anchor="end" stroke="#333" stroke-width="0.2">0.50</text>
<line x1="273.70" y1="614.55" x2="276.20" y2="614.55" stroke="#333" stroke-width="0.8"/>
<text transform="translate(271.60 616.75) scale(1.0116 1)" font-size="6.4" fill="#333" text-anchor="end" stroke="#333" stroke-width="0.2">0.25</text>
<line x1="273.70" y1="627.30" x2="276.20" y2="627.30" stroke="#333" stroke-width="0.8"/>
<text transform="translate(271.60 629.50) scale(1.0116 1)" font-size="6.4" fill="#333" text-anchor="end" stroke="#333" stroke-width="0.2">0.00</text>
<line x1="279.20" y1="630.60" x2="279.20" y2="633.00" stroke="#333" stroke-width="0.8"/>
<text transform="translate(279.20 641.10)" font-size="6.6" fill="#333" text-anchor="middle" stroke="#333" stroke-width="0.2">0</text>
<line x1="294.10" y1="630.60" x2="294.10" y2="633.00" stroke="#333" stroke-width="0.8"/>
<text transform="translate(294.10 641.10)" font-size="6.6" fill="#333" text-anchor="middle" stroke="#333" stroke-width="0.2">2.5</text>
<line x1="309.00" y1="630.60" x2="309.00" y2="633.00" stroke="#333" stroke-width="0.8"/>
<text transform="translate(309.00 641.10)" font-size="6.6" fill="#333" text-anchor="middle" stroke="#333" stroke-width="0.2">5</text>
<line x1="323.90" y1="630.60" x2="323.90" y2="633.00" stroke="#333" stroke-width="0.8"/>
<text transform="translate(323.90 641.10)" font-size="6.6" fill="#333" text-anchor="middle" stroke="#333" stroke-width="0.2">7.5</text>
<line x1="338.80" y1="630.60" x2="338.80" y2="633.00" stroke="#333" stroke-width="0.8"/>
<text transform="translate(338.80 641.10)" font-size="6.6" fill="#333" text-anchor="middle" stroke="#333" stroke-width="0.2">10</text>
<text transform="translate(309.50 654.00) scale(0.7913 1)" font-size="8.2" fill="#333" text-anchor="middle" stroke="#333" stroke-width="0.2">Survival year</text>
<text transform="translate(252.70 600.50) rotate(-90) scale(0.8579 1)" font-size="8.0" fill="#333" text-anchor="middle" stroke="#333" stroke-width="0.2">Survival probability</text>
<rect x="286.50" y="663.20" width="3.80" height="3.00" fill="#5a4a8a"/>
<text transform="translate(294.20 667.40) scale(0.9975 1)" font-size="6.5" fill="#333" stroke="#333" stroke-width="0.2">Group = Low</text>
<rect x="286.50" y="671.90" width="3.80" height="3.00" fill="#e0506a"/>
<text transform="translate(294.20 676.10) scale(1.0093 1)" font-size="6.5" fill="#333" stroke="#333" stroke-width="0.2">Group = High</text>
<text transform="translate(480.20 559.60) scale(1.0157 1)" font-size="6.3" fill="#333" text-anchor="middle" stroke="#333" stroke-width="0.2">GOT2 expression in</text>
<text transform="translate(480.20 566.60) scale(1.0547 1)" font-size="6.3" fill="#333" text-anchor="middle" stroke="#333" stroke-width="0.2">MCL patients</text>
<path d="M451.20,576.30 H457.00 V577.32 H465.70 V582.42 H471.50 V587.52 H477.30 V590.58 H503.40 V590.58 V607.92 H503.40 V607.92 H480.20 V605.88 H477.30 V601.80 H471.50 V595.68 H465.70 V590.58 H459.90 V586.50 H454.10 V576.30 H451.20 Z" fill="#cdbcdd" opacity="0.9"/>
<path d="M451.20,576.30 H454.10 V583.95 H457.00 V590.58 H462.80 V593.64 H468.60 V596.70 H474.40 V598.23 H480.20 V599.25 H503.40 V599.25 V622.20 H503.40 V622.20 H486.00 V620.16 H480.20 V618.12 H474.40 V616.08 H468.60 V614.55 H462.80 V612.00 H457.00 V606.90 H454.68 V601.80 H452.94 V576.30 H451.20 Z" fill="#f2a6b8" opacity="0.65"/>
<path d="M451.20,576.30 H452.94 V578.85 H455.84 V581.40 H458.74 V583.44 H461.64 V585.48 H464.54 V587.52 H467.44 V589.05 H470.34 V590.58 H473.24 V592.62 H476.14 V595.68 H478.46 V597.72 H480.20 V600.27 H503.40 V600.27" fill="none" stroke="#4a2a6a" stroke-width="1.1"/>
<path d="M451.20,576.30 H451.78 V583.95 H452.36 V590.58 H452.94 V596.70 H454.10 V600.78 H455.84 V602.82 H458.16 V604.35 H462.80 V605.88 H465.70 V607.92 H469.76 V609.45 H474.40 V610.47 H480.20 V612.00 H486.00 V614.55 H503.40 V614.55" fill="none" stroke="#cc2448" stroke-width="1.1"/>
<line x1="460.50" y1="601.80" x2="460.50" y2="627.30" stroke="#777" stroke-width="0.6" stroke-dasharray="0.8,1"/>
<line x1="451.20" y1="601.80" x2="460.50" y2="601.80" stroke="#777" stroke-width="0.6" stroke-dasharray="0.8,1"/>
<text transform="translate(451.20 618.60) scale(0.9638 1)" font-size="6.3" fill="#333" stroke="#333" stroke-width="0.2">P = .02</text>
<line x1="448.70" y1="574.20" x2="448.70" y2="630.60" stroke="#333" stroke-width="1"/>
<line x1="448.70" y1="630.60" x2="511.20" y2="630.60" stroke="#333" stroke-width="1"/>
<line x1="446.20" y1="576.30" x2="448.70" y2="576.30" stroke="#333" stroke-width="0.8"/>
<text transform="translate(444.10 578.50) scale(1.0116 1)" font-size="6.4" fill="#333" text-anchor="end" stroke="#333" stroke-width="0.2">1.00</text>
<line x1="446.20" y1="589.05" x2="448.70" y2="589.05" stroke="#333" stroke-width="0.8"/>
<text transform="translate(444.10 591.25) scale(1.0116 1)" font-size="6.4" fill="#333" text-anchor="end" stroke="#333" stroke-width="0.2">0.75</text>
<line x1="446.20" y1="601.80" x2="448.70" y2="601.80" stroke="#333" stroke-width="0.8"/>
<text transform="translate(444.10 604.00) scale(1.0116 1)" font-size="6.4" fill="#333" text-anchor="end" stroke="#333" stroke-width="0.2">0.50</text>
<line x1="446.20" y1="614.55" x2="448.70" y2="614.55" stroke="#333" stroke-width="0.8"/>
<text transform="translate(444.10 616.75) scale(1.0116 1)" font-size="6.4" fill="#333" text-anchor="end" stroke="#333" stroke-width="0.2">0.25</text>
<line x1="446.20" y1="627.30" x2="448.70" y2="627.30" stroke="#333" stroke-width="0.8"/>
<text transform="translate(444.10 629.50) scale(1.0116 1)" font-size="6.4" fill="#333" text-anchor="end" stroke="#333" stroke-width="0.2">0.00</text>
<line x1="451.20" y1="630.60" x2="451.20" y2="633.00" stroke="#333" stroke-width="0.8"/>
<text transform="translate(451.20 641.10)" font-size="6.6" fill="#333" text-anchor="middle" stroke="#333" stroke-width="0.2">0</text>
<line x1="465.70" y1="630.60" x2="465.70" y2="633.00" stroke="#333" stroke-width="0.8"/>
<text transform="translate(465.70 641.10)" font-size="6.6" fill="#333" text-anchor="middle" stroke="#333" stroke-width="0.2">2.5</text>
<line x1="480.20" y1="630.60" x2="480.20" y2="633.00" stroke="#333" stroke-width="0.8"/>
<text transform="translate(480.20 641.10)" font-size="6.6" fill="#333" text-anchor="middle" stroke="#333" stroke-width="0.2">5</text>
<line x1="494.70" y1="630.60" x2="494.70" y2="633.00" stroke="#333" stroke-width="0.8"/>
<text transform="translate(494.70 641.10)" font-size="6.6" fill="#333" text-anchor="middle" stroke="#333" stroke-width="0.2">7.5</text>
<line x1="509.20" y1="630.60" x2="509.20" y2="633.00" stroke="#333" stroke-width="0.8"/>
<text transform="translate(509.20 641.10)" font-size="6.6" fill="#333" text-anchor="middle" stroke="#333" stroke-width="0.2">10</text>
<text transform="translate(480.70 654.00) scale(0.7913 1)" font-size="8.2" fill="#333" text-anchor="middle" stroke="#333" stroke-width="0.2">Survival year</text>
<text transform="translate(425.20 600.50) rotate(-90) scale(0.8579 1)" font-size="8.0" fill="#333" text-anchor="middle" stroke="#333" stroke-width="0.2">Survival probability</text>
<rect x="458.40" y="663.20" width="3.80" height="3.00" fill="#5a4a8a"/>
<text transform="translate(466.10 667.40) scale(0.9975 1)" font-size="6.5" fill="#333" stroke="#333" stroke-width="0.2">Group = Low</text>
<rect x="458.40" y="671.90" width="3.80" height="3.00" fill="#e0506a"/>
<text transform="translate(466.10 676.10) scale(1.0093 1)" font-size="6.5" fill="#333" stroke="#333" stroke-width="0.2">Group = High</text>
<rect x="0.5" y="0.5" width="519" height="683" fill="none" stroke="#5a5a5a" stroke-width="1"/>
</svg>
</body></html>
